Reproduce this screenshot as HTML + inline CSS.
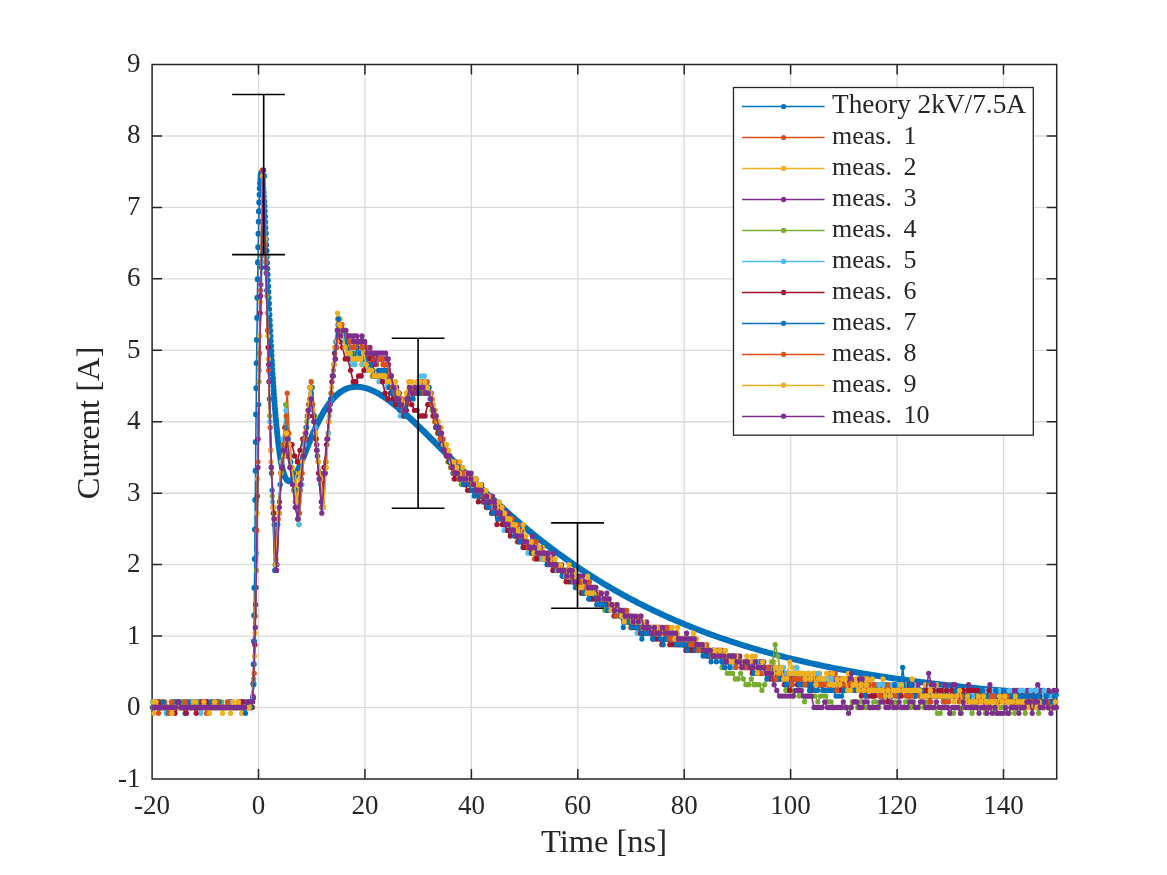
<!DOCTYPE html>
<html><head><meta charset="utf-8"><style>
html,body{margin:0;padding:0;background:#fff;}
svg{display:block;will-change:transform;}
text{font-family:"Liberation Serif",serif;fill:#262626;}
.tk{font-size:27px;}
.lg{font-size:26px;}
.al{font-size:32.5px;}
</style></head><body>
<svg width="1167" height="875" viewBox="0 0 1167 875">
<rect width="1167" height="875" fill="#fff"/>
<path d="M258.50 64.5V779.0M364.93 64.5V779.0M471.36 64.5V779.0M577.78 64.5V779.0M684.21 64.5V779.0M790.64 64.5V779.0M897.07 64.5V779.0M1003.50 64.5V779.0M152.1 707.55H1056.7M152.1 636.10H1056.7M152.1 564.65H1056.7M152.1 493.20H1056.7M152.1 421.75H1056.7M152.1 350.30H1056.7M152.1 278.85H1056.7M152.1 207.40H1056.7M152.1 135.95H1056.7" stroke="#dadada" stroke-width="1.35" fill="none"/>
<path d="M152.1 64.5H1056.7V779.0H152.1ZM152.1 779.0v-10.0M152.1 64.5v10.0M258.5 779.0v-10.0M258.5 64.5v10.0M364.9 779.0v-10.0M364.9 64.5v10.0M471.4 779.0v-10.0M471.4 64.5v10.0M577.8 779.0v-10.0M577.8 64.5v10.0M684.2 779.0v-10.0M684.2 64.5v10.0M790.6 779.0v-10.0M790.6 64.5v10.0M897.1 779.0v-10.0M897.1 64.5v10.0M1003.5 779.0v-10.0M1003.5 64.5v10.0M152.1 779.0h10.0M1056.7 779.0h-10.0M152.1 707.5h10.0M1056.7 707.5h-10.0M152.1 636.1h10.0M1056.7 636.1h-10.0M152.1 564.6h10.0M1056.7 564.6h-10.0M152.1 493.2h10.0M1056.7 493.2h-10.0M152.1 421.7h10.0M1056.7 421.7h-10.0M152.1 350.3h10.0M1056.7 350.3h-10.0M152.1 278.8h10.0M1056.7 278.8h-10.0M152.1 207.4h10.0M1056.7 207.4h-10.0M152.1 135.9h10.0M1056.7 135.9h-10.0M152.1 64.5h10.0M1056.7 64.5h-10.0" stroke="#262626" stroke-width="1.5" fill="none"/>
<path d="M253.2 698.1L253.4 683.5L253.7 664.2L254.0 641.2L254.2 615.5L254.5 587.9L254.8 559.1L255.0 529.6L255.3 500.0L255.6 470.7L255.8 442.1L256.1 414.5L256.4 388.2L256.6 363.2L256.9 339.7L257.2 317.9L257.4 297.7L257.7 279.2L258.0 262.4L258.2 247.3L258.5 233.8L258.8 221.8L259.0 211.4L259.3 202.4L259.6 194.8L259.8 188.4L260.1 183.3L260.4 179.2L260.6 176.2L260.9 174.2L261.2 173.1L261.4 172.8L261.7 173.2L262.0 174.3L262.2 176.1L262.5 178.4L262.8 181.2L263.0 184.5L263.3 188.2L263.6 192.2L263.8 196.6L264.1 201.3L264.4 206.2L264.6 211.3L264.9 216.6L265.2 222.1L265.4 227.7L265.7 233.4L265.9 239.2L266.2 245.0L266.5 250.9L266.7 256.8L267.0 262.7L267.3 268.7L267.5 274.6L267.8 280.5L268.1 286.3L268.3 292.1L268.6 297.8L268.9 303.5L269.1 309.2L269.4 314.7L269.7 320.2L269.9 325.5L270.2 330.8L270.5 336.0L270.7 341.1L271.0 346.1L271.3 351.0L271.5 355.8L271.8 360.5L272.1 365.1L272.3 369.6L272.6 374.0L272.9 378.3L273.1 382.4L273.4 386.5L273.7 390.5L273.9 394.3L274.2 398.1L274.5 401.7L274.7 405.2L275.0 408.7L275.3 412.0L275.5 415.2L275.8 418.4L276.1 421.4L276.3 424.4L276.6 427.2L276.9 429.9L277.1 432.6L277.4 435.2L277.7 437.6L277.9 440.0L278.2 442.3L278.5 444.6L278.7 446.7L279.0 448.7L279.3 450.7L279.5 452.6L279.8 454.4L280.1 456.2L280.3 457.8L280.6 459.4L280.8 461.0L281.1 462.4L281.4 463.8L281.6 465.1L281.9 466.4L282.2 467.6L282.4 468.7L282.7 469.8L283.0 470.8L283.2 471.8L283.5 472.7L283.8 473.6L284.0 474.4L284.3 475.1L284.6 475.8L284.8 476.4L285.1 477.1L285.4 477.6L285.6 478.1L285.9 478.6L286.2 479.0L286.4 479.4L286.7 479.7L287.0 480.0L287.5 480.5L288.0 480.9L288.6 481.1L289.1 481.2L289.6 481.2L290.2 481.1L290.7 480.8L291.2 480.5L291.8 480.0L292.3 479.5L292.8 478.9L293.1 478.6L293.4 478.3L293.6 477.9L293.9 477.5L294.2 477.1L294.4 476.7L294.7 476.3L295.0 475.8L295.2 475.4L295.5 474.9L295.7 474.4L296.0 474.0L296.3 473.5L296.5 472.9L296.8 472.4L297.1 471.9L297.3 471.3L297.6 470.8L297.9 470.2L298.1 469.7L298.4 469.1L298.7 468.5L298.9 467.9L299.2 467.3L299.5 466.7L299.7 466.1L300.0 465.5L300.3 464.8L300.5 464.2L300.8 463.6L301.1 462.9L301.3 462.3L301.6 461.7L301.9 461.0L302.1 460.4L302.4 459.7L302.7 459.0L302.9 458.4L303.2 457.7L303.5 457.1L303.7 456.4L304.0 455.7L304.3 455.1L304.5 454.4L304.8 453.7L305.1 453.0L305.3 452.4L305.6 451.7L305.9 451.0L306.1 450.4L306.4 449.7L306.7 449.0L306.9 448.4L307.2 447.7L307.5 447.0L307.7 446.3L308.0 445.7L308.3 445.0L308.5 444.4L308.8 443.7L309.1 443.0L309.3 442.4L309.6 441.7L309.9 441.1L310.1 440.4L310.4 439.8L310.6 439.1L310.9 438.5L311.2 437.8L311.4 437.2L311.7 436.6L312.0 435.9L312.2 435.3L312.5 434.7L312.8 434.1L313.0 433.4L313.3 432.8L313.6 432.2L313.8 431.6L314.1 431.0L314.4 430.4L314.6 429.8L314.9 429.2L315.2 428.6L315.4 428.0L315.7 427.4L316.0 426.9L316.2 426.3L316.5 425.7L316.8 425.1L317.0 424.6L317.3 424.0L317.6 423.5L317.8 422.9L318.1 422.4L318.4 421.8L318.6 421.3L318.9 420.8L319.2 420.2L319.4 419.7L319.7 419.2L320.0 418.7L320.2 418.2L320.5 417.6L320.8 417.1L321.0 416.6L321.3 416.1L321.6 415.7L321.8 415.2L322.1 414.7L322.4 414.2L322.6 413.7L322.9 413.3L323.2 412.8L323.4 412.4L323.7 411.9L324.0 411.4L324.2 411.0L324.5 410.6L324.8 410.1L325.0 409.7L325.3 409.3L325.5 408.8L325.8 408.4L326.1 408.0L326.3 407.6L326.6 407.2L326.9 406.8L327.1 406.4L327.4 406.0L327.7 405.6L327.9 405.2L328.2 404.9L328.5 404.5L328.7 404.1L329.0 403.8L329.3 403.4L329.5 403.0L329.8 402.7L330.1 402.3L330.3 402.0L330.6 401.7L330.9 401.3L331.1 401.0L331.4 400.7L331.7 400.4L331.9 400.0L332.2 399.7L332.5 399.4L332.7 399.1L333.3 398.5L333.8 397.9L334.3 397.4L334.9 396.8L335.4 396.3L335.9 395.8L336.5 395.3L337.0 394.8L337.5 394.4L338.1 393.9L338.6 393.5L339.1 393.1L339.7 392.7L340.2 392.3L340.7 391.9L341.2 391.5L341.8 391.2L342.3 390.9L342.8 390.6L343.4 390.3L343.9 390.0L344.4 389.7L345.0 389.4L345.5 389.2L346.0 388.9L346.6 388.7L347.1 388.5L347.6 388.3L348.2 388.1L348.7 388.0L349.2 387.8L349.8 387.7L350.3 387.5L350.8 387.4L351.4 387.3L351.9 387.2L352.4 387.1L353.0 387.0L353.5 387.0L354.0 386.9L354.6 386.9L355.1 386.8L355.6 386.8L356.1 386.8L356.7 386.8L357.2 386.8L357.7 386.8L358.3 386.8L358.8 386.9L359.3 386.9L359.9 387.0L360.4 387.0L360.9 387.1L361.5 387.2L362.0 387.3L362.5 387.4L363.1 387.5L363.6 387.6L364.1 387.7L364.7 387.8L365.2 388.0L365.7 388.1L366.3 388.3L366.8 388.4L367.3 388.6L367.9 388.8L368.4 389.0L368.9 389.2L369.5 389.4L370.0 389.6L370.5 389.8L371.0 390.0L371.6 390.2L372.1 390.4L372.6 390.7L373.2 390.9L373.7 391.2L374.2 391.4L374.8 391.7L375.3 392.0L375.8 392.2L376.4 392.5L376.9 392.8L377.4 393.1L378.0 393.4L378.5 393.7L379.0 394.0L379.6 394.3L380.1 394.6L380.6 394.9L381.2 395.3L381.7 395.6L382.2 395.9L382.8 396.3L383.3 396.6L383.8 397.0L384.4 397.3L384.9 397.7L385.4 398.0L385.9 398.4L386.5 398.8L387.0 399.1L387.5 399.5L388.1 399.9L388.6 400.3L389.1 400.7L389.7 401.1L390.2 401.5L390.7 401.9L391.3 402.3L391.8 402.7L392.3 403.1L392.9 403.5L393.4 403.9L393.9 404.3L394.5 404.8L395.0 405.2L395.5 405.6L396.1 406.0L396.6 406.5L397.1 406.9L397.7 407.4L398.2 407.8L398.7 408.2L399.3 408.7L399.8 409.1L400.3 409.6L400.8 410.1L401.4 410.5L401.9 411.0L402.4 411.4L403.0 411.9L403.5 412.4L404.0 412.8L404.6 413.3L405.1 413.8L405.6 414.3L406.2 414.7L406.7 415.2L407.2 415.7L407.8 416.2L408.3 416.7L408.8 417.1L409.4 417.6L409.9 418.1L410.4 418.6L411.0 419.1L411.5 419.6L412.0 420.1L412.6 420.6L413.1 421.1L413.6 421.6L414.2 422.1L414.7 422.6L415.2 423.1L415.7 423.6L416.3 424.1L416.8 424.6L417.3 425.1L417.9 425.7L418.4 426.2L418.9 426.7L419.5 427.2L420.0 427.7L420.5 428.2L421.1 428.7L421.6 429.3L422.1 429.8L422.7 430.3L423.2 430.8L423.7 431.3L424.3 431.9L424.8 432.4L425.3 432.9L425.9 433.4L426.4 434.0L426.9 434.5L427.5 435.0L428.0 435.5L428.5 436.1L429.1 436.6L429.6 437.1L430.1 437.6L430.6 438.2L431.2 438.7L431.7 439.2L432.2 439.8L432.8 440.3L433.3 440.8L433.8 441.4L434.4 441.9L434.9 442.4L435.4 443.0L436.0 443.5L436.5 444.0L437.0 444.6L437.6 445.1L438.1 445.6L438.6 446.2L439.2 446.7L439.7 447.2L440.2 447.8L440.8 448.3L441.3 448.8L441.8 449.4L442.4 449.9L442.9 450.4L443.4 451.0L444.0 451.5L444.5 452.1L445.0 452.6L445.5 453.1L446.1 453.7L446.6 454.2L447.1 454.7L447.7 455.3L448.2 455.8L448.7 456.3L449.3 456.9L449.8 457.4L450.3 457.9L450.9 458.5L451.4 459.0L451.9 459.5L452.5 460.1L453.0 460.6L453.5 461.1L454.1 461.7L454.6 462.2L455.1 462.7L455.7 463.3L456.2 463.8L456.7 464.3L457.3 464.9L457.8 465.4L458.3 465.9L458.9 466.5L459.4 467.0L459.9 467.5L460.4 468.0L461.0 468.6L461.5 469.1L462.0 469.6L462.6 470.2L463.1 470.7L463.6 471.2L464.2 471.7L464.7 472.3L465.2 472.8L465.8 473.3L466.3 473.8L466.8 474.4L467.4 474.9L467.9 475.4L468.4 475.9L469.0 476.5L469.5 477.0L470.0 477.5L470.6 478.0L471.1 478.5L471.6 479.1L472.2 479.6L472.7 480.1L473.2 480.6L473.8 481.1L474.3 481.7L474.8 482.2L475.3 482.7L475.9 483.2L476.4 483.7L476.9 484.2L477.5 484.7L478.0 485.3L478.5 485.8L479.1 486.3L479.6 486.8L480.1 487.3L480.7 487.8L481.2 488.3L481.7 488.8L482.3 489.3L482.8 489.8L483.3 490.3L483.9 490.8L484.4 491.4L484.9 491.9L485.5 492.4L486.0 492.9L486.5 493.4L487.1 493.9L487.6 494.4L488.1 494.9L488.7 495.4L489.2 495.9L489.7 496.4L490.2 496.9L490.8 497.4L491.3 497.8L491.8 498.3L492.4 498.8L492.9 499.3L493.4 499.8L494.0 500.3L494.5 500.8L495.0 501.3L495.6 501.8L496.1 502.3L496.6 502.8L497.2 503.2L497.7 503.7L498.2 504.2L498.8 504.7L499.3 505.2L499.8 505.7L500.4 506.1L500.9 506.6L501.4 507.1L502.0 507.6L502.5 508.1L503.0 508.5L503.6 509.0L504.1 509.5L504.6 510.0L505.1 510.5L505.7 510.9L506.2 511.4L506.7 511.9L507.3 512.3L507.8 512.8L508.3 513.3L508.9 513.8L509.4 514.2L509.9 514.7L510.5 515.2L511.0 515.6L511.5 516.1L512.1 516.6L512.6 517.0L513.1 517.5L513.7 517.9L514.2 518.4L514.7 518.9L515.3 519.3L515.8 519.8L516.3 520.2L516.9 520.7L517.4 521.1L517.9 521.6L518.5 522.1L519.0 522.5L519.5 523.0L520.0 523.4L520.6 523.9L521.1 524.3L521.6 524.8L522.2 525.2L522.7 525.7L523.2 526.1L523.8 526.6L524.3 527.0L524.8 527.4L525.4 527.9L525.9 528.3L526.4 528.8L527.0 529.2L527.5 529.6L528.0 530.1L528.6 530.5L529.1 531.0L529.6 531.4L530.2 531.8L530.7 532.3L531.2 532.7L531.8 533.1L532.3 533.6L532.8 534.0L533.4 534.4L533.9 534.8L534.4 535.3L534.9 535.7L535.5 536.1L536.0 536.6L536.5 537.0L537.1 537.4L537.6 537.8L538.1 538.2L538.7 538.7L539.2 539.1L539.7 539.5L540.3 539.9L540.8 540.3L541.3 540.8L541.9 541.2L542.4 541.6L542.9 542.0L543.5 542.4L544.0 542.8L544.5 543.2L545.1 543.7L545.6 544.1L546.1 544.5L546.7 544.9L547.2 545.3L547.7 545.7L548.3 546.1L548.8 546.5L549.3 546.9L549.8 547.3L550.4 547.7L550.9 548.1L551.4 548.5L552.0 548.9L552.5 549.3L553.0 549.7L553.6 550.1L554.1 550.5L554.6 550.9L555.2 551.3L555.7 551.7L556.2 552.1L556.8 552.5L557.3 552.9L557.8 553.3L558.4 553.6L558.9 554.0L559.4 554.4L560.0 554.8L560.5 555.2L561.0 555.6L561.6 556.0L562.1 556.3L562.6 556.7L563.2 557.1L563.7 557.5L564.2 557.9L564.7 558.2L565.3 558.6L565.8 559.0L566.3 559.4L566.9 559.8L567.4 560.1L567.9 560.5L568.5 560.9L569.0 561.3L569.5 561.6L570.1 562.0L570.6 562.4L571.1 562.7L571.7 563.1L572.2 563.5L572.7 563.8L573.3 564.2L573.8 564.6L574.3 564.9L574.9 565.3L575.4 565.7L575.9 566.0L576.5 566.4L577.0 566.7L577.5 567.1L578.1 567.5L578.6 567.8L579.1 568.2L579.6 568.5L580.2 568.9L580.7 569.2L581.2 569.6L581.8 569.9L582.3 570.3L582.8 570.6L583.4 571.0L583.9 571.3L584.4 571.7L585.0 572.0L585.5 572.4L586.0 572.7L586.6 573.1L587.1 573.4L587.6 573.8L588.2 574.1L588.7 574.4L589.2 574.8L589.8 575.1L590.3 575.5L590.8 575.8L591.4 576.1L591.9 576.5L592.4 576.8L592.9 577.2L593.5 577.5L594.0 577.8L594.5 578.2L595.1 578.5L595.6 578.8L596.1 579.1L596.7 579.5L597.2 579.8L597.7 580.1L598.3 580.5L598.8 580.8L599.3 581.1L599.9 581.4L600.4 581.8L600.9 582.1L601.5 582.4L602.0 582.7L602.5 583.1L603.1 583.4L603.6 583.7L604.1 584.0L604.7 584.3L605.2 584.7L605.7 585.0L606.3 585.3L606.8 585.6L607.3 585.9L607.8 586.2L608.4 586.5L608.9 586.9L609.4 587.2L610.0 587.5L610.5 587.8L611.0 588.1L611.6 588.4L612.1 588.7L612.6 589.0L613.2 589.3L613.7 589.6L614.2 589.9L614.8 590.2L615.3 590.5L615.8 590.9L616.4 591.2L616.9 591.5L617.4 591.8L618.0 592.1L618.5 592.4L619.0 592.7L619.6 593.0L620.1 593.2L620.6 593.5L621.2 593.8L621.7 594.1L622.2 594.4L622.7 594.7L623.3 595.0L623.8 595.3L624.3 595.6L624.9 595.9L625.4 596.2L625.9 596.5L626.5 596.8L627.0 597.0L627.5 597.3L628.1 597.6L628.6 597.9L629.1 598.2L629.7 598.5L630.2 598.8L630.7 599.0L631.3 599.3L631.8 599.6L632.3 599.9L632.9 600.2L633.4 600.4L633.9 600.7L634.5 601.0L635.0 601.3L635.5 601.6L636.1 601.8L636.6 602.1L637.1 602.4L637.6 602.7L638.2 602.9L638.7 603.2L639.2 603.5L639.8 603.7L640.3 604.0L640.8 604.3L641.4 604.6L641.9 604.8L642.4 605.1L643.0 605.4L643.5 605.6L644.0 605.9L644.6 606.2L645.1 606.4L645.6 606.7L646.2 606.9L646.7 607.2L647.2 607.5L647.8 607.7L648.3 608.0L648.8 608.3L649.4 608.5L649.9 608.8L650.4 609.0L651.0 609.3L651.5 609.5L652.0 609.8L652.5 610.1L653.1 610.3L653.6 610.6L654.1 610.8L654.7 611.1L655.2 611.3L655.7 611.6L656.3 611.8L656.8 612.1L657.3 612.3L657.9 612.6L658.4 612.8L658.9 613.1L659.5 613.3L660.0 613.6L660.5 613.8L661.1 614.1L661.6 614.3L662.1 614.5L662.7 614.8L663.2 615.0L663.7 615.3L664.3 615.5L664.8 615.8L665.3 616.0L665.9 616.2L666.4 616.5L666.9 616.7L667.4 617.0L668.0 617.2L668.5 617.4L669.0 617.7L669.6 617.9L670.1 618.1L670.6 618.4L671.2 618.6L671.7 618.8L672.2 619.1L672.8 619.3L673.3 619.5L673.8 619.8L674.4 620.0L674.9 620.2L675.4 620.5L676.0 620.7L676.5 620.9L677.0 621.1L677.6 621.4L678.1 621.6L678.6 621.8L679.2 622.0L679.7 622.3L680.2 622.5L680.8 622.7L681.3 622.9L681.8 623.2L682.3 623.4L682.9 623.6L683.4 623.8L683.9 624.0L684.5 624.3L685.0 624.5L685.5 624.7L686.1 624.9L686.6 625.1L687.1 625.4L687.7 625.6L688.2 625.8L688.7 626.0L689.3 626.2L689.8 626.4L690.3 626.6L690.9 626.9L691.4 627.1L691.9 627.3L692.5 627.5L693.0 627.7L693.5 627.9L694.1 628.1L694.6 628.3L695.1 628.5L695.7 628.8L696.2 629.0L696.7 629.2L697.2 629.4L697.8 629.6L698.3 629.8L698.8 630.0L699.4 630.2L699.9 630.4L700.4 630.6L701.0 630.8L701.5 631.0L702.0 631.2L702.6 631.4L703.1 631.6L703.6 631.8L704.2 632.0L704.7 632.2L705.2 632.4L705.8 632.6L706.3 632.8L706.8 633.0L707.4 633.2L707.9 633.4L708.4 633.6L709.0 633.8L709.5 634.0L710.0 634.2L710.6 634.4L711.1 634.6L711.6 634.8L712.1 634.9L712.7 635.1L713.2 635.3L713.7 635.5L714.3 635.7L714.8 635.9L715.3 636.1L715.9 636.3L716.4 636.5L716.9 636.7L717.5 636.8L718.0 637.0L718.5 637.2L719.1 637.4L719.6 637.6L720.1 637.8L720.7 638.0L721.2 638.1L721.7 638.3L722.3 638.5L722.8 638.7L723.3 638.9L723.9 639.1L724.4 639.2L724.9 639.4L725.5 639.6L726.0 639.8L726.5 640.0L727.0 640.1L727.6 640.3L728.1 640.5L728.6 640.7L729.2 640.8L729.7 641.0L730.2 641.2L730.8 641.4L731.3 641.5L731.8 641.7L732.4 641.9L732.9 642.1L733.4 642.2L734.0 642.4L734.5 642.6L735.0 642.8L735.6 642.9L736.1 643.1L736.6 643.3L737.2 643.4L737.7 643.6L738.2 643.8L738.8 644.0L739.3 644.1L739.8 644.3L740.4 644.5L740.9 644.6L741.4 644.8L741.9 645.0L742.5 645.1L743.0 645.3L743.5 645.5L744.1 645.6L744.6 645.8L745.1 645.9L745.7 646.1L746.2 646.3L746.7 646.4L747.3 646.6L747.8 646.8L748.3 646.9L748.9 647.1L749.4 647.2L749.9 647.4L750.5 647.6L751.0 647.7L751.5 647.9L752.1 648.0L752.6 648.2L753.1 648.4L753.7 648.5L754.2 648.7L754.7 648.8L755.3 649.0L755.8 649.1L756.3 649.3L756.8 649.4L757.4 649.6L757.9 649.8L758.4 649.9L759.0 650.1L759.5 650.2L760.0 650.4L760.6 650.5L761.1 650.7L761.6 650.8L762.2 651.0L762.7 651.1L763.2 651.3L763.8 651.4L764.3 651.6L764.8 651.7L765.4 651.9L765.9 652.0L766.4 652.2L767.0 652.3L767.5 652.5L768.0 652.6L768.6 652.7L769.1 652.9L769.6 653.0L770.2 653.2L770.7 653.3L771.2 653.5L771.7 653.6L772.3 653.8L772.8 653.9L773.3 654.0L773.9 654.2L774.4 654.3L774.9 654.5L775.5 654.6L776.0 654.7L776.5 654.9L777.1 655.0L777.6 655.2L778.1 655.3L778.7 655.4L779.2 655.6L779.7 655.7L780.3 655.9L780.8 656.0L781.3 656.1L781.9 656.3L782.4 656.4L782.9 656.5L783.5 656.7L784.0 656.8L784.5 657.0L785.1 657.1L785.6 657.2L786.1 657.4L786.6 657.5L787.2 657.6L787.7 657.8L788.2 657.9L788.8 658.0L789.3 658.2L789.8 658.3L790.4 658.4L790.9 658.5L791.4 658.7L792.0 658.8L792.5 658.9L793.0 659.1L793.6 659.2L794.1 659.3L794.6 659.5L795.2 659.6L795.7 659.7L796.2 659.8L796.8 660.0L797.3 660.1L797.8 660.2L798.4 660.3L798.9 660.5L799.4 660.6L800.0 660.7L800.5 660.8L801.0 661.0L801.5 661.1L802.1 661.2L802.6 661.3L803.1 661.5L803.7 661.6L804.2 661.7L804.7 661.8L805.3 661.9L805.8 662.1L806.3 662.2L806.9 662.3L807.4 662.4L807.9 662.6L808.5 662.7L809.0 662.8L809.5 662.9L810.1 663.0L810.6 663.1L811.1 663.3L811.7 663.4L812.2 663.5L812.7 663.6L813.3 663.7L813.8 663.9L814.3 664.0L814.9 664.1L815.4 664.2L815.9 664.3L816.4 664.4L817.0 664.5L817.5 664.7L818.0 664.8L818.6 664.9L819.1 665.0L819.6 665.1L820.2 665.2L820.7 665.3L821.2 665.5L821.8 665.6L822.3 665.7L822.8 665.8L823.4 665.9L823.9 666.0L824.4 666.1L825.0 666.2L825.5 666.3L826.0 666.5L826.6 666.6L827.1 666.7L827.6 666.8L828.2 666.9L828.7 667.0L829.2 667.1L829.8 667.2L830.3 667.3L830.8 667.4L831.3 667.5L831.9 667.6L832.4 667.8L832.9 667.9L833.5 668.0L834.0 668.1L834.5 668.2L835.1 668.3L835.6 668.4L836.1 668.5L836.7 668.6L837.2 668.7L837.7 668.8L838.3 668.9L838.8 669.0L839.3 669.1L839.9 669.2L840.4 669.3L840.9 669.4L841.5 669.5L842.0 669.6L842.5 669.7L843.1 669.8L843.6 669.9L844.1 670.0L844.7 670.1L845.2 670.2L845.7 670.3L846.2 670.4L846.8 670.5L847.3 670.6L847.8 670.7L848.4 670.8L848.9 670.9L849.4 671.0L850.0 671.1L850.5 671.2L851.0 671.3L851.6 671.4L852.1 671.5L852.6 671.6L853.2 671.7L853.7 671.8L854.2 671.9L854.8 672.0L855.3 672.1L855.8 672.2L856.4 672.3L856.9 672.4L857.4 672.5L858.0 672.5L858.5 672.6L859.0 672.7L859.6 672.8L860.1 672.9L860.6 673.0L861.1 673.1L861.7 673.2L862.2 673.3L862.7 673.4L863.3 673.5L863.8 673.6L864.3 673.7L864.9 673.7L865.4 673.8L865.9 673.9L866.5 674.0L867.0 674.1L867.5 674.2L868.1 674.3L868.6 674.4L869.1 674.5L869.7 674.5L870.2 674.6L870.7 674.7L871.3 674.8L871.8 674.9L872.3 675.0L872.9 675.1L873.4 675.2L873.9 675.2L874.5 675.3L875.0 675.4L875.5 675.5L876.0 675.6L876.6 675.7L877.1 675.8L877.6 675.8L878.2 675.9L878.7 676.0L879.2 676.1L879.8 676.2L880.3 676.3L880.8 676.4L881.4 676.4L881.9 676.5L882.4 676.6L883.0 676.7L883.5 676.8L884.0 676.9L884.6 676.9L885.1 677.0L885.6 677.1L886.2 677.2L886.7 677.3L887.2 677.3L887.8 677.4L888.3 677.5L888.8 677.6L889.4 677.7L889.9 677.7L890.4 677.8L890.9 677.9L891.5 678.0L892.0 678.1L892.5 678.1L893.1 678.2L893.6 678.3L894.1 678.4L894.7 678.5L895.2 678.5L895.7 678.6L896.3 678.7L896.8 678.8L897.3 678.8L897.9 678.9L898.4 679.0L898.9 679.1L899.5 679.1L900.0 679.2L900.5 679.3L901.1 679.4L901.6 679.4L902.1 679.5L902.7 679.6L903.2 679.7L903.7 679.7L904.3 679.8L904.8 679.9L905.3 680.0L905.8 680.0L906.4 680.1L906.9 680.2L907.4 680.3L908.0 680.3L908.5 680.4L909.0 680.5L909.6 680.6L910.1 680.6L910.6 680.7L911.2 680.8L911.7 680.8L912.2 680.9L912.8 681.0L913.3 681.1L913.8 681.1L914.4 681.2L914.9 681.3L915.4 681.3L916.0 681.4L916.5 681.5L917.0 681.6L917.6 681.6L918.1 681.7L918.6 681.8L919.2 681.8L919.7 681.9L920.2 682.0L920.7 682.0L921.3 682.1L921.8 682.2L922.3 682.2L922.9 682.3L923.4 682.4L923.9 682.4L924.5 682.5L925.0 682.6L925.5 682.6L926.1 682.7L926.6 682.8L927.1 682.8L927.7 682.9L928.2 683.0L928.7 683.0L929.3 683.1L929.8 683.2L930.3 683.2L930.9 683.3L931.4 683.4L931.9 683.4L932.5 683.5L933.0 683.6L933.5 683.6L934.1 683.7L934.6 683.8L935.1 683.8L935.6 683.9L936.2 683.9L936.7 684.0L937.2 684.1L937.8 684.1L938.3 684.2L938.8 684.3L939.4 684.3L939.9 684.4L940.4 684.4L941.0 684.5L941.5 684.6L942.0 684.6L942.6 684.7L943.1 684.8L943.6 684.8L944.2 684.9L944.7 684.9L945.2 685.0L945.8 685.1L946.3 685.1L946.8 685.2L947.4 685.2L947.9 685.3L948.4 685.4L949.0 685.4L949.5 685.5L950.0 685.5L950.5 685.6L951.1 685.7L951.6 685.7L952.1 685.8L952.7 685.8L953.2 685.9L953.7 685.9L954.3 686.0L954.8 686.1L955.3 686.1L955.9 686.2L956.4 686.2L956.9 686.3L957.5 686.3L958.0 686.4L958.5 686.5L959.1 686.5L959.6 686.6L960.1 686.6L960.7 686.7L961.2 686.7L961.7 686.8L962.3 686.9L962.8 686.9L963.3 687.0L963.9 687.0L964.4 687.1L964.9 687.1L965.4 687.2L966.0 687.2L966.5 687.3L967.0 687.3L967.6 687.4L968.1 687.5L968.6 687.5L969.2 687.6L969.7 687.6L970.2 687.7L970.8 687.7L971.3 687.8L971.8 687.8L972.4 687.9L972.9 687.9L973.4 688.0L974.0 688.0L974.5 688.1L975.0 688.1L975.6 688.2L976.1 688.2L976.6 688.3L977.2 688.4L977.7 688.4L978.2 688.5L978.8 688.5L979.3 688.6L979.8 688.6L980.3 688.7L980.9 688.7L981.4 688.8L981.9 688.8L982.5 688.9L983.0 688.9L983.5 689.0L984.1 689.0L984.6 689.1L985.1 689.1L985.7 689.2L986.2 689.2L986.7 689.3L987.3 689.3L987.8 689.4L988.3 689.4L988.9 689.5L989.4 689.5L989.9 689.6L990.5 689.6L991.0 689.6L991.5 689.7L992.1 689.7L992.6 689.8L993.1 689.8L993.7 689.9L994.2 689.9L994.7 690.0L995.2 690.0L995.8 690.1L996.3 690.1L996.8 690.2L997.4 690.2L997.9 690.3L998.4 690.3L999.0 690.4L999.5 690.4L1000.0 690.4L1000.6 690.5L1001.1 690.5L1001.6 690.6L1002.2 690.6L1002.7 690.7L1003.2 690.7L1003.8 690.8L1004.3 690.8L1004.8 690.9L1005.4 690.9L1005.9 690.9L1006.4 691.0L1007.0 691.0L1007.5 691.1L1008.0 691.1L1008.6 691.2L1009.1 691.2L1009.6 691.3L1010.1 691.3L1010.7 691.3L1011.2 691.4L1011.7 691.4L1012.3 691.5L1012.8 691.5L1013.3 691.6L1013.9 691.6L1014.4 691.6L1014.9 691.7L1015.5 691.7L1016.0 691.8L1016.5 691.8L1017.1 691.9L1017.6 691.9L1018.1 691.9L1018.7 692.0L1019.2 692.0L1019.7 692.1L1020.3 692.1L1020.8 692.1L1021.3 692.2L1021.9 692.2L1022.4 692.3L1022.9 692.3L1023.5 692.4L1024.0 692.4L1024.5 692.4L1025.0 692.5L1025.6 692.5L1026.1 692.6L1026.6 692.6L1027.2 692.6L1027.7 692.7L1028.2 692.7L1028.8 692.8L1029.3 692.8L1029.8 692.8L1030.4 692.9L1030.9 692.9L1031.4 693.0L1032.0 693.0L1032.5 693.0L1033.0 693.1L1033.6 693.1L1034.1 693.2L1034.6 693.2L1035.2 693.2L1035.7 693.3L1036.2 693.3L1036.8 693.3L1037.3 693.4L1037.8 693.4L1038.4 693.5L1038.9 693.5L1039.4 693.5L1039.9 693.6L1040.5 693.6L1041.0 693.6L1041.5 693.7L1042.1 693.7L1042.6 693.8L1043.1 693.8L1043.7 693.8L1044.2 693.9L1044.7 693.9L1045.3 693.9L1045.8 694.0L1046.3 694.0L1046.9 694.1L1047.4 694.1L1047.9 694.1L1048.5 694.2L1049.0 694.2L1049.5 694.2L1050.1 694.3L1050.6 694.3L1051.1 694.3L1051.7 694.4L1052.2 694.4L1052.7 694.4L1053.3 694.5L1053.8 694.5L1054.3 694.5L1054.8 694.6L1055.4 694.6L1055.9 694.7L1056.4 694.7" stroke="#0072BD" stroke-width="1.6" fill="none" stroke-linejoin="round"/>
<path d="M253.2 698.1h0M253.4 683.5h0M253.7 664.2h0M254.0 641.2h0M254.2 615.5h0M254.5 587.9h0M254.8 559.1h0M255.0 529.6h0M255.3 500.0h0M255.6 470.7h0M255.8 442.1h0M256.1 414.5h0M256.4 388.2h0M256.6 363.2h0M256.9 339.7h0M257.2 317.9h0M257.4 297.7h0M257.7 279.2h0M258.0 262.4h0M258.2 247.3h0M258.5 233.8h0M258.8 221.8h0M259.0 211.4h0M259.3 202.4h0M259.6 194.8h0M259.8 188.4h0M260.1 183.3h0M260.4 179.2h0M260.6 176.2h0M260.9 174.2h0M261.2 173.1h0M262.0 174.3h0M262.2 176.1h0M262.5 178.4h0M262.8 181.2h0M263.0 184.5h0M263.3 188.2h0M263.6 192.2h0M263.8 196.6h0M264.1 201.3h0M264.4 206.2h0M264.6 211.3h0M264.9 216.6h0M265.2 222.1h0M265.4 227.7h0M265.7 233.4h0M265.9 239.2h0M266.2 245.0h0M266.5 250.9h0M266.7 256.8h0M267.0 262.7h0M267.3 268.7h0M267.5 274.6h0M267.8 280.5h0M268.1 286.3h0M268.3 292.1h0M268.6 297.8h0M268.9 303.5h0M269.1 309.2h0M269.4 314.7h0M269.7 320.2h0M269.9 325.5h0M270.2 330.8h0M270.5 336.0h0M270.7 341.1h0M271.0 346.1h0M271.3 351.0h0M271.5 355.8h0M271.8 360.5h0M272.1 365.1h0M272.3 369.6h0M272.6 374.0h0M272.9 378.3h0M273.1 382.4h0M273.4 386.5h0M273.7 390.5h0M273.9 394.3h0M274.2 398.1h0M274.5 401.7h0M274.7 405.2h0M275.0 408.7h0M275.3 412.0h0M275.5 415.2h0M275.8 418.4h0M276.1 421.4h0M276.3 424.4h0M276.6 427.2h0M276.9 429.9h0M277.1 432.6h0M277.4 435.2h0M277.7 437.6h0M277.9 440.0h0M278.2 442.3h0M278.5 444.6h0M278.7 446.7h0M279.0 448.7h0M279.3 450.7h0M279.5 452.6h0M279.8 454.4h0M280.1 456.2h0M280.3 457.8h0M280.6 459.4h0M280.8 461.0h0M281.1 462.4h0M281.4 463.8h0M281.6 465.1h0M281.9 466.4h0M282.2 467.6h0M282.4 468.7h0M282.7 469.8h0M283.0 470.8h0M283.5 472.7h0M284.0 474.4h0M284.6 475.8h0M285.1 477.1h0M285.6 478.1h0M286.2 479.0h0M287.0 480.0h0M287.8 480.7h0M288.8 481.2h0M289.9 481.1h0M291.0 480.7h0M291.8 480.0h0M292.6 479.2h0M293.4 478.3h0M294.2 477.1h0M295.0 475.8h0M295.5 474.9h0M296.0 474.0h0M296.5 472.9h0M297.1 471.9h0M297.6 470.8h0M298.1 469.7h0M298.7 468.5h0M299.2 467.3h0M299.7 466.1h0M300.3 464.8h0M300.8 463.6h0M301.3 462.3h0M301.9 461.0h0M302.4 459.7h0M302.9 458.4h0M303.5 457.1h0M304.0 455.7h0M304.5 454.4h0M305.1 453.0h0M305.6 451.7h0M306.1 450.4h0M306.7 449.0h0M307.2 447.7h0M307.7 446.3h0M308.3 445.0h0M308.8 443.7h0M309.3 442.4h0M309.9 441.1h0M310.4 439.8h0M310.9 438.5h0M311.4 437.2h0M312.0 435.9h0M312.5 434.7h0M313.0 433.4h0M313.6 432.2h0M314.1 431.0h0M314.6 429.8h0M315.2 428.6h0M315.7 427.4h0M316.2 426.3h0M316.8 425.1h0M317.3 424.0h0M317.8 422.9h0M318.4 421.8h0M318.9 420.8h0M319.4 419.7h0M320.0 418.7h0M320.5 417.6h0M321.0 416.6h0M321.6 415.7h0M322.1 414.7h0M322.6 413.7h0M323.2 412.8h0M323.7 411.9h0M324.2 411.0h0M324.8 410.1h0M325.3 409.3h0M326.1 408.0h0M326.9 406.8h0M327.7 405.6h0M328.5 404.5h0M329.3 403.4h0M330.1 402.3h0M330.9 401.3h0M331.7 400.4h0M332.5 399.4h0M333.3 398.5h0M334.1 397.7h0M334.9 396.8h0M335.7 396.1h0M336.5 395.3h0M337.3 394.6h0M338.1 393.9h0M338.9 393.3h0M339.7 392.7h0M340.7 391.9h0M341.8 391.2h0M342.8 390.6h0M343.9 390.0h0M345.0 389.4h0M346.0 388.9h0M347.1 388.5h0M348.2 388.1h0M349.2 387.8h0M350.3 387.5h0M351.4 387.3h0M352.4 387.1h0M353.5 387.0h0M354.6 386.9h0M355.6 386.8h0M356.7 386.8h0M357.7 386.8h0M358.8 386.9h0M359.9 387.0h0M360.9 387.1h0M362.0 387.3h0M363.1 387.5h0M364.1 387.7h0M365.2 388.0h0M366.3 388.3h0M367.3 388.6h0M368.4 389.0h0M369.5 389.4h0M370.5 389.8h0M371.6 390.2h0M372.6 390.7h0M373.7 391.2h0M374.8 391.7h0M375.8 392.2h0M376.9 392.8h0M378.0 393.4h0M379.0 394.0h0M380.1 394.6h0M381.2 395.3h0M382.2 395.9h0M383.3 396.6h0M384.4 397.3h0M385.4 398.0h0M386.5 398.8h0M387.5 399.5h0M388.6 400.3h0M389.7 401.1h0M390.7 401.9h0M391.5 402.5h0M392.3 403.1h0M393.1 403.7h0M393.9 404.3h0M394.7 405.0h0M395.5 405.6h0M396.3 406.3h0M397.1 406.9h0M397.9 407.6h0M398.7 408.2h0M399.5 408.9h0M400.3 409.6h0M401.1 410.3h0M401.9 411.0h0M402.7 411.7h0M403.5 412.4h0M404.3 413.1h0M405.1 413.8h0M405.9 414.5h0M406.7 415.2h0M407.5 415.9h0M408.3 416.7h0M409.1 417.4h0M409.9 418.1h0M410.7 418.9h0M411.5 419.6h0M412.3 420.4h0M413.1 421.1h0M413.9 421.9h0M414.7 422.6h0M415.5 423.4h0M416.3 424.1h0M417.1 424.9h0M417.9 425.7h0M418.7 426.4h0M419.5 427.2h0M420.3 428.0h0M421.1 428.7h0M421.9 429.5h0M422.7 430.3h0M423.5 431.1h0M424.3 431.9h0M425.1 432.6h0M425.9 433.4h0M426.7 434.2h0M427.5 435.0h0M428.3 435.8h0M429.1 436.6h0M429.8 437.4h0M430.6 438.2h0M431.4 439.0h0M432.2 439.8h0M433.0 440.6h0M433.8 441.4h0M434.6 442.2h0M435.4 443.0h0M436.2 443.8h0M437.0 444.6h0M437.8 445.4h0M438.6 446.2h0M439.4 447.0h0M440.2 447.8h0M441.0 448.6h0M441.8 449.4h0M442.6 450.2h0M443.4 451.0h0M444.2 451.8h0M445.0 452.6h0M445.8 453.4h0M446.6 454.2h0M447.4 455.0h0M448.2 455.8h0M449.0 456.6h0M449.8 457.4h0M450.6 458.2h0M451.4 459.0h0M452.2 459.8h0M453.0 460.6h0M453.8 461.4h0M454.6 462.2h0M455.4 463.0h0M456.2 463.8h0M457.0 464.6h0M457.8 465.4h0M458.6 466.2h0M459.4 467.0h0M460.2 467.8h0M461.0 468.6h0M461.8 469.4h0M462.6 470.2h0M463.4 471.0h0M464.2 471.7h0M465.0 472.5h0M465.8 473.3h0M466.6 474.1h0M467.4 474.9h0M468.2 475.7h0M469.0 476.5h0M469.8 477.2h0M470.6 478.0h0M471.4 478.8h0M472.2 479.6h0M473.0 480.4h0M473.8 481.1h0M474.5 481.9h0M475.3 482.7h0M476.1 483.5h0M476.9 484.2h0M477.7 485.0h0M478.5 485.8h0M479.3 486.5h0M480.1 487.3h0M480.9 488.1h0M481.7 488.8h0M482.5 489.6h0M483.3 490.3h0M484.1 491.1h0M484.9 491.9h0M485.7 492.6h0M486.5 493.4h0M487.3 494.1h0M488.1 494.9h0M488.9 495.6h0M489.7 496.4h0M490.5 497.1h0M491.3 497.8h0M492.1 498.6h0M492.9 499.3h0M493.7 500.1h0M494.5 500.8h0M495.3 501.5h0M496.1 502.3h0M496.9 503.0h0M497.7 503.7h0M498.5 504.5h0M499.3 505.2h0M500.1 505.9h0M500.9 506.6h0M501.7 507.4h0M502.5 508.1h0M503.3 508.8h0M504.1 509.5h0M504.9 510.2h0M505.7 510.9h0M506.5 511.6h0M507.3 512.3h0M508.1 513.1h0M508.9 513.8h0M509.7 514.5h0M510.5 515.2h0M511.3 515.9h0M512.1 516.6h0M512.9 517.2h0M513.7 517.9h0M514.5 518.6h0M515.3 519.3h0M516.1 520.0h0M516.9 520.7h0M517.7 521.4h0M518.5 522.1h0M519.2 522.7h0M520.0 523.4h0M520.8 524.1h0M521.6 524.8h0M522.4 525.4h0M523.2 526.1h0M524.0 526.8h0M524.8 527.4h0M525.6 528.1h0M526.4 528.8h0M527.2 529.4h0M528.0 530.1h0M528.8 530.7h0M529.6 531.4h0M530.4 532.0h0M531.2 532.7h0M532.0 533.3h0M532.8 534.0h0M533.6 534.6h0M534.4 535.3h0M535.2 535.9h0M536.0 536.6h0M536.8 537.2h0M537.6 537.8h0M538.4 538.5h0M539.2 539.1h0M540.0 539.7h0M540.8 540.3h0M541.6 541.0h0M542.4 541.6h0M543.2 542.2h0M544.0 542.8h0M544.8 543.5h0M545.6 544.1h0M546.4 544.7h0M547.2 545.3h0M548.0 545.9h0M548.8 546.5h0M549.6 547.1h0M550.4 547.7h0M551.4 548.5h0M552.5 549.3h0M553.6 550.1h0M554.6 550.9h0M555.7 551.7h0M556.8 552.5h0M557.8 553.3h0M558.9 554.0h0M560.0 554.8h0M561.0 555.6h0M562.1 556.3h0M563.2 557.1h0M564.2 557.9h0M565.3 558.6h0M566.3 559.4h0M567.4 560.1h0M568.5 560.9h0M569.5 561.6h0M570.6 562.4h0M571.7 563.1h0M572.7 563.8h0M573.8 564.6h0M574.9 565.3h0M575.9 566.0h0M577.0 566.7h0M578.1 567.5h0M579.1 568.2h0M580.2 568.9h0M581.2 569.6h0M582.3 570.3h0M583.4 571.0h0M584.4 571.7h0M585.5 572.4h0M586.6 573.1h0M587.6 573.8h0M588.7 574.4h0M589.8 575.1h0M590.8 575.8h0M591.9 576.5h0M592.9 577.2h0M594.0 577.8h0M595.1 578.5h0M596.1 579.1h0M597.2 579.8h0M598.3 580.5h0M599.3 581.1h0M600.4 581.8h0M601.5 582.4h0M602.5 583.1h0M603.6 583.7h0M604.7 584.3h0M605.7 585.0h0M606.8 585.6h0M607.8 586.2h0M608.9 586.9h0M610.0 587.5h0M611.0 588.1h0M612.1 588.7h0M613.2 589.3h0M614.2 589.9h0M615.3 590.5h0M616.4 591.2h0M617.4 591.8h0M618.5 592.4h0M619.6 593.0h0M620.6 593.5h0M621.7 594.1h0M622.7 594.7h0M623.8 595.3h0M624.9 595.9h0M625.9 596.5h0M627.0 597.0h0M628.1 597.6h0M629.1 598.2h0M630.2 598.8h0M631.3 599.3h0M632.3 599.9h0M633.4 600.4h0M634.5 601.0h0M635.5 601.6h0M636.6 602.1h0M637.6 602.7h0M638.7 603.2h0M639.8 603.7h0M640.8 604.3h0M641.9 604.8h0M643.0 605.4h0M644.0 605.9h0M645.1 606.4h0M646.2 606.9h0M647.2 607.5h0M648.3 608.0h0M649.4 608.5h0M650.4 609.0h0M651.5 609.5h0M652.5 610.1h0M653.6 610.6h0M654.7 611.1h0M655.7 611.6h0M656.8 612.1h0M657.9 612.6h0M658.9 613.1h0M660.0 613.6h0M661.1 614.1h0M662.1 614.5h0M663.2 615.0h0M664.3 615.5h0M665.3 616.0h0M666.4 616.5h0M667.4 617.0h0M668.5 617.4h0M669.6 617.9h0M670.6 618.4h0M671.7 618.8h0M672.8 619.3h0M673.8 619.8h0M674.9 620.2h0M676.0 620.7h0M677.0 621.1h0M678.1 621.6h0M679.2 622.0h0M680.2 622.5h0M681.3 622.9h0M682.3 623.4h0M683.4 623.8h0M684.5 624.3h0M685.5 624.7h0M686.6 625.1h0M687.7 625.6h0M688.7 626.0h0M689.8 626.4h0M690.9 626.9h0M691.9 627.3h0M693.0 627.7h0M694.1 628.1h0M695.1 628.5h0M696.2 629.0h0M697.2 629.4h0M698.3 629.8h0M699.4 630.2h0M700.4 630.6h0M701.5 631.0h0M702.6 631.4h0M703.6 631.8h0M704.7 632.2h0M705.8 632.6h0M706.8 633.0h0M707.9 633.4h0M709.0 633.8h0M710.0 634.2h0M711.1 634.6h0M712.1 634.9h0M713.2 635.3h0M714.3 635.7h0M715.3 636.1h0M716.4 636.5h0M717.5 636.8h0M718.5 637.2h0M719.6 637.6h0M720.7 638.0h0M721.7 638.3h0M722.8 638.7h0M723.9 639.1h0M724.9 639.4h0M726.0 639.8h0M727.0 640.1h0M728.1 640.5h0M729.2 640.8h0M730.2 641.2h0M731.3 641.5h0M732.4 641.9h0M733.4 642.2h0M734.5 642.6h0M735.6 642.9h0M736.6 643.3h0M737.7 643.6h0M738.8 644.0h0M739.8 644.3h0M740.9 644.6h0M741.9 645.0h0M743.0 645.3h0M744.1 645.6h0M745.1 645.9h0M746.2 646.3h0M747.3 646.6h0M748.3 646.9h0M749.4 647.2h0M750.5 647.6h0M751.5 647.9h0M752.6 648.2h0M753.7 648.5h0M754.7 648.8h0M755.8 649.1h0M756.8 649.4h0M757.9 649.8h0M759.0 650.1h0M760.0 650.4h0M761.1 650.7h0M762.2 651.0h0M763.2 651.3h0M764.3 651.6h0M765.4 651.9h0M766.4 652.2h0M767.5 652.5h0M768.6 652.7h0M769.6 653.0h0M770.7 653.3h0M771.7 653.6h0M772.8 653.9h0M773.9 654.2h0M774.9 654.5h0M776.0 654.7h0M777.1 655.0h0M778.1 655.3h0M779.2 655.6h0M780.3 655.9h0M781.3 656.1h0M782.4 656.4h0M783.5 656.7h0M784.5 657.0h0M785.6 657.2h0M786.6 657.5h0M787.7 657.8h0M788.8 658.0h0M789.8 658.3h0M790.9 658.5h0M792.0 658.8h0M793.0 659.1h0M794.1 659.3h0M795.2 659.6h0M796.2 659.8h0M797.3 660.1h0M798.4 660.3h0M799.4 660.6h0M800.5 660.8h0M801.5 661.1h0M802.6 661.3h0M803.7 661.6h0M804.7 661.8h0M805.8 662.1h0M806.9 662.3h0M807.9 662.6h0M809.0 662.8h0M810.1 663.0h0M811.1 663.3h0M812.2 663.5h0M813.3 663.7h0M814.3 664.0h0M815.4 664.2h0M816.4 664.4h0M817.5 664.7h0M818.6 664.9h0M819.6 665.1h0M820.7 665.3h0M821.8 665.6h0M822.8 665.8h0M823.9 666.0h0M825.0 666.2h0M826.0 666.5h0M827.1 666.7h0M828.2 666.9h0M829.2 667.1h0M830.3 667.3h0M831.3 667.5h0M832.4 667.8h0M833.5 668.0h0M834.5 668.2h0M835.6 668.4h0M836.7 668.6h0M837.7 668.8h0M838.8 669.0h0M839.9 669.2h0M840.9 669.4h0M842.0 669.6h0M843.1 669.8h0M844.1 670.0h0M845.2 670.2h0M846.2 670.4h0M847.3 670.6h0M848.4 670.8h0M849.4 671.0h0M850.5 671.2h0M851.6 671.4h0M852.6 671.6h0M853.7 671.8h0M854.8 672.0h0M855.8 672.2h0M856.9 672.4h0M858.0 672.5h0M859.0 672.7h0M860.1 672.9h0M861.1 673.1h0M862.2 673.3h0M863.3 673.5h0M864.3 673.7h0M865.4 673.8h0M866.5 674.0h0M867.5 674.2h0M868.6 674.4h0M869.7 674.5h0M870.7 674.7h0M871.8 674.9h0M872.9 675.1h0M873.9 675.2h0M875.0 675.4h0M876.0 675.6h0M877.1 675.8h0M878.2 675.9h0M879.2 676.1h0M880.3 676.3h0M881.4 676.4h0M882.4 676.6h0M883.5 676.8h0M884.6 676.9h0M885.6 677.1h0M886.7 677.3h0M887.8 677.4h0M888.8 677.6h0M889.9 677.7h0M890.9 677.9h0M892.0 678.1h0M893.1 678.2h0M894.1 678.4h0M895.2 678.5h0M896.3 678.7h0M897.3 678.8h0M898.4 679.0h0M899.5 679.1h0M900.5 679.3h0M901.6 679.4h0M902.7 679.6h0M903.7 679.7h0M904.8 679.9h0M905.8 680.0h0M906.9 680.2h0M908.0 680.3h0M909.0 680.5h0M910.1 680.6h0M911.2 680.8h0M912.2 680.9h0M913.3 681.1h0M914.4 681.2h0M915.4 681.3h0M916.5 681.5h0M917.6 681.6h0M918.6 681.8h0M919.7 681.9h0M920.7 682.0h0M921.8 682.2h0M922.9 682.3h0M923.9 682.4h0M925.0 682.6h0M926.1 682.7h0M927.1 682.8h0M928.2 683.0h0M929.3 683.1h0M930.3 683.2h0M931.4 683.4h0M932.5 683.5h0M933.5 683.6h0M934.6 683.8h0M935.6 683.9h0M936.7 684.0h0M937.8 684.1h0M938.8 684.3h0M939.9 684.4h0M941.0 684.5h0M942.0 684.6h0M943.1 684.8h0M944.2 684.9h0M945.2 685.0h0M946.3 685.1h0M947.4 685.2h0M948.4 685.4h0M949.5 685.5h0M950.5 685.6h0M951.6 685.7h0M952.7 685.8h0M953.7 685.9h0M954.8 686.1h0M955.9 686.2h0M956.9 686.3h0M958.0 686.4h0M959.1 686.5h0M960.1 686.6h0M961.2 686.7h0M962.3 686.9h0M963.3 687.0h0M964.4 687.1h0M965.4 687.2h0M966.5 687.3h0M967.6 687.4h0M968.6 687.5h0M969.7 687.6h0M970.8 687.7h0M971.8 687.8h0M972.9 687.9h0M974.0 688.0h0M975.0 688.1h0M976.1 688.2h0M977.2 688.4h0M978.2 688.5h0M979.3 688.6h0M980.3 688.7h0M981.4 688.8h0M982.5 688.9h0M983.5 689.0h0M984.6 689.1h0M985.7 689.2h0M986.7 689.3h0M987.8 689.4h0M988.9 689.5h0M989.9 689.6h0M991.0 689.6h0M992.1 689.7h0M993.1 689.8h0M994.2 689.9h0M995.2 690.0h0M996.3 690.1h0M997.4 690.2h0M998.4 690.3h0M999.5 690.4h0M1000.6 690.5h0M1001.6 690.6h0M1002.7 690.7h0M1003.8 690.8h0M1004.8 690.9h0M1005.9 690.9h0M1007.0 691.0h0M1008.0 691.1h0M1009.1 691.2h0M1010.1 691.3h0M1011.2 691.4h0M1012.3 691.5h0M1013.3 691.6h0M1014.4 691.6h0M1015.5 691.7h0M1016.5 691.8h0M1017.6 691.9h0M1018.7 692.0h0M1019.7 692.1h0M1020.8 692.1h0M1021.9 692.2h0M1022.9 692.3h0M1024.0 692.4h0M1025.0 692.5h0M1026.1 692.6h0M1027.2 692.6h0M1028.2 692.7h0M1029.3 692.8h0M1030.4 692.9h0M1031.4 693.0h0M1032.5 693.0h0M1033.6 693.1h0M1034.6 693.2h0M1035.7 693.3h0M1036.8 693.3h0M1037.8 693.4h0M1038.9 693.5h0M1039.9 693.6h0M1041.0 693.6h0M1042.1 693.7h0M1043.1 693.8h0M1044.2 693.9h0M1045.3 693.9h0M1046.3 694.0h0M1047.4 694.1h0M1048.5 694.2h0M1049.5 694.2h0M1050.6 694.3h0M1051.7 694.4h0M1052.7 694.4h0M1053.8 694.5h0M1054.8 694.6h0M1055.9 694.7h0" stroke="#0072BD" stroke-width="6.1" stroke-linecap="round" fill="none"/>
<path d="M154.2 701.8L156.9 707.5L159.5 707.5L162.2 701.8L164.8 701.8L167.5 707.5L170.2 707.5L172.8 707.5L175.5 707.5L178.1 707.5L180.8 701.8L183.5 707.5L186.1 707.5L188.8 707.5L191.5 707.5L194.1 701.8L196.8 701.8L199.4 707.5L202.1 707.5L204.8 701.8L207.4 707.5L210.1 707.5L212.7 701.8L215.4 707.5L218.1 707.5L220.7 707.5L223.4 707.5L226.0 707.5L228.7 707.5L231.4 707.5L234.0 707.5L236.7 707.5L239.3 707.5L242.0 701.8L244.7 707.5L247.3 707.5L250.0 701.8L252.6 701.8L255.3 616.1L258.0 461.8L260.6 290.3L263.3 176.0L265.9 261.7L268.6 370.3L271.3 467.5L273.9 513.2L276.6 564.6L279.3 513.2L281.9 461.8L284.6 427.5L287.2 393.2L289.9 444.6L292.6 473.2L295.2 501.8L297.9 518.9L300.5 490.3L303.2 456.0L305.9 427.5L308.5 404.6L311.2 381.7L313.8 416.0L316.5 444.6L319.2 473.2L321.8 507.5L324.5 473.2L327.1 438.9L329.8 404.6L332.5 376.0L335.1 347.4L337.8 318.9L340.4 324.6L343.1 330.3L345.8 330.3L348.4 341.7L351.1 347.4L353.8 347.4L356.4 347.4L359.1 341.7L361.7 347.4L364.4 353.2L367.1 353.2L369.7 358.9L372.4 353.2L375.0 358.9L377.7 358.9L380.4 358.9L383.0 364.6L385.7 370.3L388.3 370.3L391.0 376.0L393.7 393.2L396.3 393.2L399.0 404.6L401.6 404.6L404.3 404.6L407.0 404.6L409.6 387.5L412.3 387.5L414.9 393.2L417.6 387.5L420.3 393.2L422.9 393.2L425.6 387.5L428.3 393.2L430.9 398.9L433.6 410.3L436.2 421.7L438.9 427.5L441.6 438.9L444.2 444.6L446.9 450.3L449.5 461.8L452.2 467.5L454.9 467.5L457.5 467.5L460.2 473.2L462.8 473.2L465.5 473.2L468.2 484.6L470.8 478.9L473.5 484.6L476.1 478.9L478.8 490.3L481.5 490.3L484.1 496.1L486.8 507.5L489.4 501.8L492.1 501.8L494.8 507.5L497.4 507.5L500.1 513.2L502.8 518.9L505.4 518.9L508.1 518.9L510.7 524.6L513.4 530.4L516.1 530.4L518.7 536.1L521.4 536.1L524.0 536.1L526.7 547.5L529.4 541.8L532.0 547.5L534.7 558.9L537.3 553.2L540.0 558.9L542.7 553.2L545.3 558.9L548.0 553.2L550.6 564.6L553.3 558.9L556.0 564.6L558.6 564.6L561.3 564.6L563.9 570.4L566.6 570.4L569.3 576.1L571.9 570.4L574.6 576.1L577.3 581.8L579.9 581.8L582.6 587.5L585.2 587.5L587.9 587.5L590.6 587.5L593.2 593.2L595.9 598.9L598.5 593.2L601.2 593.2L603.9 598.9L606.5 598.9L609.2 604.7L611.8 604.7L614.5 604.7L617.2 610.4L619.8 610.4L622.5 616.1L625.1 610.4L627.8 621.8L630.5 621.8L633.1 627.5L635.8 621.8L638.4 621.8L641.1 621.8L643.8 627.5L646.4 633.2L649.1 633.2L651.8 633.2L654.4 633.2L657.1 627.5L659.7 633.2L662.4 633.2L665.1 633.2L667.7 639.0L670.4 639.0L673.0 639.0L675.7 639.0L678.4 639.0L681.0 639.0L683.7 639.0L686.3 644.7L689.0 644.7L691.7 644.7L694.3 650.4L697.0 644.7L699.6 644.7L702.3 644.7L705.0 644.7L707.6 650.4L710.3 650.4L712.9 650.4L715.6 650.4L718.3 650.4L720.9 650.4L723.6 656.1L726.3 656.1L728.9 656.1L731.6 656.1L734.2 661.8L736.9 661.8L739.6 661.8L742.2 667.5L744.9 667.5L747.5 667.5L750.2 667.5L752.9 673.3L755.5 673.3L758.2 673.3L760.8 673.3L763.5 673.3L766.2 667.5L768.8 667.5L771.5 673.3L774.1 667.5L776.8 673.3L779.5 679.0L782.1 673.3L784.8 679.0L787.4 673.3L790.1 679.0L792.8 673.3L795.4 673.3L798.1 684.7L800.8 673.3L803.4 673.3L806.1 679.0L808.7 673.3L811.4 679.0L814.1 673.3L816.7 679.0L819.4 673.3L822.0 679.0L824.7 684.7L827.4 673.3L830.0 673.3L832.7 679.0L835.3 673.3L838.0 679.0L840.7 679.0L843.3 679.0L846.0 679.0L848.6 684.7L851.3 679.0L854.0 684.7L856.6 690.4L859.3 679.0L861.9 679.0L864.6 690.4L867.3 679.0L869.9 684.7L872.6 684.7L875.3 684.7L877.9 684.7L880.6 684.7L883.2 684.7L885.9 684.7L888.6 684.7L891.2 690.4L893.9 690.4L896.5 684.7L899.2 690.4L901.9 690.4L904.5 690.4L907.2 690.4L909.8 696.1L912.5 684.7L915.2 696.1L917.8 690.4L920.5 690.4L923.1 690.4L925.8 696.1L928.5 690.4L931.1 696.1L933.8 690.4L936.4 690.4L939.1 696.1L941.8 696.1L944.4 696.1L947.1 696.1L949.7 696.1L952.4 696.1L955.1 696.1L957.7 696.1L960.4 690.4L963.1 696.1L965.7 696.1L968.4 690.4L971.0 701.8L973.7 701.8L976.4 701.8L979.0 696.1L981.7 690.4L984.3 696.1L987.0 696.1L989.7 701.8L992.3 707.5L995.0 707.5L997.6 696.1L1000.3 696.1L1003.0 701.8L1005.6 696.1L1008.3 701.8L1010.9 696.1L1013.6 696.1L1016.3 701.8L1018.9 701.8L1021.6 701.8L1024.2 707.5L1026.9 701.8L1029.6 707.5L1032.2 701.8L1034.9 701.8L1037.6 701.8L1040.2 707.5L1042.9 701.8L1045.5 707.5L1048.2 707.5L1050.9 707.5L1053.5 701.8L1056.2 707.5" stroke="#D95319" stroke-width="1.6" fill="none" stroke-linejoin="round"/>
<path d="M154.2 701.8h0M156.9 707.5h0M159.5 707.5h0M162.2 701.8h0M164.8 701.8h0M167.5 707.5h0M170.2 707.5h0M172.8 707.5h0M175.5 707.5h0M178.1 707.5h0M180.8 701.8h0M183.5 707.5h0M186.1 707.5h0M188.8 707.5h0M191.5 707.5h0M194.1 701.8h0M196.8 701.8h0M199.4 707.5h0M202.1 707.5h0M204.8 701.8h0M207.4 707.5h0M210.1 707.5h0M212.7 701.8h0M215.4 707.5h0M218.1 707.5h0M220.7 707.5h0M223.4 707.5h0M226.0 707.5h0M228.7 707.5h0M231.4 707.5h0M234.0 707.5h0M236.7 707.5h0M239.3 707.5h0M242.0 701.8h0M244.7 707.5h0M247.3 707.5h0M250.0 701.8h0M252.6 701.8h0M255.3 616.1h0M258.0 461.8h0M260.6 290.3h0M263.3 176.0h0M265.9 261.7h0M268.6 370.3h0M271.3 467.5h0M273.9 513.2h0M276.6 564.6h0M279.3 513.2h0M281.9 461.8h0M284.6 427.5h0M287.2 393.2h0M289.9 444.6h0M292.6 473.2h0M295.2 501.8h0M297.9 518.9h0M300.5 490.3h0M303.2 456.0h0M305.9 427.5h0M308.5 404.6h0M311.2 381.7h0M313.8 416.0h0M316.5 444.6h0M319.2 473.2h0M321.8 507.5h0M324.5 473.2h0M327.1 438.9h0M329.8 404.6h0M332.5 376.0h0M335.1 347.4h0M337.8 318.9h0M340.4 324.6h0M343.1 330.3h0M345.8 330.3h0M348.4 341.7h0M351.1 347.4h0M353.8 347.4h0M356.4 347.4h0M359.1 341.7h0M361.7 347.4h0M364.4 353.2h0M367.1 353.2h0M369.7 358.9h0M372.4 353.2h0M375.0 358.9h0M377.7 358.9h0M380.4 358.9h0M383.0 364.6h0M385.7 370.3h0M388.3 370.3h0M391.0 376.0h0M393.7 393.2h0M396.3 393.2h0M399.0 404.6h0M401.6 404.6h0M404.3 404.6h0M407.0 404.6h0M409.6 387.5h0M412.3 387.5h0M414.9 393.2h0M417.6 387.5h0M420.3 393.2h0M422.9 393.2h0M425.6 387.5h0M428.3 393.2h0M430.9 398.9h0M433.6 410.3h0M436.2 421.7h0M438.9 427.5h0M441.6 438.9h0M444.2 444.6h0M446.9 450.3h0M449.5 461.8h0M452.2 467.5h0M454.9 467.5h0M457.5 467.5h0M460.2 473.2h0M462.8 473.2h0M465.5 473.2h0M468.2 484.6h0M470.8 478.9h0M473.5 484.6h0M476.1 478.9h0M478.8 490.3h0M481.5 490.3h0M484.1 496.1h0M486.8 507.5h0M489.4 501.8h0M492.1 501.8h0M494.8 507.5h0M497.4 507.5h0M500.1 513.2h0M502.8 518.9h0M505.4 518.9h0M508.1 518.9h0M510.7 524.6h0M513.4 530.4h0M516.1 530.4h0M518.7 536.1h0M521.4 536.1h0M524.0 536.1h0M526.7 547.5h0M529.4 541.8h0M532.0 547.5h0M534.7 558.9h0M537.3 553.2h0M540.0 558.9h0M542.7 553.2h0M545.3 558.9h0M548.0 553.2h0M550.6 564.6h0M553.3 558.9h0M556.0 564.6h0M558.6 564.6h0M561.3 564.6h0M563.9 570.4h0M566.6 570.4h0M569.3 576.1h0M571.9 570.4h0M574.6 576.1h0M577.3 581.8h0M579.9 581.8h0M582.6 587.5h0M585.2 587.5h0M587.9 587.5h0M590.6 587.5h0M593.2 593.2h0M595.9 598.9h0M598.5 593.2h0M601.2 593.2h0M603.9 598.9h0M606.5 598.9h0M609.2 604.7h0M611.8 604.7h0M614.5 604.7h0M617.2 610.4h0M619.8 610.4h0M622.5 616.1h0M625.1 610.4h0M627.8 621.8h0M630.5 621.8h0M633.1 627.5h0M635.8 621.8h0M638.4 621.8h0M641.1 621.8h0M643.8 627.5h0M646.4 633.2h0M649.1 633.2h0M651.8 633.2h0M654.4 633.2h0M657.1 627.5h0M659.7 633.2h0M662.4 633.2h0M665.1 633.2h0M667.7 639.0h0M670.4 639.0h0M673.0 639.0h0M675.7 639.0h0M678.4 639.0h0M681.0 639.0h0M683.7 639.0h0M686.3 644.7h0M689.0 644.7h0M691.7 644.7h0M694.3 650.4h0M697.0 644.7h0M699.6 644.7h0M702.3 644.7h0M705.0 644.7h0M707.6 650.4h0M710.3 650.4h0M712.9 650.4h0M715.6 650.4h0M718.3 650.4h0M720.9 650.4h0M723.6 656.1h0M726.3 656.1h0M728.9 656.1h0M731.6 656.1h0M734.2 661.8h0M736.9 661.8h0M739.6 661.8h0M742.2 667.5h0M744.9 667.5h0M747.5 667.5h0M750.2 667.5h0M752.9 673.3h0M755.5 673.3h0M758.2 673.3h0M760.8 673.3h0M763.5 673.3h0M766.2 667.5h0M768.8 667.5h0M771.5 673.3h0M774.1 667.5h0M776.8 673.3h0M779.5 679.0h0M782.1 673.3h0M784.8 679.0h0M787.4 673.3h0M790.1 679.0h0M792.8 673.3h0M795.4 673.3h0M798.1 684.7h0M800.8 673.3h0M803.4 673.3h0M806.1 679.0h0M808.7 673.3h0M811.4 679.0h0M814.1 673.3h0M816.7 679.0h0M819.4 673.3h0M822.0 679.0h0M824.7 684.7h0M827.4 673.3h0M830.0 673.3h0M832.7 679.0h0M835.3 673.3h0M838.0 679.0h0M840.7 679.0h0M843.3 679.0h0M846.0 679.0h0M848.6 684.7h0M851.3 679.0h0M854.0 684.7h0M856.6 690.4h0M859.3 679.0h0M861.9 679.0h0M864.6 690.4h0M867.3 679.0h0M869.9 684.7h0M872.6 684.7h0M875.3 684.7h0M877.9 684.7h0M880.6 684.7h0M883.2 684.7h0M885.9 684.7h0M888.6 684.7h0M891.2 690.4h0M893.9 690.4h0M896.5 684.7h0M899.2 690.4h0M901.9 690.4h0M904.5 690.4h0M907.2 690.4h0M909.8 696.1h0M912.5 684.7h0M915.2 696.1h0M917.8 690.4h0M920.5 690.4h0M923.1 690.4h0M925.8 696.1h0M928.5 690.4h0M931.1 696.1h0M933.8 690.4h0M936.4 690.4h0M939.1 696.1h0M941.8 696.1h0M944.4 696.1h0M947.1 696.1h0M949.7 696.1h0M952.4 696.1h0M955.1 696.1h0M957.7 696.1h0M960.4 690.4h0M963.1 696.1h0M965.7 696.1h0M968.4 690.4h0M971.0 701.8h0M973.7 701.8h0M976.4 701.8h0M979.0 696.1h0M981.7 690.4h0M984.3 696.1h0M987.0 696.1h0M989.7 701.8h0M992.3 707.5h0M995.0 707.5h0M997.6 696.1h0M1000.3 696.1h0M1003.0 701.8h0M1005.6 696.1h0M1008.3 701.8h0M1010.9 696.1h0M1013.6 696.1h0M1016.3 701.8h0M1018.9 701.8h0M1021.6 701.8h0M1024.2 707.5h0M1026.9 701.8h0M1029.6 707.5h0M1032.2 701.8h0M1034.9 701.8h0M1037.6 701.8h0M1040.2 707.5h0M1042.9 701.8h0M1045.5 707.5h0M1048.2 707.5h0M1050.9 707.5h0M1053.5 701.8h0M1056.2 707.5h0" stroke="#D95319" stroke-width="5.3" stroke-linecap="round" fill="none"/>
<path d="M153.9 713.3L156.6 707.5L159.3 701.8L161.9 701.8L164.6 707.5L167.2 707.5L169.9 707.5L172.6 701.8L175.2 701.8L177.9 707.5L180.5 701.8L183.2 707.5L185.9 707.5L188.5 707.5L191.2 707.5L193.8 707.5L196.5 707.5L199.2 701.8L201.8 707.5L204.5 707.5L207.1 707.5L209.8 707.5L212.5 707.5L215.1 701.8L217.8 701.8L220.5 707.5L223.1 707.5L225.8 707.5L228.4 707.5L231.1 707.5L233.8 707.5L236.4 707.5L239.1 701.8L241.7 713.3L244.4 707.5L247.1 707.5L249.7 707.5L252.4 707.5L255.0 633.2L257.7 478.9L260.4 301.7L263.0 170.2L265.7 256.0L268.3 358.9L271.0 461.8L273.7 507.5L276.3 558.9L279.0 513.2L281.6 461.8L284.3 444.6L287.0 427.5L289.6 444.6L292.3 467.5L295.0 473.2L297.6 490.3L300.3 473.2L302.9 456.0L305.6 433.2L308.3 416.0L310.9 393.2L313.6 416.0L316.2 438.9L318.9 473.2L321.6 501.8L324.2 467.5L326.9 444.6L329.5 416.0L332.2 376.0L334.9 347.4L337.5 313.1L340.2 318.9L342.8 336.0L345.5 341.7L348.2 358.9L350.8 358.9L353.5 358.9L356.1 353.2L358.8 353.2L361.5 364.6L364.1 358.9L366.8 370.3L369.5 364.6L372.1 376.0L374.8 376.0L377.4 376.0L380.1 376.0L382.8 376.0L385.4 370.3L388.1 381.7L390.7 387.5L393.4 387.5L396.1 393.2L398.7 393.2L401.4 404.6L404.0 404.6L406.7 398.9L409.4 393.2L412.0 387.5L414.7 387.5L417.3 387.5L420.0 381.7L422.7 387.5L425.3 387.5L428.0 387.5L430.6 393.2L433.3 404.6L436.0 416.0L438.6 427.5L441.3 427.5L444.0 444.6L446.6 444.6L449.3 461.8L451.9 461.8L454.6 467.5L457.3 461.8L459.9 461.8L462.6 467.5L465.2 478.9L467.9 478.9L470.6 478.9L473.2 478.9L475.9 484.6L478.5 484.6L481.2 490.3L483.9 490.3L486.5 496.1L489.2 496.1L491.8 501.8L494.5 507.5L497.2 513.2L499.8 513.2L502.5 518.9L505.1 518.9L507.8 518.9L510.5 518.9L513.1 524.6L515.8 530.4L518.5 536.1L521.1 536.1L523.8 541.8L526.4 541.8L529.1 541.8L531.8 541.8L534.4 547.5L537.1 547.5L539.7 553.2L542.4 547.5L545.1 553.2L547.7 553.2L550.4 558.9L553.0 558.9L555.7 564.6L558.4 564.6L561.0 564.6L563.7 570.4L566.3 570.4L569.0 564.6L571.7 570.4L574.3 570.4L577.0 576.1L579.6 576.1L582.3 581.8L585.0 581.8L587.6 576.1L590.3 587.5L592.9 587.5L595.6 593.2L598.3 593.2L600.9 598.9L603.6 598.9L606.3 598.9L608.9 598.9L611.6 604.7L614.2 610.4L616.9 610.4L619.6 610.4L622.2 616.1L624.9 621.8L627.5 616.1L630.2 627.5L632.9 621.8L635.5 621.8L638.2 627.5L640.8 621.8L643.5 627.5L646.2 627.5L648.8 633.2L651.5 633.2L654.1 627.5L656.8 627.5L659.5 633.2L662.1 633.2L664.8 633.2L667.4 633.2L670.1 633.2L672.8 639.0L675.4 633.2L678.1 639.0L680.8 639.0L683.4 644.7L686.1 639.0L688.7 639.0L691.4 644.7L694.1 644.7L696.7 644.7L699.4 650.4L702.0 644.7L704.7 656.1L707.4 650.4L710.0 656.1L712.7 650.4L715.3 650.4L718.0 650.4L720.7 656.1L723.3 650.4L726.0 656.1L728.6 656.1L731.3 656.1L734.0 656.1L736.6 656.1L739.3 656.1L741.9 661.8L744.6 661.8L747.3 667.5L749.9 661.8L752.6 667.5L755.3 656.1L757.9 667.5L760.6 661.8L763.2 661.8L765.9 667.5L768.6 667.5L771.2 661.8L773.9 661.8L776.5 673.3L779.2 667.5L781.9 673.3L784.5 673.3L787.2 673.3L789.8 661.8L792.5 667.5L795.2 673.3L797.8 673.3L800.5 673.3L803.1 673.3L805.8 679.0L808.5 673.3L811.1 679.0L813.8 679.0L816.4 673.3L819.1 673.3L821.8 679.0L824.4 679.0L827.1 673.3L829.8 679.0L832.4 673.3L835.1 679.0L837.7 679.0L840.4 679.0L843.1 679.0L845.7 679.0L848.4 673.3L851.0 684.7L853.7 684.7L856.4 679.0L859.0 679.0L861.7 684.7L864.3 679.0L867.0 679.0L869.7 684.7L872.3 679.0L875.0 684.7L877.6 684.7L880.3 684.7L883.0 679.0L885.6 690.4L888.3 684.7L890.9 684.7L893.6 690.4L896.3 690.4L898.9 684.7L901.6 684.7L904.3 684.7L906.9 684.7L909.6 690.4L912.2 679.0L914.9 690.4L917.6 690.4L920.2 690.4L922.9 690.4L925.5 684.7L928.2 690.4L930.9 684.7L933.5 690.4L936.2 684.7L938.8 690.4L941.5 696.1L944.2 690.4L946.8 690.4L949.5 690.4L952.1 690.4L954.8 690.4L957.5 690.4L960.1 696.1L962.8 696.1L965.4 690.4L968.1 696.1L970.8 696.1L973.4 696.1L976.1 701.8L978.8 701.8L981.4 690.4L984.1 701.8L986.7 696.1L989.4 701.8L992.1 701.8L994.7 701.8L997.4 701.8L1000.0 696.1L1002.7 701.8L1005.4 701.8L1008.0 701.8L1010.7 696.1L1013.3 701.8L1016.0 696.1L1018.7 701.8L1021.3 701.8L1024.0 701.8L1026.6 696.1L1029.3 701.8L1032.0 707.5L1034.6 701.8L1037.3 701.8L1039.9 707.5L1042.6 696.1L1045.3 701.8L1047.9 707.5L1050.6 701.8L1053.3 696.1L1055.9 707.5" stroke="#EDB120" stroke-width="1.6" fill="none" stroke-linejoin="round"/>
<path d="M153.9 713.3h0M156.6 707.5h0M159.3 701.8h0M161.9 701.8h0M164.6 707.5h0M167.2 707.5h0M169.9 707.5h0M172.6 701.8h0M175.2 701.8h0M177.9 707.5h0M180.5 701.8h0M183.2 707.5h0M185.9 707.5h0M188.5 707.5h0M191.2 707.5h0M193.8 707.5h0M196.5 707.5h0M199.2 701.8h0M201.8 707.5h0M204.5 707.5h0M207.1 707.5h0M209.8 707.5h0M212.5 707.5h0M215.1 701.8h0M217.8 701.8h0M220.5 707.5h0M223.1 707.5h0M225.8 707.5h0M228.4 707.5h0M231.1 707.5h0M233.8 707.5h0M236.4 707.5h0M239.1 701.8h0M241.7 713.3h0M244.4 707.5h0M247.1 707.5h0M249.7 707.5h0M252.4 707.5h0M255.0 633.2h0M257.7 478.9h0M260.4 301.7h0M263.0 170.2h0M265.7 256.0h0M268.3 358.9h0M271.0 461.8h0M273.7 507.5h0M276.3 558.9h0M279.0 513.2h0M281.6 461.8h0M284.3 444.6h0M287.0 427.5h0M289.6 444.6h0M292.3 467.5h0M295.0 473.2h0M297.6 490.3h0M300.3 473.2h0M302.9 456.0h0M305.6 433.2h0M308.3 416.0h0M310.9 393.2h0M313.6 416.0h0M316.2 438.9h0M318.9 473.2h0M321.6 501.8h0M324.2 467.5h0M326.9 444.6h0M329.5 416.0h0M332.2 376.0h0M334.9 347.4h0M337.5 313.1h0M340.2 318.9h0M342.8 336.0h0M345.5 341.7h0M348.2 358.9h0M350.8 358.9h0M353.5 358.9h0M356.1 353.2h0M358.8 353.2h0M361.5 364.6h0M364.1 358.9h0M366.8 370.3h0M369.5 364.6h0M372.1 376.0h0M374.8 376.0h0M377.4 376.0h0M380.1 376.0h0M382.8 376.0h0M385.4 370.3h0M388.1 381.7h0M390.7 387.5h0M393.4 387.5h0M396.1 393.2h0M398.7 393.2h0M401.4 404.6h0M404.0 404.6h0M406.7 398.9h0M409.4 393.2h0M412.0 387.5h0M414.7 387.5h0M417.3 387.5h0M420.0 381.7h0M422.7 387.5h0M425.3 387.5h0M428.0 387.5h0M430.6 393.2h0M433.3 404.6h0M436.0 416.0h0M438.6 427.5h0M441.3 427.5h0M444.0 444.6h0M446.6 444.6h0M449.3 461.8h0M451.9 461.8h0M454.6 467.5h0M457.3 461.8h0M459.9 461.8h0M462.6 467.5h0M465.2 478.9h0M467.9 478.9h0M470.6 478.9h0M473.2 478.9h0M475.9 484.6h0M478.5 484.6h0M481.2 490.3h0M483.9 490.3h0M486.5 496.1h0M489.2 496.1h0M491.8 501.8h0M494.5 507.5h0M497.2 513.2h0M499.8 513.2h0M502.5 518.9h0M505.1 518.9h0M507.8 518.9h0M510.5 518.9h0M513.1 524.6h0M515.8 530.4h0M518.5 536.1h0M521.1 536.1h0M523.8 541.8h0M526.4 541.8h0M529.1 541.8h0M531.8 541.8h0M534.4 547.5h0M537.1 547.5h0M539.7 553.2h0M542.4 547.5h0M545.1 553.2h0M547.7 553.2h0M550.4 558.9h0M553.0 558.9h0M555.7 564.6h0M558.4 564.6h0M561.0 564.6h0M563.7 570.4h0M566.3 570.4h0M569.0 564.6h0M571.7 570.4h0M574.3 570.4h0M577.0 576.1h0M579.6 576.1h0M582.3 581.8h0M585.0 581.8h0M587.6 576.1h0M590.3 587.5h0M592.9 587.5h0M595.6 593.2h0M598.3 593.2h0M600.9 598.9h0M603.6 598.9h0M606.3 598.9h0M608.9 598.9h0M611.6 604.7h0M614.2 610.4h0M616.9 610.4h0M619.6 610.4h0M622.2 616.1h0M624.9 621.8h0M627.5 616.1h0M630.2 627.5h0M632.9 621.8h0M635.5 621.8h0M638.2 627.5h0M640.8 621.8h0M643.5 627.5h0M646.2 627.5h0M648.8 633.2h0M651.5 633.2h0M654.1 627.5h0M656.8 627.5h0M659.5 633.2h0M662.1 633.2h0M664.8 633.2h0M667.4 633.2h0M670.1 633.2h0M672.8 639.0h0M675.4 633.2h0M678.1 639.0h0M680.8 639.0h0M683.4 644.7h0M686.1 639.0h0M688.7 639.0h0M691.4 644.7h0M694.1 644.7h0M696.7 644.7h0M699.4 650.4h0M702.0 644.7h0M704.7 656.1h0M707.4 650.4h0M710.0 656.1h0M712.7 650.4h0M715.3 650.4h0M718.0 650.4h0M720.7 656.1h0M723.3 650.4h0M726.0 656.1h0M728.6 656.1h0M731.3 656.1h0M734.0 656.1h0M736.6 656.1h0M739.3 656.1h0M741.9 661.8h0M744.6 661.8h0M747.3 667.5h0M749.9 661.8h0M752.6 667.5h0M755.3 656.1h0M757.9 667.5h0M760.6 661.8h0M763.2 661.8h0M765.9 667.5h0M768.6 667.5h0M771.2 661.8h0M773.9 661.8h0M776.5 673.3h0M779.2 667.5h0M781.9 673.3h0M784.5 673.3h0M787.2 673.3h0M789.8 661.8h0M792.5 667.5h0M795.2 673.3h0M797.8 673.3h0M800.5 673.3h0M803.1 673.3h0M805.8 679.0h0M808.5 673.3h0M811.1 679.0h0M813.8 679.0h0M816.4 673.3h0M819.1 673.3h0M821.8 679.0h0M824.4 679.0h0M827.1 673.3h0M829.8 679.0h0M832.4 673.3h0M835.1 679.0h0M837.7 679.0h0M840.4 679.0h0M843.1 679.0h0M845.7 679.0h0M848.4 673.3h0M851.0 684.7h0M853.7 684.7h0M856.4 679.0h0M859.0 679.0h0M861.7 684.7h0M864.3 679.0h0M867.0 679.0h0M869.7 684.7h0M872.3 679.0h0M875.0 684.7h0M877.6 684.7h0M880.3 684.7h0M883.0 679.0h0M885.6 690.4h0M888.3 684.7h0M890.9 684.7h0M893.6 690.4h0M896.3 690.4h0M898.9 684.7h0M901.6 684.7h0M904.3 684.7h0M906.9 684.7h0M909.6 690.4h0M912.2 679.0h0M914.9 690.4h0M917.6 690.4h0M920.2 690.4h0M922.9 690.4h0M925.5 684.7h0M928.2 690.4h0M930.9 684.7h0M933.5 690.4h0M936.2 684.7h0M938.8 690.4h0M941.5 696.1h0M944.2 690.4h0M946.8 690.4h0M949.5 690.4h0M952.1 690.4h0M954.8 690.4h0M957.5 690.4h0M960.1 696.1h0M962.8 696.1h0M965.4 690.4h0M968.1 696.1h0M970.8 696.1h0M973.4 696.1h0M976.1 701.8h0M978.8 701.8h0M981.4 690.4h0M984.1 701.8h0M986.7 696.1h0M989.4 701.8h0M992.1 701.8h0M994.7 701.8h0M997.4 701.8h0M1000.0 696.1h0M1002.7 701.8h0M1005.4 701.8h0M1008.0 701.8h0M1010.7 696.1h0M1013.3 701.8h0M1016.0 696.1h0M1018.7 701.8h0M1021.3 701.8h0M1024.0 701.8h0M1026.6 696.1h0M1029.3 701.8h0M1032.0 707.5h0M1034.6 701.8h0M1037.3 701.8h0M1039.9 707.5h0M1042.6 696.1h0M1045.3 701.8h0M1047.9 707.5h0M1050.6 701.8h0M1053.3 696.1h0M1055.9 707.5h0" stroke="#EDB120" stroke-width="5.3" stroke-linecap="round" fill="none"/>
<path d="M154.5 707.5L157.1 701.8L159.8 707.5L162.4 707.5L165.1 707.5L167.8 707.5L170.4 707.5L173.1 707.5L175.8 707.5L178.4 701.8L181.1 707.5L183.7 701.8L186.4 713.3L189.1 701.8L191.7 707.5L194.4 707.5L197.0 707.5L199.7 701.8L202.4 707.5L205.0 707.5L207.7 701.8L210.3 707.5L213.0 707.5L215.7 707.5L218.3 701.8L221.0 707.5L223.6 707.5L226.3 707.5L229.0 701.8L231.6 701.8L234.3 707.5L236.9 707.5L239.6 707.5L242.3 701.8L244.9 701.8L247.6 707.5L250.3 707.5L252.9 696.1L255.6 604.7L258.2 438.9L260.9 284.6L263.6 170.2L266.2 273.1L268.9 381.7L271.5 473.2L274.2 524.6L276.9 564.6L279.5 501.8L282.2 467.5L284.8 438.9L287.5 456.0L290.2 467.5L292.8 484.6L295.5 507.5L298.1 518.9L300.8 484.6L303.5 456.0L306.1 438.9L308.8 416.0L311.4 393.2L314.1 421.7L316.8 444.6L319.4 478.9L322.1 507.5L324.8 473.2L327.4 438.9L330.1 404.6L332.7 376.0L335.4 358.9L338.1 324.6L340.7 324.6L343.4 330.3L346.0 336.0L348.7 341.7L351.4 341.7L354.0 336.0L356.7 336.0L359.3 341.7L362.0 336.0L364.7 341.7L367.3 347.4L370.0 347.4L372.6 358.9L375.3 353.2L378.0 358.9L380.6 358.9L383.3 358.9L385.9 358.9L388.6 364.6L391.3 376.0L393.9 387.5L396.6 387.5L399.3 393.2L401.9 398.9L404.6 404.6L407.2 398.9L409.9 393.2L412.6 387.5L415.2 387.5L417.9 387.5L420.5 393.2L423.2 381.7L425.9 393.2L428.5 387.5L431.2 393.2L433.8 416.0L436.5 421.7L439.2 433.2L441.8 438.9L444.5 450.3L447.1 450.3L449.8 456.0L452.5 467.5L455.1 461.8L457.8 467.5L460.4 473.2L463.1 473.2L465.8 473.2L468.4 478.9L471.1 473.2L473.8 478.9L476.4 484.6L479.1 484.6L481.7 484.6L484.4 490.3L487.1 496.1L489.7 496.1L492.4 496.1L495.0 501.8L497.7 507.5L500.4 507.5L503.0 507.5L505.7 518.9L508.3 513.2L511.0 518.9L513.7 524.6L516.3 524.6L519.0 530.4L521.6 530.4L524.3 541.8L527.0 541.8L529.6 541.8L532.3 536.1L534.9 547.5L537.6 547.5L540.3 547.5L542.9 553.2L545.6 558.9L548.3 553.2L550.9 558.9L553.6 553.2L556.2 564.6L558.9 564.6L561.6 564.6L564.2 570.4L566.9 570.4L569.5 570.4L572.2 570.4L574.9 581.8L577.5 581.8L580.2 581.8L582.8 587.5L585.5 587.5L588.2 587.5L590.8 598.9L593.5 587.5L596.1 593.2L598.8 593.2L601.5 598.9L604.1 598.9L606.8 593.2L609.4 604.7L612.1 604.7L614.8 610.4L617.4 610.4L620.1 610.4L622.7 616.1L625.4 616.1L628.1 621.8L630.7 616.1L633.4 616.1L636.1 621.8L638.7 627.5L641.4 621.8L644.0 633.2L646.7 621.8L649.4 627.5L652.0 627.5L654.7 627.5L657.3 627.5L660.0 627.5L662.7 633.2L665.3 627.5L668.0 633.2L670.6 633.2L673.3 633.2L676.0 639.0L678.6 639.0L681.3 639.0L683.9 639.0L686.6 633.2L689.3 644.7L691.9 650.4L694.6 644.7L697.2 650.4L699.9 650.4L702.6 644.7L705.2 650.4L707.9 650.4L710.6 656.1L713.2 650.4L715.9 656.1L718.5 650.4L721.2 650.4L723.9 656.1L726.5 656.1L729.2 656.1L731.8 656.1L734.5 661.8L737.2 656.1L739.8 656.1L742.5 661.8L745.1 661.8L747.8 661.8L750.5 667.5L753.1 661.8L755.8 661.8L758.4 661.8L761.1 661.8L763.8 661.8L766.4 673.3L769.1 667.5L771.7 667.5L774.4 667.5L777.1 673.3L779.7 673.3L782.4 667.5L785.1 673.3L787.7 679.0L790.4 679.0L793.0 679.0L795.7 679.0L798.4 684.7L801.0 679.0L803.7 679.0L806.3 679.0L809.0 679.0L811.7 684.7L814.3 679.0L817.0 684.7L819.6 679.0L822.3 684.7L825.0 684.7L827.6 679.0L830.3 684.7L832.9 684.7L835.6 679.0L838.3 679.0L840.9 684.7L843.6 684.7L846.2 684.7L848.9 679.0L851.6 673.3L854.2 684.7L856.9 684.7L859.6 679.0L862.2 679.0L864.9 684.7L867.5 684.7L870.2 690.4L872.9 696.1L875.5 690.4L878.2 684.7L880.8 684.7L883.5 696.1L886.2 690.4L888.8 690.4L891.5 696.1L894.1 684.7L896.8 684.7L899.5 696.1L902.1 684.7L904.8 690.4L907.4 684.7L910.1 690.4L912.8 690.4L915.4 690.4L918.1 684.7L920.7 690.4L923.4 690.4L926.1 690.4L928.7 673.3L931.4 684.7L934.1 684.7L936.7 690.4L939.4 690.4L942.0 690.4L944.7 684.7L947.4 690.4L950.0 690.4L952.7 684.7L955.3 684.7L958.0 690.4L960.7 696.1L963.3 690.4L966.0 696.1L968.6 684.7L971.3 690.4L974.0 690.4L976.6 696.1L979.3 690.4L981.9 690.4L984.6 690.4L987.3 690.4L989.9 684.7L992.6 690.4L995.2 690.4L997.9 696.1L1000.6 690.4L1003.2 690.4L1005.9 696.1L1008.6 690.4L1011.2 696.1L1013.9 690.4L1016.5 690.4L1019.2 690.4L1021.9 690.4L1024.5 696.1L1027.2 690.4L1029.8 690.4L1032.5 696.1L1035.2 690.4L1037.8 684.7L1040.5 690.4L1043.1 690.4L1045.8 696.1L1048.5 690.4L1051.1 696.1L1053.8 690.4L1056.4 690.4" stroke="#7E2F8E" stroke-width="1.6" fill="none" stroke-linejoin="round"/>
<path d="M154.5 707.5h0M157.1 701.8h0M159.8 707.5h0M162.4 707.5h0M165.1 707.5h0M167.8 707.5h0M170.4 707.5h0M173.1 707.5h0M175.8 707.5h0M178.4 701.8h0M181.1 707.5h0M183.7 701.8h0M186.4 713.3h0M189.1 701.8h0M191.7 707.5h0M194.4 707.5h0M197.0 707.5h0M199.7 701.8h0M202.4 707.5h0M205.0 707.5h0M207.7 701.8h0M210.3 707.5h0M213.0 707.5h0M215.7 707.5h0M218.3 701.8h0M221.0 707.5h0M223.6 707.5h0M226.3 707.5h0M229.0 701.8h0M231.6 701.8h0M234.3 707.5h0M236.9 707.5h0M239.6 707.5h0M242.3 701.8h0M244.9 701.8h0M247.6 707.5h0M250.3 707.5h0M252.9 696.1h0M255.6 604.7h0M258.2 438.9h0M260.9 284.6h0M263.6 170.2h0M266.2 273.1h0M268.9 381.7h0M271.5 473.2h0M274.2 524.6h0M276.9 564.6h0M279.5 501.8h0M282.2 467.5h0M284.8 438.9h0M287.5 456.0h0M290.2 467.5h0M292.8 484.6h0M295.5 507.5h0M298.1 518.9h0M300.8 484.6h0M303.5 456.0h0M306.1 438.9h0M308.8 416.0h0M311.4 393.2h0M314.1 421.7h0M316.8 444.6h0M319.4 478.9h0M322.1 507.5h0M324.8 473.2h0M327.4 438.9h0M330.1 404.6h0M332.7 376.0h0M335.4 358.9h0M338.1 324.6h0M340.7 324.6h0M343.4 330.3h0M346.0 336.0h0M348.7 341.7h0M351.4 341.7h0M354.0 336.0h0M356.7 336.0h0M359.3 341.7h0M362.0 336.0h0M364.7 341.7h0M367.3 347.4h0M370.0 347.4h0M372.6 358.9h0M375.3 353.2h0M378.0 358.9h0M380.6 358.9h0M383.3 358.9h0M385.9 358.9h0M388.6 364.6h0M391.3 376.0h0M393.9 387.5h0M396.6 387.5h0M399.3 393.2h0M401.9 398.9h0M404.6 404.6h0M407.2 398.9h0M409.9 393.2h0M412.6 387.5h0M415.2 387.5h0M417.9 387.5h0M420.5 393.2h0M423.2 381.7h0M425.9 393.2h0M428.5 387.5h0M431.2 393.2h0M433.8 416.0h0M436.5 421.7h0M439.2 433.2h0M441.8 438.9h0M444.5 450.3h0M447.1 450.3h0M449.8 456.0h0M452.5 467.5h0M455.1 461.8h0M457.8 467.5h0M460.4 473.2h0M463.1 473.2h0M465.8 473.2h0M468.4 478.9h0M471.1 473.2h0M473.8 478.9h0M476.4 484.6h0M479.1 484.6h0M481.7 484.6h0M484.4 490.3h0M487.1 496.1h0M489.7 496.1h0M492.4 496.1h0M495.0 501.8h0M497.7 507.5h0M500.4 507.5h0M503.0 507.5h0M505.7 518.9h0M508.3 513.2h0M511.0 518.9h0M513.7 524.6h0M516.3 524.6h0M519.0 530.4h0M521.6 530.4h0M524.3 541.8h0M527.0 541.8h0M529.6 541.8h0M532.3 536.1h0M534.9 547.5h0M537.6 547.5h0M540.3 547.5h0M542.9 553.2h0M545.6 558.9h0M548.3 553.2h0M550.9 558.9h0M553.6 553.2h0M556.2 564.6h0M558.9 564.6h0M561.6 564.6h0M564.2 570.4h0M566.9 570.4h0M569.5 570.4h0M572.2 570.4h0M574.9 581.8h0M577.5 581.8h0M580.2 581.8h0M582.8 587.5h0M585.5 587.5h0M588.2 587.5h0M590.8 598.9h0M593.5 587.5h0M596.1 593.2h0M598.8 593.2h0M601.5 598.9h0M604.1 598.9h0M606.8 593.2h0M609.4 604.7h0M612.1 604.7h0M614.8 610.4h0M617.4 610.4h0M620.1 610.4h0M622.7 616.1h0M625.4 616.1h0M628.1 621.8h0M630.7 616.1h0M633.4 616.1h0M636.1 621.8h0M638.7 627.5h0M641.4 621.8h0M644.0 633.2h0M646.7 621.8h0M649.4 627.5h0M652.0 627.5h0M654.7 627.5h0M657.3 627.5h0M660.0 627.5h0M662.7 633.2h0M665.3 627.5h0M668.0 633.2h0M670.6 633.2h0M673.3 633.2h0M676.0 639.0h0M678.6 639.0h0M681.3 639.0h0M683.9 639.0h0M686.6 633.2h0M689.3 644.7h0M691.9 650.4h0M694.6 644.7h0M697.2 650.4h0M699.9 650.4h0M702.6 644.7h0M705.2 650.4h0M707.9 650.4h0M710.6 656.1h0M713.2 650.4h0M715.9 656.1h0M718.5 650.4h0M721.2 650.4h0M723.9 656.1h0M726.5 656.1h0M729.2 656.1h0M731.8 656.1h0M734.5 661.8h0M737.2 656.1h0M739.8 656.1h0M742.5 661.8h0M745.1 661.8h0M747.8 661.8h0M750.5 667.5h0M753.1 661.8h0M755.8 661.8h0M758.4 661.8h0M761.1 661.8h0M763.8 661.8h0M766.4 673.3h0M769.1 667.5h0M771.7 667.5h0M774.4 667.5h0M777.1 673.3h0M779.7 673.3h0M782.4 667.5h0M785.1 673.3h0M787.7 679.0h0M790.4 679.0h0M793.0 679.0h0M795.7 679.0h0M798.4 684.7h0M801.0 679.0h0M803.7 679.0h0M806.3 679.0h0M809.0 679.0h0M811.7 684.7h0M814.3 679.0h0M817.0 684.7h0M819.6 679.0h0M822.3 684.7h0M825.0 684.7h0M827.6 679.0h0M830.3 684.7h0M832.9 684.7h0M835.6 679.0h0M838.3 679.0h0M840.9 684.7h0M843.6 684.7h0M846.2 684.7h0M848.9 679.0h0M851.6 673.3h0M854.2 684.7h0M856.9 684.7h0M859.6 679.0h0M862.2 679.0h0M864.9 684.7h0M867.5 684.7h0M870.2 690.4h0M872.9 696.1h0M875.5 690.4h0M878.2 684.7h0M880.8 684.7h0M883.5 696.1h0M886.2 690.4h0M888.8 690.4h0M891.5 696.1h0M894.1 684.7h0M896.8 684.7h0M899.5 696.1h0M902.1 684.7h0M904.8 690.4h0M907.4 684.7h0M910.1 690.4h0M912.8 690.4h0M915.4 690.4h0M918.1 684.7h0M920.7 690.4h0M923.4 690.4h0M926.1 690.4h0M928.7 673.3h0M931.4 684.7h0M934.1 684.7h0M936.7 690.4h0M939.4 690.4h0M942.0 690.4h0M944.7 684.7h0M947.4 690.4h0M950.0 690.4h0M952.7 684.7h0M955.3 684.7h0M958.0 690.4h0M960.7 696.1h0M963.3 690.4h0M966.0 696.1h0M968.6 684.7h0M971.3 690.4h0M974.0 690.4h0M976.6 696.1h0M979.3 690.4h0M981.9 690.4h0M984.6 690.4h0M987.3 690.4h0M989.9 684.7h0M992.6 690.4h0M995.2 690.4h0M997.9 696.1h0M1000.6 690.4h0M1003.2 690.4h0M1005.9 696.1h0M1008.6 690.4h0M1011.2 696.1h0M1013.9 690.4h0M1016.5 690.4h0M1019.2 690.4h0M1021.9 690.4h0M1024.5 696.1h0M1027.2 690.4h0M1029.8 690.4h0M1032.5 696.1h0M1035.2 690.4h0M1037.8 684.7h0M1040.5 690.4h0M1043.1 690.4h0M1045.8 696.1h0M1048.5 690.4h0M1051.1 696.1h0M1053.8 690.4h0M1056.4 690.4h0" stroke="#7E2F8E" stroke-width="5.3" stroke-linecap="round" fill="none"/>
<path d="M152.6 701.8L155.3 707.5L157.9 707.5L160.6 707.5L163.2 707.5L165.9 707.5L168.6 707.5L171.2 701.8L173.9 701.8L176.6 707.5L179.2 707.5L181.9 707.5L184.5 701.8L187.2 701.8L189.9 707.5L192.5 707.5L195.2 701.8L197.8 701.8L200.5 707.5L203.2 707.5L205.8 707.5L208.5 713.3L211.1 707.5L213.8 701.8L216.5 707.5L219.1 707.5L221.8 701.8L224.4 707.5L227.1 707.5L229.8 707.5L232.4 707.5L235.1 707.5L237.7 707.5L240.4 707.5L243.1 707.5L245.7 707.5L248.4 707.5L251.1 707.5L253.7 679.0L256.4 570.4L259.0 381.7L261.7 256.0L264.4 176.0L267.0 296.0L269.7 416.0L272.3 496.1L275.0 564.6L277.7 524.6L280.3 484.6L283.0 444.6L285.6 404.6L288.3 433.2L291.0 467.5L293.6 490.3L296.3 507.5L298.9 524.6L301.6 484.6L304.3 444.6L306.9 421.7L309.6 398.9L312.2 387.5L314.9 416.0L317.6 450.3L320.2 473.2L322.9 507.5L325.5 461.8L328.2 433.2L330.9 393.2L333.5 370.3L336.2 347.4L338.9 324.6L341.5 324.6L344.2 336.0L346.8 341.7L349.5 353.2L352.2 358.9L354.8 353.2L357.5 353.2L360.1 353.2L362.8 353.2L365.5 358.9L368.1 364.6L370.8 364.6L373.4 370.3L376.1 376.0L378.8 376.0L381.4 370.3L384.1 376.0L386.7 376.0L389.4 387.5L392.1 393.2L394.7 398.9L397.4 404.6L400.0 404.6L402.7 410.3L405.4 410.3L408.0 398.9L410.7 387.5L413.4 387.5L416.0 387.5L418.7 387.5L421.3 393.2L424.0 393.2L426.7 393.2L429.3 393.2L432.0 410.3L434.6 421.7L437.3 433.2L440.0 438.9L442.6 444.6L445.3 450.3L447.9 461.8L450.6 467.5L453.3 473.2L455.9 478.9L458.6 478.9L461.2 484.6L463.9 478.9L466.6 478.9L469.2 484.6L471.9 484.6L474.5 484.6L477.2 496.1L479.9 490.3L482.5 501.8L485.2 501.8L487.9 507.5L490.5 507.5L493.2 507.5L495.8 507.5L498.5 518.9L501.2 518.9L503.8 518.9L506.5 518.9L509.1 524.6L511.8 530.4L514.5 530.4L517.1 541.8L519.8 536.1L522.4 536.1L525.1 541.8L527.8 547.5L530.4 547.5L533.1 547.5L535.7 547.5L538.4 558.9L541.1 558.9L543.7 558.9L546.4 558.9L549.0 558.9L551.7 564.6L554.4 564.6L557.0 564.6L559.7 564.6L562.4 576.1L565.0 576.1L567.7 576.1L570.3 576.1L573.0 576.1L575.7 587.5L578.3 581.8L581.0 593.2L583.6 587.5L586.3 593.2L589.0 593.2L591.6 593.2L594.3 598.9L596.9 598.9L599.6 598.9L602.3 604.7L604.9 610.4L607.6 604.7L610.2 604.7L612.9 604.7L615.6 604.7L618.2 616.1L620.9 616.1L623.5 616.1L626.2 616.1L628.9 621.8L631.5 627.5L634.2 627.5L636.9 627.5L639.5 633.2L642.2 633.2L644.8 627.5L647.5 633.2L650.2 627.5L652.8 633.2L655.5 627.5L658.1 633.2L660.8 633.2L663.5 633.2L666.1 639.0L668.8 627.5L671.4 633.2L674.1 639.0L676.8 633.2L679.4 639.0L682.1 644.7L684.7 639.0L687.4 639.0L690.1 639.0L692.7 639.0L695.4 639.0L698.0 644.7L700.7 650.4L703.4 650.4L706.0 650.4L708.7 650.4L711.4 656.1L714.0 650.4L716.7 656.1L719.3 656.1L722.0 667.5L724.7 667.5L727.3 673.3L730.0 673.3L732.6 673.3L735.3 679.0L738.0 679.0L740.6 673.3L743.3 679.0L745.9 684.7L748.6 684.7L751.3 679.0L753.9 684.7L756.6 684.7L759.2 684.7L761.9 690.4L764.6 684.7L767.2 673.3L769.9 679.0L772.5 661.8L775.2 644.7L777.9 656.1L780.5 673.3L783.2 679.0L785.9 690.4L788.5 690.4L791.2 690.4L793.8 696.1L796.5 690.4L799.2 696.1L801.8 690.4L804.5 701.8L807.1 696.1L809.8 696.1L812.5 696.1L815.1 696.1L817.8 701.8L820.4 696.1L823.1 696.1L825.8 696.1L828.4 701.8L831.1 701.8L833.7 707.5L836.4 707.5L839.1 707.5L841.7 707.5L844.4 707.5L847.0 707.5L849.7 707.5L852.4 701.8L855.0 701.8L857.7 707.5L860.4 701.8L863.0 701.8L865.7 707.5L868.3 707.5L871.0 707.5L873.7 701.8L876.3 701.8L879.0 707.5L881.6 701.8L884.3 701.8L887.0 701.8L889.6 701.8L892.3 707.5L894.9 701.8L897.6 707.5L900.3 707.5L902.9 707.5L905.6 701.8L908.2 701.8L910.9 707.5L913.6 701.8L916.2 707.5L918.9 707.5L921.5 701.8L924.2 707.5L926.9 701.8L929.5 707.5L932.2 707.5L934.8 707.5L937.5 713.3L940.2 713.3L942.8 707.5L945.5 707.5L948.2 707.5L950.8 713.3L953.5 713.3L956.1 707.5L958.8 707.5L961.5 713.3L964.1 707.5L966.8 707.5L969.4 707.5L972.1 713.3L974.8 707.5L977.4 707.5L980.1 707.5L982.7 707.5L985.4 713.3L988.1 707.5L990.7 707.5L993.4 707.5L996.0 713.3L998.7 707.5L1001.4 707.5L1004.0 707.5L1006.7 713.3L1009.3 713.3L1012.0 707.5L1014.7 713.3L1017.3 707.5L1020.0 707.5L1022.7 707.5L1025.3 713.3L1028.0 701.8L1030.6 701.8L1033.3 701.8L1036.0 707.5L1038.6 713.3L1041.3 701.8L1043.9 707.5L1046.6 701.8L1049.3 707.5L1051.9 707.5L1054.6 707.5" stroke="#77AC30" stroke-width="1.6" fill="none" stroke-linejoin="round"/>
<path d="M152.6 701.8h0M155.3 707.5h0M157.9 707.5h0M160.6 707.5h0M163.2 707.5h0M165.9 707.5h0M168.6 707.5h0M171.2 701.8h0M173.9 701.8h0M176.6 707.5h0M179.2 707.5h0M181.9 707.5h0M184.5 701.8h0M187.2 701.8h0M189.9 707.5h0M192.5 707.5h0M195.2 701.8h0M197.8 701.8h0M200.5 707.5h0M203.2 707.5h0M205.8 707.5h0M208.5 713.3h0M211.1 707.5h0M213.8 701.8h0M216.5 707.5h0M219.1 707.5h0M221.8 701.8h0M224.4 707.5h0M227.1 707.5h0M229.8 707.5h0M232.4 707.5h0M235.1 707.5h0M237.7 707.5h0M240.4 707.5h0M243.1 707.5h0M245.7 707.5h0M248.4 707.5h0M251.1 707.5h0M253.7 679.0h0M256.4 570.4h0M259.0 381.7h0M261.7 256.0h0M264.4 176.0h0M267.0 296.0h0M269.7 416.0h0M272.3 496.1h0M275.0 564.6h0M277.7 524.6h0M280.3 484.6h0M283.0 444.6h0M285.6 404.6h0M288.3 433.2h0M291.0 467.5h0M293.6 490.3h0M296.3 507.5h0M298.9 524.6h0M301.6 484.6h0M304.3 444.6h0M306.9 421.7h0M309.6 398.9h0M312.2 387.5h0M314.9 416.0h0M317.6 450.3h0M320.2 473.2h0M322.9 507.5h0M325.5 461.8h0M328.2 433.2h0M330.9 393.2h0M333.5 370.3h0M336.2 347.4h0M338.9 324.6h0M341.5 324.6h0M344.2 336.0h0M346.8 341.7h0M349.5 353.2h0M352.2 358.9h0M354.8 353.2h0M357.5 353.2h0M360.1 353.2h0M362.8 353.2h0M365.5 358.9h0M368.1 364.6h0M370.8 364.6h0M373.4 370.3h0M376.1 376.0h0M378.8 376.0h0M381.4 370.3h0M384.1 376.0h0M386.7 376.0h0M389.4 387.5h0M392.1 393.2h0M394.7 398.9h0M397.4 404.6h0M400.0 404.6h0M402.7 410.3h0M405.4 410.3h0M408.0 398.9h0M410.7 387.5h0M413.4 387.5h0M416.0 387.5h0M418.7 387.5h0M421.3 393.2h0M424.0 393.2h0M426.7 393.2h0M429.3 393.2h0M432.0 410.3h0M434.6 421.7h0M437.3 433.2h0M440.0 438.9h0M442.6 444.6h0M445.3 450.3h0M447.9 461.8h0M450.6 467.5h0M453.3 473.2h0M455.9 478.9h0M458.6 478.9h0M461.2 484.6h0M463.9 478.9h0M466.6 478.9h0M469.2 484.6h0M471.9 484.6h0M474.5 484.6h0M477.2 496.1h0M479.9 490.3h0M482.5 501.8h0M485.2 501.8h0M487.9 507.5h0M490.5 507.5h0M493.2 507.5h0M495.8 507.5h0M498.5 518.9h0M501.2 518.9h0M503.8 518.9h0M506.5 518.9h0M509.1 524.6h0M511.8 530.4h0M514.5 530.4h0M517.1 541.8h0M519.8 536.1h0M522.4 536.1h0M525.1 541.8h0M527.8 547.5h0M530.4 547.5h0M533.1 547.5h0M535.7 547.5h0M538.4 558.9h0M541.1 558.9h0M543.7 558.9h0M546.4 558.9h0M549.0 558.9h0M551.7 564.6h0M554.4 564.6h0M557.0 564.6h0M559.7 564.6h0M562.4 576.1h0M565.0 576.1h0M567.7 576.1h0M570.3 576.1h0M573.0 576.1h0M575.7 587.5h0M578.3 581.8h0M581.0 593.2h0M583.6 587.5h0M586.3 593.2h0M589.0 593.2h0M591.6 593.2h0M594.3 598.9h0M596.9 598.9h0M599.6 598.9h0M602.3 604.7h0M604.9 610.4h0M607.6 604.7h0M610.2 604.7h0M612.9 604.7h0M615.6 604.7h0M618.2 616.1h0M620.9 616.1h0M623.5 616.1h0M626.2 616.1h0M628.9 621.8h0M631.5 627.5h0M634.2 627.5h0M636.9 627.5h0M639.5 633.2h0M642.2 633.2h0M644.8 627.5h0M647.5 633.2h0M650.2 627.5h0M652.8 633.2h0M655.5 627.5h0M658.1 633.2h0M660.8 633.2h0M663.5 633.2h0M666.1 639.0h0M668.8 627.5h0M671.4 633.2h0M674.1 639.0h0M676.8 633.2h0M679.4 639.0h0M682.1 644.7h0M684.7 639.0h0M687.4 639.0h0M690.1 639.0h0M692.7 639.0h0M695.4 639.0h0M698.0 644.7h0M700.7 650.4h0M703.4 650.4h0M706.0 650.4h0M708.7 650.4h0M711.4 656.1h0M714.0 650.4h0M716.7 656.1h0M719.3 656.1h0M722.0 667.5h0M724.7 667.5h0M727.3 673.3h0M730.0 673.3h0M732.6 673.3h0M735.3 679.0h0M738.0 679.0h0M740.6 673.3h0M743.3 679.0h0M745.9 684.7h0M748.6 684.7h0M751.3 679.0h0M753.9 684.7h0M756.6 684.7h0M759.2 684.7h0M761.9 690.4h0M764.6 684.7h0M767.2 673.3h0M769.9 679.0h0M772.5 661.8h0M775.2 644.7h0M777.9 656.1h0M780.5 673.3h0M783.2 679.0h0M785.9 690.4h0M788.5 690.4h0M791.2 690.4h0M793.8 696.1h0M796.5 690.4h0M799.2 696.1h0M801.8 690.4h0M804.5 701.8h0M807.1 696.1h0M809.8 696.1h0M812.5 696.1h0M815.1 696.1h0M817.8 701.8h0M820.4 696.1h0M823.1 696.1h0M825.8 696.1h0M828.4 701.8h0M831.1 701.8h0M833.7 707.5h0M836.4 707.5h0M839.1 707.5h0M841.7 707.5h0M844.4 707.5h0M847.0 707.5h0M849.7 707.5h0M852.4 701.8h0M855.0 701.8h0M857.7 707.5h0M860.4 701.8h0M863.0 701.8h0M865.7 707.5h0M868.3 707.5h0M871.0 707.5h0M873.7 701.8h0M876.3 701.8h0M879.0 707.5h0M881.6 701.8h0M884.3 701.8h0M887.0 701.8h0M889.6 701.8h0M892.3 707.5h0M894.9 701.8h0M897.6 707.5h0M900.3 707.5h0M902.9 707.5h0M905.6 701.8h0M908.2 701.8h0M910.9 707.5h0M913.6 701.8h0M916.2 707.5h0M918.9 707.5h0M921.5 701.8h0M924.2 707.5h0M926.9 701.8h0M929.5 707.5h0M932.2 707.5h0M934.8 707.5h0M937.5 713.3h0M940.2 713.3h0M942.8 707.5h0M945.5 707.5h0M948.2 707.5h0M950.8 713.3h0M953.5 713.3h0M956.1 707.5h0M958.8 707.5h0M961.5 713.3h0M964.1 707.5h0M966.8 707.5h0M969.4 707.5h0M972.1 713.3h0M974.8 707.5h0M977.4 707.5h0M980.1 707.5h0M982.7 707.5h0M985.4 713.3h0M988.1 707.5h0M990.7 707.5h0M993.4 707.5h0M996.0 713.3h0M998.7 707.5h0M1001.4 707.5h0M1004.0 707.5h0M1006.7 713.3h0M1009.3 713.3h0M1012.0 707.5h0M1014.7 713.3h0M1017.3 707.5h0M1020.0 707.5h0M1022.7 707.5h0M1025.3 713.3h0M1028.0 701.8h0M1030.6 701.8h0M1033.3 701.8h0M1036.0 707.5h0M1038.6 713.3h0M1041.3 701.8h0M1043.9 707.5h0M1046.6 701.8h0M1049.3 707.5h0M1051.9 707.5h0M1054.6 707.5h0" stroke="#77AC30" stroke-width="5.3" stroke-linecap="round" fill="none"/>
<path d="M152.9 701.8L155.5 707.5L158.2 707.5L160.9 707.5L163.5 707.5L166.2 713.3L168.8 707.5L171.5 707.5L174.2 707.5L176.8 701.8L179.5 707.5L182.1 707.5L184.8 713.3L187.5 707.5L190.1 707.5L192.8 707.5L195.4 707.5L198.1 701.8L200.8 713.3L203.4 707.5L206.1 707.5L208.7 707.5L211.4 707.5L214.1 707.5L216.7 707.5L219.4 707.5L222.0 707.5L224.7 707.5L227.4 701.8L230.0 707.5L232.7 701.8L235.4 707.5L238.0 707.5L240.7 707.5L243.3 707.5L246.0 707.5L248.7 707.5L251.3 707.5L254.0 684.7L256.6 553.2L259.3 370.3L262.0 261.7L264.6 176.0L267.3 313.1L269.9 421.7L272.6 501.8L275.3 564.6L277.9 524.6L280.6 473.2L283.2 438.9L285.9 410.3L288.6 438.9L291.2 456.0L293.9 484.6L296.5 501.8L299.2 524.6L301.9 484.6L304.5 444.6L307.2 416.0L309.9 387.5L312.5 410.3L315.2 427.5L317.8 456.0L320.5 484.6L323.2 507.5L325.8 467.5L328.5 433.2L331.1 398.9L333.8 364.6L336.5 347.4L339.1 324.6L341.8 330.3L344.4 341.7L347.1 358.9L349.8 358.9L352.4 364.6L355.1 364.6L357.7 358.9L360.4 353.2L363.1 364.6L365.7 370.3L368.4 370.3L371.0 370.3L373.7 376.0L376.4 376.0L379.0 381.7L381.7 381.7L384.4 381.7L387.0 387.5L389.7 387.5L392.3 393.2L395.0 393.2L397.7 398.9L400.3 416.0L403.0 416.0L405.6 410.3L408.3 398.9L411.0 393.2L413.6 387.5L416.3 387.5L418.9 381.7L421.6 376.0L424.3 376.0L426.9 387.5L429.6 398.9L432.2 404.6L434.9 416.0L437.6 427.5L440.2 433.2L442.9 444.6L445.5 450.3L448.2 456.0L450.9 461.8L453.5 473.2L456.2 467.5L458.9 473.2L461.5 473.2L464.2 478.9L466.8 478.9L469.5 478.9L472.2 484.6L474.8 490.3L477.5 490.3L480.1 496.1L482.8 501.8L485.5 501.8L488.1 501.8L490.8 507.5L493.4 513.2L496.1 513.2L498.8 513.2L501.4 513.2L504.1 530.4L506.7 524.6L509.4 524.6L512.1 530.4L514.7 530.4L517.4 536.1L520.0 536.1L522.7 547.5L525.4 541.8L528.0 553.2L530.7 547.5L533.4 547.5L536.0 547.5L538.7 553.2L541.3 558.9L544.0 558.9L546.7 564.6L549.3 564.6L552.0 558.9L554.6 570.4L557.3 564.6L560.0 570.4L562.6 570.4L565.3 576.1L567.9 576.1L570.6 576.1L573.3 581.8L575.9 581.8L578.6 587.5L581.2 581.8L583.9 587.5L586.6 593.2L589.2 593.2L591.9 593.2L594.5 598.9L597.2 593.2L599.9 598.9L602.5 598.9L605.2 598.9L607.8 610.4L610.5 604.7L613.2 610.4L615.8 610.4L618.5 610.4L621.2 616.1L623.8 621.8L626.5 616.1L629.1 621.8L631.8 627.5L634.5 621.8L637.1 633.2L639.8 621.8L642.4 627.5L645.1 627.5L647.8 627.5L650.4 633.2L653.1 639.0L655.7 633.2L658.4 633.2L661.1 633.2L663.7 633.2L666.4 639.0L669.0 639.0L671.7 639.0L674.4 639.0L677.0 639.0L679.7 644.7L682.3 644.7L685.0 639.0L687.7 644.7L690.3 644.7L693.0 644.7L695.7 644.7L698.3 650.4L701.0 644.7L703.6 650.4L706.3 656.1L709.0 650.4L711.6 656.1L714.3 656.1L716.9 650.4L719.6 656.1L722.3 656.1L724.9 656.1L727.6 656.1L730.2 656.1L732.9 667.5L735.6 667.5L738.2 661.8L740.9 661.8L743.5 661.8L746.2 661.8L748.9 661.8L751.5 667.5L754.2 667.5L756.8 661.8L759.5 667.5L762.2 667.5L764.8 673.3L767.5 667.5L770.2 673.3L772.8 673.3L775.5 667.5L778.1 673.3L780.8 667.5L783.5 667.5L786.1 673.3L788.8 673.3L791.4 673.3L794.1 673.3L796.8 667.5L799.4 673.3L802.1 679.0L804.7 679.0L807.4 673.3L810.1 679.0L812.7 679.0L815.4 679.0L818.0 673.3L820.7 679.0L823.4 679.0L826.0 679.0L828.7 679.0L831.3 679.0L834.0 684.7L836.7 684.7L839.3 684.7L842.0 690.4L844.7 684.7L847.3 690.4L850.0 690.4L852.6 690.4L855.3 690.4L858.0 684.7L860.6 684.7L863.3 684.7L865.9 684.7L868.6 684.7L871.3 690.4L873.9 690.4L876.6 684.7L879.2 684.7L881.9 684.7L884.6 684.7L887.2 684.7L889.9 690.4L892.5 684.7L895.2 684.7L897.9 684.7L900.5 684.7L903.2 684.7L905.8 690.4L908.5 684.7L911.2 690.4L913.8 684.7L916.5 690.4L919.2 690.4L921.8 696.1L924.5 690.4L927.1 690.4L929.8 696.1L932.5 690.4L935.1 690.4L937.8 690.4L940.4 696.1L943.1 701.8L945.8 690.4L948.4 690.4L951.1 696.1L953.7 690.4L956.4 696.1L959.1 696.1L961.7 690.4L964.4 696.1L967.0 690.4L969.7 690.4L972.4 696.1L975.0 690.4L977.7 696.1L980.3 690.4L983.0 696.1L985.7 690.4L988.3 696.1L991.0 696.1L993.7 690.4L996.3 696.1L999.0 690.4L1001.6 696.1L1004.3 690.4L1007.0 696.1L1009.6 690.4L1012.3 696.1L1014.9 696.1L1017.6 701.8L1020.3 690.4L1022.9 690.4L1025.6 696.1L1028.2 696.1L1030.9 690.4L1033.6 701.8L1036.2 690.4L1038.9 696.1L1041.5 696.1L1044.2 690.4L1046.9 696.1L1049.5 701.8L1052.2 696.1L1054.8 696.1" stroke="#4DBEEE" stroke-width="1.6" fill="none" stroke-linejoin="round"/>
<path d="M152.9 701.8h0M155.5 707.5h0M158.2 707.5h0M160.9 707.5h0M163.5 707.5h0M166.2 713.3h0M168.8 707.5h0M171.5 707.5h0M174.2 707.5h0M176.8 701.8h0M179.5 707.5h0M182.1 707.5h0M184.8 713.3h0M187.5 707.5h0M190.1 707.5h0M192.8 707.5h0M195.4 707.5h0M198.1 701.8h0M200.8 713.3h0M203.4 707.5h0M206.1 707.5h0M208.7 707.5h0M211.4 707.5h0M214.1 707.5h0M216.7 707.5h0M219.4 707.5h0M222.0 707.5h0M224.7 707.5h0M227.4 701.8h0M230.0 707.5h0M232.7 701.8h0M235.4 707.5h0M238.0 707.5h0M240.7 707.5h0M243.3 707.5h0M246.0 707.5h0M248.7 707.5h0M251.3 707.5h0M254.0 684.7h0M256.6 553.2h0M259.3 370.3h0M262.0 261.7h0M264.6 176.0h0M267.3 313.1h0M269.9 421.7h0M272.6 501.8h0M275.3 564.6h0M277.9 524.6h0M280.6 473.2h0M283.2 438.9h0M285.9 410.3h0M288.6 438.9h0M291.2 456.0h0M293.9 484.6h0M296.5 501.8h0M299.2 524.6h0M301.9 484.6h0M304.5 444.6h0M307.2 416.0h0M309.9 387.5h0M312.5 410.3h0M315.2 427.5h0M317.8 456.0h0M320.5 484.6h0M323.2 507.5h0M325.8 467.5h0M328.5 433.2h0M331.1 398.9h0M333.8 364.6h0M336.5 347.4h0M339.1 324.6h0M341.8 330.3h0M344.4 341.7h0M347.1 358.9h0M349.8 358.9h0M352.4 364.6h0M355.1 364.6h0M357.7 358.9h0M360.4 353.2h0M363.1 364.6h0M365.7 370.3h0M368.4 370.3h0M371.0 370.3h0M373.7 376.0h0M376.4 376.0h0M379.0 381.7h0M381.7 381.7h0M384.4 381.7h0M387.0 387.5h0M389.7 387.5h0M392.3 393.2h0M395.0 393.2h0M397.7 398.9h0M400.3 416.0h0M403.0 416.0h0M405.6 410.3h0M408.3 398.9h0M411.0 393.2h0M413.6 387.5h0M416.3 387.5h0M418.9 381.7h0M421.6 376.0h0M424.3 376.0h0M426.9 387.5h0M429.6 398.9h0M432.2 404.6h0M434.9 416.0h0M437.6 427.5h0M440.2 433.2h0M442.9 444.6h0M445.5 450.3h0M448.2 456.0h0M450.9 461.8h0M453.5 473.2h0M456.2 467.5h0M458.9 473.2h0M461.5 473.2h0M464.2 478.9h0M466.8 478.9h0M469.5 478.9h0M472.2 484.6h0M474.8 490.3h0M477.5 490.3h0M480.1 496.1h0M482.8 501.8h0M485.5 501.8h0M488.1 501.8h0M490.8 507.5h0M493.4 513.2h0M496.1 513.2h0M498.8 513.2h0M501.4 513.2h0M504.1 530.4h0M506.7 524.6h0M509.4 524.6h0M512.1 530.4h0M514.7 530.4h0M517.4 536.1h0M520.0 536.1h0M522.7 547.5h0M525.4 541.8h0M528.0 553.2h0M530.7 547.5h0M533.4 547.5h0M536.0 547.5h0M538.7 553.2h0M541.3 558.9h0M544.0 558.9h0M546.7 564.6h0M549.3 564.6h0M552.0 558.9h0M554.6 570.4h0M557.3 564.6h0M560.0 570.4h0M562.6 570.4h0M565.3 576.1h0M567.9 576.1h0M570.6 576.1h0M573.3 581.8h0M575.9 581.8h0M578.6 587.5h0M581.2 581.8h0M583.9 587.5h0M586.6 593.2h0M589.2 593.2h0M591.9 593.2h0M594.5 598.9h0M597.2 593.2h0M599.9 598.9h0M602.5 598.9h0M605.2 598.9h0M607.8 610.4h0M610.5 604.7h0M613.2 610.4h0M615.8 610.4h0M618.5 610.4h0M621.2 616.1h0M623.8 621.8h0M626.5 616.1h0M629.1 621.8h0M631.8 627.5h0M634.5 621.8h0M637.1 633.2h0M639.8 621.8h0M642.4 627.5h0M645.1 627.5h0M647.8 627.5h0M650.4 633.2h0M653.1 639.0h0M655.7 633.2h0M658.4 633.2h0M661.1 633.2h0M663.7 633.2h0M666.4 639.0h0M669.0 639.0h0M671.7 639.0h0M674.4 639.0h0M677.0 639.0h0M679.7 644.7h0M682.3 644.7h0M685.0 639.0h0M687.7 644.7h0M690.3 644.7h0M693.0 644.7h0M695.7 644.7h0M698.3 650.4h0M701.0 644.7h0M703.6 650.4h0M706.3 656.1h0M709.0 650.4h0M711.6 656.1h0M714.3 656.1h0M716.9 650.4h0M719.6 656.1h0M722.3 656.1h0M724.9 656.1h0M727.6 656.1h0M730.2 656.1h0M732.9 667.5h0M735.6 667.5h0M738.2 661.8h0M740.9 661.8h0M743.5 661.8h0M746.2 661.8h0M748.9 661.8h0M751.5 667.5h0M754.2 667.5h0M756.8 661.8h0M759.5 667.5h0M762.2 667.5h0M764.8 673.3h0M767.5 667.5h0M770.2 673.3h0M772.8 673.3h0M775.5 667.5h0M778.1 673.3h0M780.8 667.5h0M783.5 667.5h0M786.1 673.3h0M788.8 673.3h0M791.4 673.3h0M794.1 673.3h0M796.8 667.5h0M799.4 673.3h0M802.1 679.0h0M804.7 679.0h0M807.4 673.3h0M810.1 679.0h0M812.7 679.0h0M815.4 679.0h0M818.0 673.3h0M820.7 679.0h0M823.4 679.0h0M826.0 679.0h0M828.7 679.0h0M831.3 679.0h0M834.0 684.7h0M836.7 684.7h0M839.3 684.7h0M842.0 690.4h0M844.7 684.7h0M847.3 690.4h0M850.0 690.4h0M852.6 690.4h0M855.3 690.4h0M858.0 684.7h0M860.6 684.7h0M863.3 684.7h0M865.9 684.7h0M868.6 684.7h0M871.3 690.4h0M873.9 690.4h0M876.6 684.7h0M879.2 684.7h0M881.9 684.7h0M884.6 684.7h0M887.2 684.7h0M889.9 690.4h0M892.5 684.7h0M895.2 684.7h0M897.9 684.7h0M900.5 684.7h0M903.2 684.7h0M905.8 690.4h0M908.5 684.7h0M911.2 690.4h0M913.8 684.7h0M916.5 690.4h0M919.2 690.4h0M921.8 696.1h0M924.5 690.4h0M927.1 690.4h0M929.8 696.1h0M932.5 690.4h0M935.1 690.4h0M937.8 690.4h0M940.4 696.1h0M943.1 701.8h0M945.8 690.4h0M948.4 690.4h0M951.1 696.1h0M953.7 690.4h0M956.4 696.1h0M959.1 696.1h0M961.7 690.4h0M964.4 696.1h0M967.0 690.4h0M969.7 690.4h0M972.4 696.1h0M975.0 690.4h0M977.7 696.1h0M980.3 690.4h0M983.0 696.1h0M985.7 690.4h0M988.3 696.1h0M991.0 696.1h0M993.7 690.4h0M996.3 696.1h0M999.0 690.4h0M1001.6 696.1h0M1004.3 690.4h0M1007.0 696.1h0M1009.6 690.4h0M1012.3 696.1h0M1014.9 696.1h0M1017.6 701.8h0M1020.3 690.4h0M1022.9 690.4h0M1025.6 696.1h0M1028.2 696.1h0M1030.9 690.4h0M1033.6 701.8h0M1036.2 690.4h0M1038.9 696.1h0M1041.5 696.1h0M1044.2 690.4h0M1046.9 696.1h0M1049.5 701.8h0M1052.2 696.1h0M1054.8 696.1h0" stroke="#4DBEEE" stroke-width="5.3" stroke-linecap="round" fill="none"/>
<path d="M153.7 707.5L156.3 701.8L159.0 701.8L161.7 707.5L164.3 707.5L167.0 707.5L169.6 707.5L172.3 707.5L175.0 713.3L177.6 707.5L180.3 707.5L182.9 707.5L185.6 713.3L188.3 707.5L190.9 707.5L193.6 707.5L196.2 713.3L198.9 707.5L201.6 701.8L204.2 701.8L206.9 701.8L209.5 707.5L212.2 707.5L214.9 707.5L217.5 707.5L220.2 707.5L222.8 707.5L225.5 707.5L228.2 707.5L230.8 707.5L233.5 707.5L236.2 707.5L238.8 701.8L241.5 701.8L244.1 707.5L246.8 707.5L249.5 701.8L252.1 707.5L254.8 644.7L257.4 496.1L260.1 313.1L262.8 176.0L265.4 250.3L268.1 347.4L270.7 450.3L273.4 513.2L276.1 570.4L278.7 513.2L281.4 473.2L284.0 456.0L286.7 444.6L289.4 444.6L292.0 444.6L294.7 456.0L297.3 461.8L300.0 450.3L302.7 438.9L305.3 433.2L308.0 410.3L310.6 387.5L313.3 416.0L316.0 438.9L318.6 473.2L321.3 501.8L324.0 467.5L326.6 444.6L329.3 410.3L331.9 381.7L334.6 353.2L337.3 330.3L339.9 341.7L342.6 347.4L345.2 358.9L347.9 358.9L350.6 370.3L353.2 381.7L355.9 381.7L358.5 376.0L361.2 376.0L363.9 370.3L366.5 358.9L369.2 358.9L371.8 358.9L374.5 376.0L377.2 376.0L379.8 376.0L382.5 381.7L385.1 393.2L387.8 398.9L390.5 393.2L393.1 398.9L395.8 404.6L398.5 404.6L401.1 410.3L403.8 416.0L406.4 410.3L409.1 398.9L411.8 404.6L414.4 410.3L417.1 410.3L419.7 416.0L422.4 416.0L425.1 416.0L427.7 404.6L430.4 404.6L433.0 416.0L435.7 427.5L438.4 433.2L441.0 444.6L443.7 444.6L446.3 456.0L449.0 461.8L451.7 467.5L454.3 478.9L457.0 473.2L459.6 478.9L462.3 478.9L465.0 484.6L467.6 490.3L470.3 490.3L473.0 490.3L475.6 490.3L478.3 501.8L480.9 496.1L483.6 501.8L486.3 507.5L488.9 501.8L491.6 513.2L494.2 507.5L496.9 524.6L499.6 513.2L502.2 524.6L504.9 524.6L507.5 530.4L510.2 536.1L512.9 530.4L515.5 536.1L518.2 541.8L520.8 541.8L523.5 547.5L526.2 547.5L528.8 547.5L531.5 553.2L534.1 553.2L536.8 558.9L539.5 553.2L542.1 553.2L544.8 558.9L547.5 564.6L550.1 558.9L552.8 570.4L555.4 564.6L558.1 570.4L560.8 564.6L563.4 576.1L566.1 581.8L568.7 581.8L571.4 581.8L574.1 581.8L576.7 587.5L579.4 587.5L582.0 593.2L584.7 593.2L587.4 593.2L590.0 598.9L592.7 598.9L595.3 598.9L598.0 593.2L600.7 604.7L603.3 598.9L606.0 604.7L608.6 604.7L611.3 604.7L614.0 616.1L616.6 610.4L619.3 610.4L622.0 616.1L624.6 616.1L627.3 621.8L629.9 621.8L632.6 627.5L635.3 627.5L637.9 627.5L640.6 633.2L643.2 633.2L645.9 633.2L648.6 627.5L651.2 633.2L653.9 639.0L656.5 639.0L659.2 639.0L661.9 644.7L664.5 639.0L667.2 639.0L669.8 644.7L672.5 644.7L675.2 644.7L677.8 644.7L680.5 644.7L683.1 644.7L685.8 650.4L688.5 644.7L691.1 650.4L693.8 644.7L696.5 650.4L699.1 644.7L701.8 650.4L704.4 650.4L707.1 656.1L709.8 650.4L712.4 650.4L715.1 656.1L717.7 656.1L720.4 656.1L723.1 661.8L725.7 661.8L728.4 656.1L731.0 661.8L733.7 656.1L736.4 656.1L739.0 661.8L741.7 661.8L744.3 661.8L747.0 667.5L749.7 667.5L752.3 673.3L755.0 667.5L757.6 667.5L760.3 673.3L763.0 673.3L765.6 673.3L768.3 673.3L771.0 679.0L773.6 679.0L776.3 679.0L778.9 679.0L781.6 673.3L784.3 684.7L786.9 684.7L789.6 690.4L792.2 684.7L794.9 679.0L797.6 684.7L800.2 684.7L802.9 684.7L805.5 684.7L808.2 684.7L810.9 690.4L813.5 684.7L816.2 684.7L818.8 684.7L821.5 684.7L824.2 690.4L826.8 690.4L829.5 684.7L832.1 690.4L834.8 690.4L837.5 690.4L840.1 690.4L842.8 684.7L845.5 690.4L848.1 684.7L850.8 690.4L853.4 690.4L856.1 690.4L858.8 690.4L861.4 696.1L864.1 690.4L866.7 696.1L869.4 696.1L872.1 696.1L874.7 696.1L877.4 690.4L880.0 696.1L882.7 696.1L885.4 690.4L888.0 701.8L890.7 696.1L893.3 690.4L896.0 690.4L898.7 696.1L901.3 696.1L904.0 690.4L906.6 690.4L909.3 684.7L912.0 684.7L914.6 696.1L917.3 690.4L920.0 690.4L922.6 696.1L925.3 690.4L927.9 690.4L930.6 701.8L933.3 690.4L935.9 696.1L938.6 690.4L941.2 690.4L943.9 696.1L946.6 690.4L949.2 696.1L951.9 690.4L954.5 696.1L957.2 696.1L959.9 696.1L962.5 690.4L965.2 696.1L967.8 690.4L970.5 690.4L973.2 690.4L975.8 690.4L978.5 690.4L981.1 696.1L983.8 696.1L986.5 696.1L989.1 690.4L991.8 696.1L994.4 696.1L997.1 696.1L999.8 696.1L1002.4 696.1L1005.1 696.1L1007.8 701.8L1010.4 696.1L1013.1 701.8L1015.7 696.1L1018.4 696.1L1021.1 696.1L1023.7 696.1L1026.4 696.1L1029.0 696.1L1031.7 696.1L1034.4 701.8L1037.0 696.1L1039.7 696.1L1042.3 701.8L1045.0 701.8L1047.7 707.5L1050.3 701.8L1053.0 701.8L1055.6 701.8" stroke="#A2142F" stroke-width="1.6" fill="none" stroke-linejoin="round"/>
<path d="M153.7 707.5h0M156.3 701.8h0M159.0 701.8h0M161.7 707.5h0M164.3 707.5h0M167.0 707.5h0M169.6 707.5h0M172.3 707.5h0M175.0 713.3h0M177.6 707.5h0M180.3 707.5h0M182.9 707.5h0M185.6 713.3h0M188.3 707.5h0M190.9 707.5h0M193.6 707.5h0M196.2 713.3h0M198.9 707.5h0M201.6 701.8h0M204.2 701.8h0M206.9 701.8h0M209.5 707.5h0M212.2 707.5h0M214.9 707.5h0M217.5 707.5h0M220.2 707.5h0M222.8 707.5h0M225.5 707.5h0M228.2 707.5h0M230.8 707.5h0M233.5 707.5h0M236.2 707.5h0M238.8 701.8h0M241.5 701.8h0M244.1 707.5h0M246.8 707.5h0M249.5 701.8h0M252.1 707.5h0M254.8 644.7h0M257.4 496.1h0M260.1 313.1h0M262.8 176.0h0M265.4 250.3h0M268.1 347.4h0M270.7 450.3h0M273.4 513.2h0M276.1 570.4h0M278.7 513.2h0M281.4 473.2h0M284.0 456.0h0M286.7 444.6h0M289.4 444.6h0M292.0 444.6h0M294.7 456.0h0M297.3 461.8h0M300.0 450.3h0M302.7 438.9h0M305.3 433.2h0M308.0 410.3h0M310.6 387.5h0M313.3 416.0h0M316.0 438.9h0M318.6 473.2h0M321.3 501.8h0M324.0 467.5h0M326.6 444.6h0M329.3 410.3h0M331.9 381.7h0M334.6 353.2h0M337.3 330.3h0M339.9 341.7h0M342.6 347.4h0M345.2 358.9h0M347.9 358.9h0M350.6 370.3h0M353.2 381.7h0M355.9 381.7h0M358.5 376.0h0M361.2 376.0h0M363.9 370.3h0M366.5 358.9h0M369.2 358.9h0M371.8 358.9h0M374.5 376.0h0M377.2 376.0h0M379.8 376.0h0M382.5 381.7h0M385.1 393.2h0M387.8 398.9h0M390.5 393.2h0M393.1 398.9h0M395.8 404.6h0M398.5 404.6h0M401.1 410.3h0M403.8 416.0h0M406.4 410.3h0M409.1 398.9h0M411.8 404.6h0M414.4 410.3h0M417.1 410.3h0M419.7 416.0h0M422.4 416.0h0M425.1 416.0h0M427.7 404.6h0M430.4 404.6h0M433.0 416.0h0M435.7 427.5h0M438.4 433.2h0M441.0 444.6h0M443.7 444.6h0M446.3 456.0h0M449.0 461.8h0M451.7 467.5h0M454.3 478.9h0M457.0 473.2h0M459.6 478.9h0M462.3 478.9h0M465.0 484.6h0M467.6 490.3h0M470.3 490.3h0M473.0 490.3h0M475.6 490.3h0M478.3 501.8h0M480.9 496.1h0M483.6 501.8h0M486.3 507.5h0M488.9 501.8h0M491.6 513.2h0M494.2 507.5h0M496.9 524.6h0M499.6 513.2h0M502.2 524.6h0M504.9 524.6h0M507.5 530.4h0M510.2 536.1h0M512.9 530.4h0M515.5 536.1h0M518.2 541.8h0M520.8 541.8h0M523.5 547.5h0M526.2 547.5h0M528.8 547.5h0M531.5 553.2h0M534.1 553.2h0M536.8 558.9h0M539.5 553.2h0M542.1 553.2h0M544.8 558.9h0M547.5 564.6h0M550.1 558.9h0M552.8 570.4h0M555.4 564.6h0M558.1 570.4h0M560.8 564.6h0M563.4 576.1h0M566.1 581.8h0M568.7 581.8h0M571.4 581.8h0M574.1 581.8h0M576.7 587.5h0M579.4 587.5h0M582.0 593.2h0M584.7 593.2h0M587.4 593.2h0M590.0 598.9h0M592.7 598.9h0M595.3 598.9h0M598.0 593.2h0M600.7 604.7h0M603.3 598.9h0M606.0 604.7h0M608.6 604.7h0M611.3 604.7h0M614.0 616.1h0M616.6 610.4h0M619.3 610.4h0M622.0 616.1h0M624.6 616.1h0M627.3 621.8h0M629.9 621.8h0M632.6 627.5h0M635.3 627.5h0M637.9 627.5h0M640.6 633.2h0M643.2 633.2h0M645.9 633.2h0M648.6 627.5h0M651.2 633.2h0M653.9 639.0h0M656.5 639.0h0M659.2 639.0h0M661.9 644.7h0M664.5 639.0h0M667.2 639.0h0M669.8 644.7h0M672.5 644.7h0M675.2 644.7h0M677.8 644.7h0M680.5 644.7h0M683.1 644.7h0M685.8 650.4h0M688.5 644.7h0M691.1 650.4h0M693.8 644.7h0M696.5 650.4h0M699.1 644.7h0M701.8 650.4h0M704.4 650.4h0M707.1 656.1h0M709.8 650.4h0M712.4 650.4h0M715.1 656.1h0M717.7 656.1h0M720.4 656.1h0M723.1 661.8h0M725.7 661.8h0M728.4 656.1h0M731.0 661.8h0M733.7 656.1h0M736.4 656.1h0M739.0 661.8h0M741.7 661.8h0M744.3 661.8h0M747.0 667.5h0M749.7 667.5h0M752.3 673.3h0M755.0 667.5h0M757.6 667.5h0M760.3 673.3h0M763.0 673.3h0M765.6 673.3h0M768.3 673.3h0M771.0 679.0h0M773.6 679.0h0M776.3 679.0h0M778.9 679.0h0M781.6 673.3h0M784.3 684.7h0M786.9 684.7h0M789.6 690.4h0M792.2 684.7h0M794.9 679.0h0M797.6 684.7h0M800.2 684.7h0M802.9 684.7h0M805.5 684.7h0M808.2 684.7h0M810.9 690.4h0M813.5 684.7h0M816.2 684.7h0M818.8 684.7h0M821.5 684.7h0M824.2 690.4h0M826.8 690.4h0M829.5 684.7h0M832.1 690.4h0M834.8 690.4h0M837.5 690.4h0M840.1 690.4h0M842.8 684.7h0M845.5 690.4h0M848.1 684.7h0M850.8 690.4h0M853.4 690.4h0M856.1 690.4h0M858.8 690.4h0M861.4 696.1h0M864.1 690.4h0M866.7 696.1h0M869.4 696.1h0M872.1 696.1h0M874.7 696.1h0M877.4 690.4h0M880.0 696.1h0M882.7 696.1h0M885.4 690.4h0M888.0 701.8h0M890.7 696.1h0M893.3 690.4h0M896.0 690.4h0M898.7 696.1h0M901.3 696.1h0M904.0 690.4h0M906.6 690.4h0M909.3 684.7h0M912.0 684.7h0M914.6 696.1h0M917.3 690.4h0M920.0 690.4h0M922.6 696.1h0M925.3 690.4h0M927.9 690.4h0M930.6 701.8h0M933.3 690.4h0M935.9 696.1h0M938.6 690.4h0M941.2 690.4h0M943.9 696.1h0M946.6 690.4h0M949.2 696.1h0M951.9 690.4h0M954.5 696.1h0M957.2 696.1h0M959.9 696.1h0M962.5 690.4h0M965.2 696.1h0M967.8 690.4h0M970.5 690.4h0M973.2 690.4h0M975.8 690.4h0M978.5 690.4h0M981.1 696.1h0M983.8 696.1h0M986.5 696.1h0M989.1 690.4h0M991.8 696.1h0M994.4 696.1h0M997.1 696.1h0M999.8 696.1h0M1002.4 696.1h0M1005.1 696.1h0M1007.8 701.8h0M1010.4 696.1h0M1013.1 701.8h0M1015.7 696.1h0M1018.4 696.1h0M1021.1 696.1h0M1023.7 696.1h0M1026.4 696.1h0M1029.0 696.1h0M1031.7 696.1h0M1034.4 701.8h0M1037.0 696.1h0M1039.7 696.1h0M1042.3 701.8h0M1045.0 701.8h0M1047.7 707.5h0M1050.3 701.8h0M1053.0 701.8h0M1055.6 701.8h0" stroke="#A2142F" stroke-width="5.3" stroke-linecap="round" fill="none"/>
<path d="M152.3 707.5L155.0 707.5L157.7 707.5L160.3 707.5L163.0 701.8L165.6 707.5L168.3 713.3L171.0 707.5L173.6 701.8L176.3 701.8L178.9 701.8L181.6 707.5L184.3 707.5L186.9 701.8L189.6 707.5L192.2 701.8L194.9 701.8L197.6 701.8L200.2 707.5L202.9 707.5L205.6 707.5L208.2 707.5L210.9 701.8L213.5 701.8L216.2 707.5L218.9 701.8L221.5 707.5L224.2 707.5L226.8 707.5L229.5 707.5L232.2 707.5L234.8 707.5L237.5 707.5L240.1 707.5L242.8 707.5L245.5 713.3L248.1 701.8L250.8 707.5L253.4 684.7L256.1 587.5L258.8 404.6L261.4 267.4L264.1 176.0L266.7 290.3L269.4 398.9L272.1 490.3L274.7 570.4L277.4 524.6L280.1 484.6L282.7 450.3L285.4 427.5L288.0 438.9L290.7 461.8L293.4 473.2L296.0 490.3L298.7 501.8L301.3 478.9L304.0 438.9L306.7 427.5L309.3 404.6L312.0 387.5L314.6 421.7L317.3 456.0L320.0 473.2L322.6 501.8L325.3 473.2L327.9 438.9L330.6 398.9L333.3 376.0L335.9 341.7L338.6 318.9L341.2 330.3L343.9 336.0L346.6 341.7L349.2 353.2L351.9 353.2L354.6 358.9L357.2 347.4L359.9 353.2L362.5 358.9L365.2 358.9L367.9 364.6L370.5 364.6L373.2 376.0L375.8 376.0L378.5 370.3L381.2 370.3L383.8 370.3L386.5 370.3L389.1 387.5L391.8 393.2L394.5 393.2L397.1 398.9L399.8 410.3L402.4 410.3L405.1 416.0L407.8 398.9L410.4 393.2L413.1 398.9L415.7 393.2L418.4 393.2L421.1 393.2L423.7 393.2L426.4 387.5L429.1 387.5L431.7 404.6L434.4 410.3L437.0 427.5L439.7 433.2L442.4 444.6L445.0 450.3L447.7 456.0L450.3 461.8L453.0 473.2L455.7 473.2L458.3 473.2L461.0 478.9L463.6 484.6L466.3 478.9L469.0 484.6L471.6 490.3L474.3 496.1L476.9 490.3L479.6 496.1L482.3 496.1L484.9 501.8L487.6 507.5L490.2 507.5L492.9 513.2L495.6 507.5L498.2 518.9L500.9 513.2L503.6 518.9L506.2 518.9L508.9 524.6L511.5 524.6L514.2 536.1L516.9 536.1L519.5 541.8L522.2 536.1L524.8 541.8L527.5 541.8L530.2 547.5L532.8 553.2L535.5 553.2L538.1 547.5L540.8 553.2L543.5 553.2L546.1 558.9L548.8 564.6L551.4 564.6L554.1 564.6L556.8 570.4L559.4 570.4L562.1 576.1L564.7 576.1L567.4 570.4L570.1 576.1L572.7 581.8L575.4 587.5L578.1 587.5L580.7 587.5L583.4 593.2L586.0 587.5L588.7 598.9L591.4 593.2L594.0 593.2L596.7 604.7L599.3 598.9L602.0 604.7L604.7 604.7L607.3 610.4L610.0 610.4L612.6 610.4L615.3 616.1L618.0 610.4L620.6 616.1L623.3 627.5L625.9 621.8L628.6 621.8L631.3 627.5L633.9 621.8L636.6 627.5L639.2 627.5L641.9 639.0L644.6 633.2L647.2 633.2L649.9 633.2L652.5 639.0L655.2 633.2L657.9 633.2L660.5 639.0L663.2 644.7L665.9 639.0L668.5 639.0L671.2 639.0L673.8 639.0L676.5 644.7L679.2 644.7L681.8 644.7L684.5 644.7L687.1 650.4L689.8 644.7L692.5 644.7L695.1 650.4L697.8 650.4L700.4 650.4L703.1 656.1L705.8 650.4L708.4 656.1L711.1 661.8L713.7 656.1L716.4 661.8L719.1 656.1L721.7 661.8L724.4 667.5L727.0 661.8L729.7 667.5L732.4 656.1L735.0 661.8L737.7 661.8L740.4 661.8L743.0 661.8L745.7 667.5L748.3 661.8L751.0 667.5L753.7 673.3L756.3 673.3L759.0 667.5L761.6 673.3L764.3 673.3L767.0 679.0L769.6 673.3L772.3 673.3L774.9 673.3L777.6 679.0L780.3 679.0L782.9 679.0L785.6 684.7L788.2 684.7L790.9 684.7L793.6 679.0L796.2 679.0L798.9 684.7L801.5 684.7L804.2 684.7L806.9 684.7L809.5 690.4L812.2 684.7L814.9 690.4L817.5 690.4L820.2 684.7L822.8 690.4L825.5 690.4L828.2 690.4L830.8 690.4L833.5 690.4L836.1 696.1L838.8 696.1L841.5 696.1L844.1 690.4L846.8 690.4L849.4 690.4L852.1 690.4L854.8 690.4L857.4 690.4L860.1 690.4L862.7 690.4L865.4 696.1L868.1 690.4L870.7 690.4L873.4 690.4L876.0 690.4L878.7 690.4L881.4 690.4L884.0 690.4L886.7 696.1L889.4 690.4L892.0 696.1L894.7 684.7L897.3 696.1L900.0 690.4L902.7 667.5L905.3 690.4L908.0 696.1L910.6 684.7L913.3 690.4L916.0 696.1L918.6 690.4L921.3 690.4L923.9 696.1L926.6 696.1L929.3 696.1L931.9 696.1L934.6 696.1L937.2 696.1L939.9 696.1L942.6 696.1L945.2 701.8L947.9 696.1L950.5 696.1L953.2 696.1L955.9 690.4L958.5 690.4L961.2 696.1L963.9 696.1L966.5 696.1L969.2 696.1L971.8 701.8L974.5 701.8L977.2 696.1L979.8 696.1L982.5 690.4L985.1 696.1L987.8 696.1L990.5 696.1L993.1 696.1L995.8 690.4L998.4 696.1L1001.1 696.1L1003.8 690.4L1006.4 696.1L1009.1 696.1L1011.7 696.1L1014.4 696.1L1017.1 696.1L1019.7 701.8L1022.4 696.1L1025.0 696.1L1027.7 696.1L1030.4 701.8L1033.0 696.1L1035.7 701.8L1038.4 696.1L1041.0 701.8L1043.7 701.8L1046.3 696.1L1049.0 701.8L1051.7 707.5L1054.3 696.1" stroke="#0072BD" stroke-width="1.6" fill="none" stroke-linejoin="round"/>
<path d="M152.3 707.5h0M155.0 707.5h0M157.7 707.5h0M160.3 707.5h0M163.0 701.8h0M165.6 707.5h0M168.3 713.3h0M171.0 707.5h0M173.6 701.8h0M176.3 701.8h0M178.9 701.8h0M181.6 707.5h0M184.3 707.5h0M186.9 701.8h0M189.6 707.5h0M192.2 701.8h0M194.9 701.8h0M197.6 701.8h0M200.2 707.5h0M202.9 707.5h0M205.6 707.5h0M208.2 707.5h0M210.9 701.8h0M213.5 701.8h0M216.2 707.5h0M218.9 701.8h0M221.5 707.5h0M224.2 707.5h0M226.8 707.5h0M229.5 707.5h0M232.2 707.5h0M234.8 707.5h0M237.5 707.5h0M240.1 707.5h0M242.8 707.5h0M245.5 713.3h0M248.1 701.8h0M250.8 707.5h0M253.4 684.7h0M256.1 587.5h0M258.8 404.6h0M261.4 267.4h0M264.1 176.0h0M266.7 290.3h0M269.4 398.9h0M272.1 490.3h0M274.7 570.4h0M277.4 524.6h0M280.1 484.6h0M282.7 450.3h0M285.4 427.5h0M288.0 438.9h0M290.7 461.8h0M293.4 473.2h0M296.0 490.3h0M298.7 501.8h0M301.3 478.9h0M304.0 438.9h0M306.7 427.5h0M309.3 404.6h0M312.0 387.5h0M314.6 421.7h0M317.3 456.0h0M320.0 473.2h0M322.6 501.8h0M325.3 473.2h0M327.9 438.9h0M330.6 398.9h0M333.3 376.0h0M335.9 341.7h0M338.6 318.9h0M341.2 330.3h0M343.9 336.0h0M346.6 341.7h0M349.2 353.2h0M351.9 353.2h0M354.6 358.9h0M357.2 347.4h0M359.9 353.2h0M362.5 358.9h0M365.2 358.9h0M367.9 364.6h0M370.5 364.6h0M373.2 376.0h0M375.8 376.0h0M378.5 370.3h0M381.2 370.3h0M383.8 370.3h0M386.5 370.3h0M389.1 387.5h0M391.8 393.2h0M394.5 393.2h0M397.1 398.9h0M399.8 410.3h0M402.4 410.3h0M405.1 416.0h0M407.8 398.9h0M410.4 393.2h0M413.1 398.9h0M415.7 393.2h0M418.4 393.2h0M421.1 393.2h0M423.7 393.2h0M426.4 387.5h0M429.1 387.5h0M431.7 404.6h0M434.4 410.3h0M437.0 427.5h0M439.7 433.2h0M442.4 444.6h0M445.0 450.3h0M447.7 456.0h0M450.3 461.8h0M453.0 473.2h0M455.7 473.2h0M458.3 473.2h0M461.0 478.9h0M463.6 484.6h0M466.3 478.9h0M469.0 484.6h0M471.6 490.3h0M474.3 496.1h0M476.9 490.3h0M479.6 496.1h0M482.3 496.1h0M484.9 501.8h0M487.6 507.5h0M490.2 507.5h0M492.9 513.2h0M495.6 507.5h0M498.2 518.9h0M500.9 513.2h0M503.6 518.9h0M506.2 518.9h0M508.9 524.6h0M511.5 524.6h0M514.2 536.1h0M516.9 536.1h0M519.5 541.8h0M522.2 536.1h0M524.8 541.8h0M527.5 541.8h0M530.2 547.5h0M532.8 553.2h0M535.5 553.2h0M538.1 547.5h0M540.8 553.2h0M543.5 553.2h0M546.1 558.9h0M548.8 564.6h0M551.4 564.6h0M554.1 564.6h0M556.8 570.4h0M559.4 570.4h0M562.1 576.1h0M564.7 576.1h0M567.4 570.4h0M570.1 576.1h0M572.7 581.8h0M575.4 587.5h0M578.1 587.5h0M580.7 587.5h0M583.4 593.2h0M586.0 587.5h0M588.7 598.9h0M591.4 593.2h0M594.0 593.2h0M596.7 604.7h0M599.3 598.9h0M602.0 604.7h0M604.7 604.7h0M607.3 610.4h0M610.0 610.4h0M612.6 610.4h0M615.3 616.1h0M618.0 610.4h0M620.6 616.1h0M623.3 627.5h0M625.9 621.8h0M628.6 621.8h0M631.3 627.5h0M633.9 621.8h0M636.6 627.5h0M639.2 627.5h0M641.9 639.0h0M644.6 633.2h0M647.2 633.2h0M649.9 633.2h0M652.5 639.0h0M655.2 633.2h0M657.9 633.2h0M660.5 639.0h0M663.2 644.7h0M665.9 639.0h0M668.5 639.0h0M671.2 639.0h0M673.8 639.0h0M676.5 644.7h0M679.2 644.7h0M681.8 644.7h0M684.5 644.7h0M687.1 650.4h0M689.8 644.7h0M692.5 644.7h0M695.1 650.4h0M697.8 650.4h0M700.4 650.4h0M703.1 656.1h0M705.8 650.4h0M708.4 656.1h0M711.1 661.8h0M713.7 656.1h0M716.4 661.8h0M719.1 656.1h0M721.7 661.8h0M724.4 667.5h0M727.0 661.8h0M729.7 667.5h0M732.4 656.1h0M735.0 661.8h0M737.7 661.8h0M740.4 661.8h0M743.0 661.8h0M745.7 667.5h0M748.3 661.8h0M751.0 667.5h0M753.7 673.3h0M756.3 673.3h0M759.0 667.5h0M761.6 673.3h0M764.3 673.3h0M767.0 679.0h0M769.6 673.3h0M772.3 673.3h0M774.9 673.3h0M777.6 679.0h0M780.3 679.0h0M782.9 679.0h0M785.6 684.7h0M788.2 684.7h0M790.9 684.7h0M793.6 679.0h0M796.2 679.0h0M798.9 684.7h0M801.5 684.7h0M804.2 684.7h0M806.9 684.7h0M809.5 690.4h0M812.2 684.7h0M814.9 690.4h0M817.5 690.4h0M820.2 684.7h0M822.8 690.4h0M825.5 690.4h0M828.2 690.4h0M830.8 690.4h0M833.5 690.4h0M836.1 696.1h0M838.8 696.1h0M841.5 696.1h0M844.1 690.4h0M846.8 690.4h0M849.4 690.4h0M852.1 690.4h0M854.8 690.4h0M857.4 690.4h0M860.1 690.4h0M862.7 690.4h0M865.4 696.1h0M868.1 690.4h0M870.7 690.4h0M873.4 690.4h0M876.0 690.4h0M878.7 690.4h0M881.4 690.4h0M884.0 690.4h0M886.7 696.1h0M889.4 690.4h0M892.0 696.1h0M894.7 684.7h0M897.3 696.1h0M900.0 690.4h0M902.7 667.5h0M905.3 690.4h0M908.0 696.1h0M910.6 684.7h0M913.3 690.4h0M916.0 696.1h0M918.6 690.4h0M921.3 690.4h0M923.9 696.1h0M926.6 696.1h0M929.3 696.1h0M931.9 696.1h0M934.6 696.1h0M937.2 696.1h0M939.9 696.1h0M942.6 696.1h0M945.2 701.8h0M947.9 696.1h0M950.5 696.1h0M953.2 696.1h0M955.9 690.4h0M958.5 690.4h0M961.2 696.1h0M963.9 696.1h0M966.5 696.1h0M969.2 696.1h0M971.8 701.8h0M974.5 701.8h0M977.2 696.1h0M979.8 696.1h0M982.5 690.4h0M985.1 696.1h0M987.8 696.1h0M990.5 696.1h0M993.1 696.1h0M995.8 690.4h0M998.4 696.1h0M1001.1 696.1h0M1003.8 690.4h0M1006.4 696.1h0M1009.1 696.1h0M1011.7 696.1h0M1014.4 696.1h0M1017.1 696.1h0M1019.7 701.8h0M1022.4 696.1h0M1025.0 696.1h0M1027.7 696.1h0M1030.4 701.8h0M1033.0 696.1h0M1035.7 701.8h0M1038.4 696.1h0M1041.0 701.8h0M1043.7 701.8h0M1046.3 696.1h0M1049.0 701.8h0M1051.7 707.5h0M1054.3 696.1h0" stroke="#0072BD" stroke-width="5.3" stroke-linecap="round" fill="none"/>
<path d="M153.1 707.5L155.8 701.8L158.5 713.3L161.1 707.5L163.8 707.5L166.4 707.5L169.1 713.3L171.8 701.8L174.4 707.5L177.1 707.5L179.7 707.5L182.4 707.5L185.1 701.8L187.7 707.5L190.4 707.5L193.0 707.5L195.7 707.5L198.4 707.5L201.0 707.5L203.7 701.8L206.4 713.3L209.0 713.3L211.7 707.5L214.3 701.8L217.0 701.8L219.7 707.5L222.3 707.5L225.0 707.5L227.6 701.8L230.3 707.5L233.0 707.5L235.6 707.5L238.3 701.8L240.9 707.5L243.6 707.5L246.3 707.5L248.9 707.5L251.6 701.8L254.2 673.3L256.9 530.4L259.6 353.2L262.2 170.2L264.9 244.6L267.5 330.3L270.2 427.5L272.9 507.5L275.5 564.6L278.2 518.9L280.8 473.2L283.5 444.6L286.2 416.0L288.8 433.2L291.5 467.5L294.2 484.6L296.8 496.1L299.5 513.2L302.1 473.2L304.8 438.9L307.5 416.0L310.1 387.5L312.8 404.6L315.4 433.2L318.1 461.8L320.8 478.9L323.4 507.5L326.1 461.8L328.7 421.7L331.4 393.2L334.1 364.6L336.7 347.4L339.4 324.6L342.0 324.6L344.7 330.3L347.4 336.0L350.0 341.7L352.7 341.7L355.3 347.4L358.0 341.7L360.7 341.7L363.3 347.4L366.0 347.4L368.7 353.2L371.3 353.2L374.0 358.9L376.6 364.6L379.3 358.9L382.0 358.9L384.6 364.6L387.3 364.6L389.9 376.0L392.6 387.5L395.3 393.2L397.9 393.2L400.6 398.9L403.2 410.3L405.9 398.9L408.6 393.2L411.2 393.2L413.9 387.5L416.5 393.2L419.2 387.5L421.9 387.5L424.5 393.2L427.2 381.7L429.8 393.2L432.5 404.6L435.2 421.7L437.8 421.7L440.5 438.9L443.2 438.9L445.8 450.3L448.5 456.0L451.1 467.5L453.8 473.2L456.5 467.5L459.1 478.9L461.8 473.2L464.4 473.2L467.1 478.9L469.8 478.9L472.4 484.6L475.1 478.9L477.7 490.3L480.4 490.3L483.1 496.1L485.7 496.1L488.4 496.1L491.0 501.8L493.7 507.5L496.4 507.5L499.0 513.2L501.7 513.2L504.3 518.9L507.0 524.6L509.7 524.6L512.3 518.9L515.0 530.4L517.7 524.6L520.3 536.1L523.0 536.1L525.6 541.8L528.3 547.5L531.0 547.5L533.6 541.8L536.3 541.8L538.9 547.5L541.6 553.2L544.3 553.2L546.9 558.9L549.6 558.9L552.2 558.9L554.9 564.6L557.6 570.4L560.2 564.6L562.9 570.4L565.5 570.4L568.2 576.1L570.9 576.1L573.5 581.8L576.2 581.8L578.8 587.5L581.5 581.8L584.2 587.5L586.8 587.5L589.5 581.8L592.2 587.5L594.8 587.5L597.5 593.2L600.1 598.9L602.8 598.9L605.5 598.9L608.1 598.9L610.8 604.7L613.4 604.7L616.1 616.1L618.8 610.4L621.4 610.4L624.1 610.4L626.7 610.4L629.4 616.1L632.1 621.8L634.7 621.8L637.4 621.8L640.0 616.1L642.7 627.5L645.4 627.5L648.0 627.5L650.7 627.5L653.3 627.5L656.0 633.2L658.7 627.5L661.3 633.2L664.0 633.2L666.7 627.5L669.3 639.0L672.0 639.0L674.6 639.0L677.3 639.0L680.0 639.0L682.6 639.0L685.3 639.0L687.9 639.0L690.6 644.7L693.3 644.7L695.9 639.0L698.6 650.4L701.2 644.7L703.9 644.7L706.6 644.7L709.2 650.4L711.9 656.1L714.5 650.4L717.2 650.4L719.9 650.4L722.5 656.1L725.2 656.1L727.8 656.1L730.5 661.8L733.2 656.1L735.8 667.5L738.5 661.8L741.2 667.5L743.8 661.8L746.5 667.5L749.1 667.5L751.8 667.5L754.5 667.5L757.1 667.5L759.8 673.3L762.4 673.3L765.1 667.5L767.8 667.5L770.4 673.3L773.1 679.0L775.7 679.0L778.4 673.3L781.1 673.3L783.7 679.0L786.4 679.0L789.0 673.3L791.7 684.7L794.4 679.0L797.0 679.0L799.7 679.0L802.3 679.0L805.0 684.7L807.7 679.0L810.3 679.0L813.0 679.0L815.7 679.0L818.3 684.7L821.0 684.7L823.6 684.7L826.3 684.7L829.0 684.7L831.6 684.7L834.3 684.7L836.9 690.4L839.6 684.7L842.3 679.0L844.9 684.7L847.6 684.7L850.2 684.7L852.9 684.7L855.6 684.7L858.2 684.7L860.9 690.4L863.5 684.7L866.2 690.4L868.9 684.7L871.5 690.4L874.2 684.7L876.8 690.4L879.5 696.1L882.2 690.4L884.8 690.4L887.5 684.7L890.2 690.4L892.8 690.4L895.5 696.1L898.1 690.4L900.8 690.4L903.5 690.4L906.1 696.1L908.8 696.1L911.4 696.1L914.1 690.4L916.8 690.4L919.4 696.1L922.1 696.1L924.7 696.1L927.4 696.1L930.1 701.8L932.7 696.1L935.4 696.1L938.0 696.1L940.7 696.1L943.4 701.8L946.0 701.8L948.7 701.8L951.3 696.1L954.0 696.1L956.7 696.1L959.3 701.8L962.0 696.1L964.6 701.8L967.3 701.8L970.0 701.8L972.6 701.8L975.3 701.8L978.0 701.8L980.6 696.1L983.3 701.8L985.9 707.5L988.6 701.8L991.3 696.1L993.9 696.1L996.6 707.5L999.2 701.8L1001.9 696.1L1004.6 701.8L1007.2 696.1L1009.9 701.8L1012.5 707.5L1015.2 701.8L1017.9 701.8L1020.5 707.5L1023.2 707.5L1025.8 707.5L1028.5 701.8L1031.2 701.8L1033.8 701.8L1036.5 701.8L1039.1 701.8L1041.8 707.5L1044.5 707.5L1047.1 701.8L1049.8 707.5L1052.5 707.5L1055.1 707.5" stroke="#D95319" stroke-width="1.6" fill="none" stroke-linejoin="round"/>
<path d="M153.1 707.5h0M155.8 701.8h0M158.5 713.3h0M161.1 707.5h0M163.8 707.5h0M166.4 707.5h0M169.1 713.3h0M171.8 701.8h0M174.4 707.5h0M177.1 707.5h0M179.7 707.5h0M182.4 707.5h0M185.1 701.8h0M187.7 707.5h0M190.4 707.5h0M193.0 707.5h0M195.7 707.5h0M198.4 707.5h0M201.0 707.5h0M203.7 701.8h0M206.4 713.3h0M209.0 713.3h0M211.7 707.5h0M214.3 701.8h0M217.0 701.8h0M219.7 707.5h0M222.3 707.5h0M225.0 707.5h0M227.6 701.8h0M230.3 707.5h0M233.0 707.5h0M235.6 707.5h0M238.3 701.8h0M240.9 707.5h0M243.6 707.5h0M246.3 707.5h0M248.9 707.5h0M251.6 701.8h0M254.2 673.3h0M256.9 530.4h0M259.6 353.2h0M262.2 170.2h0M264.9 244.6h0M267.5 330.3h0M270.2 427.5h0M272.9 507.5h0M275.5 564.6h0M278.2 518.9h0M280.8 473.2h0M283.5 444.6h0M286.2 416.0h0M288.8 433.2h0M291.5 467.5h0M294.2 484.6h0M296.8 496.1h0M299.5 513.2h0M302.1 473.2h0M304.8 438.9h0M307.5 416.0h0M310.1 387.5h0M312.8 404.6h0M315.4 433.2h0M318.1 461.8h0M320.8 478.9h0M323.4 507.5h0M326.1 461.8h0M328.7 421.7h0M331.4 393.2h0M334.1 364.6h0M336.7 347.4h0M339.4 324.6h0M342.0 324.6h0M344.7 330.3h0M347.4 336.0h0M350.0 341.7h0M352.7 341.7h0M355.3 347.4h0M358.0 341.7h0M360.7 341.7h0M363.3 347.4h0M366.0 347.4h0M368.7 353.2h0M371.3 353.2h0M374.0 358.9h0M376.6 364.6h0M379.3 358.9h0M382.0 358.9h0M384.6 364.6h0M387.3 364.6h0M389.9 376.0h0M392.6 387.5h0M395.3 393.2h0M397.9 393.2h0M400.6 398.9h0M403.2 410.3h0M405.9 398.9h0M408.6 393.2h0M411.2 393.2h0M413.9 387.5h0M416.5 393.2h0M419.2 387.5h0M421.9 387.5h0M424.5 393.2h0M427.2 381.7h0M429.8 393.2h0M432.5 404.6h0M435.2 421.7h0M437.8 421.7h0M440.5 438.9h0M443.2 438.9h0M445.8 450.3h0M448.5 456.0h0M451.1 467.5h0M453.8 473.2h0M456.5 467.5h0M459.1 478.9h0M461.8 473.2h0M464.4 473.2h0M467.1 478.9h0M469.8 478.9h0M472.4 484.6h0M475.1 478.9h0M477.7 490.3h0M480.4 490.3h0M483.1 496.1h0M485.7 496.1h0M488.4 496.1h0M491.0 501.8h0M493.7 507.5h0M496.4 507.5h0M499.0 513.2h0M501.7 513.2h0M504.3 518.9h0M507.0 524.6h0M509.7 524.6h0M512.3 518.9h0M515.0 530.4h0M517.7 524.6h0M520.3 536.1h0M523.0 536.1h0M525.6 541.8h0M528.3 547.5h0M531.0 547.5h0M533.6 541.8h0M536.3 541.8h0M538.9 547.5h0M541.6 553.2h0M544.3 553.2h0M546.9 558.9h0M549.6 558.9h0M552.2 558.9h0M554.9 564.6h0M557.6 570.4h0M560.2 564.6h0M562.9 570.4h0M565.5 570.4h0M568.2 576.1h0M570.9 576.1h0M573.5 581.8h0M576.2 581.8h0M578.8 587.5h0M581.5 581.8h0M584.2 587.5h0M586.8 587.5h0M589.5 581.8h0M592.2 587.5h0M594.8 587.5h0M597.5 593.2h0M600.1 598.9h0M602.8 598.9h0M605.5 598.9h0M608.1 598.9h0M610.8 604.7h0M613.4 604.7h0M616.1 616.1h0M618.8 610.4h0M621.4 610.4h0M624.1 610.4h0M626.7 610.4h0M629.4 616.1h0M632.1 621.8h0M634.7 621.8h0M637.4 621.8h0M640.0 616.1h0M642.7 627.5h0M645.4 627.5h0M648.0 627.5h0M650.7 627.5h0M653.3 627.5h0M656.0 633.2h0M658.7 627.5h0M661.3 633.2h0M664.0 633.2h0M666.7 627.5h0M669.3 639.0h0M672.0 639.0h0M674.6 639.0h0M677.3 639.0h0M680.0 639.0h0M682.6 639.0h0M685.3 639.0h0M687.9 639.0h0M690.6 644.7h0M693.3 644.7h0M695.9 639.0h0M698.6 650.4h0M701.2 644.7h0M703.9 644.7h0M706.6 644.7h0M709.2 650.4h0M711.9 656.1h0M714.5 650.4h0M717.2 650.4h0M719.9 650.4h0M722.5 656.1h0M725.2 656.1h0M727.8 656.1h0M730.5 661.8h0M733.2 656.1h0M735.8 667.5h0M738.5 661.8h0M741.2 667.5h0M743.8 661.8h0M746.5 667.5h0M749.1 667.5h0M751.8 667.5h0M754.5 667.5h0M757.1 667.5h0M759.8 673.3h0M762.4 673.3h0M765.1 667.5h0M767.8 667.5h0M770.4 673.3h0M773.1 679.0h0M775.7 679.0h0M778.4 673.3h0M781.1 673.3h0M783.7 679.0h0M786.4 679.0h0M789.0 673.3h0M791.7 684.7h0M794.4 679.0h0M797.0 679.0h0M799.7 679.0h0M802.3 679.0h0M805.0 684.7h0M807.7 679.0h0M810.3 679.0h0M813.0 679.0h0M815.7 679.0h0M818.3 684.7h0M821.0 684.7h0M823.6 684.7h0M826.3 684.7h0M829.0 684.7h0M831.6 684.7h0M834.3 684.7h0M836.9 690.4h0M839.6 684.7h0M842.3 679.0h0M844.9 684.7h0M847.6 684.7h0M850.2 684.7h0M852.9 684.7h0M855.6 684.7h0M858.2 684.7h0M860.9 690.4h0M863.5 684.7h0M866.2 690.4h0M868.9 684.7h0M871.5 690.4h0M874.2 684.7h0M876.8 690.4h0M879.5 696.1h0M882.2 690.4h0M884.8 690.4h0M887.5 684.7h0M890.2 690.4h0M892.8 690.4h0M895.5 696.1h0M898.1 690.4h0M900.8 690.4h0M903.5 690.4h0M906.1 696.1h0M908.8 696.1h0M911.4 696.1h0M914.1 690.4h0M916.8 690.4h0M919.4 696.1h0M922.1 696.1h0M924.7 696.1h0M927.4 696.1h0M930.1 701.8h0M932.7 696.1h0M935.4 696.1h0M938.0 696.1h0M940.7 696.1h0M943.4 701.8h0M946.0 701.8h0M948.7 701.8h0M951.3 696.1h0M954.0 696.1h0M956.7 696.1h0M959.3 701.8h0M962.0 696.1h0M964.6 701.8h0M967.3 701.8h0M970.0 701.8h0M972.6 701.8h0M975.3 701.8h0M978.0 701.8h0M980.6 696.1h0M983.3 701.8h0M985.9 707.5h0M988.6 701.8h0M991.3 696.1h0M993.9 696.1h0M996.6 707.5h0M999.2 701.8h0M1001.9 696.1h0M1004.6 701.8h0M1007.2 696.1h0M1009.9 701.8h0M1012.5 707.5h0M1015.2 701.8h0M1017.9 701.8h0M1020.5 707.5h0M1023.2 707.5h0M1025.8 707.5h0M1028.5 701.8h0M1031.2 701.8h0M1033.8 701.8h0M1036.5 701.8h0M1039.1 701.8h0M1041.8 707.5h0M1044.5 707.5h0M1047.1 701.8h0M1049.8 707.5h0M1052.5 707.5h0M1055.1 707.5h0" stroke="#D95319" stroke-width="5.3" stroke-linecap="round" fill="none"/>
<path d="M153.4 701.8L156.1 701.8L158.7 707.5L161.4 707.5L164.0 707.5L166.7 707.5L169.4 707.5L172.0 713.3L174.7 707.5L177.3 707.5L180.0 707.5L182.7 707.5L185.3 707.5L188.0 707.5L190.7 707.5L193.3 701.8L196.0 701.8L198.6 707.5L201.3 707.5L204.0 701.8L206.6 707.5L209.3 713.3L211.9 707.5L214.6 701.8L217.3 707.5L219.9 707.5L222.6 713.3L225.2 707.5L227.9 707.5L230.6 713.3L233.2 701.8L235.9 707.5L238.5 701.8L241.2 707.5L243.9 707.5L246.5 707.5L249.2 707.5L251.8 701.8L254.5 656.1L257.2 513.2L259.8 336.0L262.5 176.0L265.2 238.8L267.8 336.0L270.5 450.3L273.1 507.5L275.8 564.6L278.5 513.2L281.1 473.2L283.8 456.0L286.4 433.2L289.1 444.6L291.8 467.5L294.4 484.6L297.1 501.8L299.7 478.9L302.4 461.8L305.1 433.2L307.7 410.3L310.4 387.5L313.0 410.3L315.7 433.2L318.4 461.8L321.0 478.9L323.7 507.5L326.3 467.5L329.0 421.7L331.7 387.5L334.3 364.6L337.0 341.7L339.7 324.6L342.3 330.3L345.0 347.4L347.6 353.2L350.3 353.2L353.0 358.9L355.6 358.9L358.3 358.9L360.9 358.9L363.6 353.2L366.3 364.6L368.9 370.3L371.6 370.3L374.2 376.0L376.9 376.0L379.6 376.0L382.2 376.0L384.9 376.0L387.5 381.7L390.2 381.7L392.9 381.7L395.5 381.7L398.2 393.2L400.8 398.9L403.5 404.6L406.2 393.2L408.8 381.7L411.5 381.7L414.2 387.5L416.8 381.7L419.5 381.7L422.1 387.5L424.8 381.7L427.5 387.5L430.1 393.2L432.8 398.9L435.4 410.3L438.1 421.7L440.8 427.5L443.4 444.6L446.1 444.6L448.7 450.3L451.4 461.8L454.1 461.8L456.7 467.5L459.4 473.2L462.0 478.9L464.7 478.9L467.4 473.2L470.0 478.9L472.7 478.9L475.3 478.9L478.0 484.6L480.7 484.6L483.3 490.3L486.0 490.3L488.7 496.1L491.3 501.8L494.0 507.5L496.6 507.5L499.3 501.8L502.0 507.5L504.6 513.2L507.3 518.9L509.9 518.9L512.6 524.6L515.3 524.6L517.9 530.4L520.6 536.1L523.2 524.6L525.9 536.1L528.6 541.8L531.2 541.8L533.9 553.2L536.5 553.2L539.2 547.5L541.9 553.2L544.5 558.9L547.2 558.9L549.8 558.9L552.5 564.6L555.2 558.9L557.8 570.4L560.5 564.6L563.2 570.4L565.8 576.1L568.5 570.4L571.1 576.1L573.8 576.1L576.5 581.8L579.1 587.5L581.8 587.5L584.4 581.8L587.1 593.2L589.8 593.2L592.4 593.2L595.1 587.5L597.7 593.2L600.4 593.2L603.1 598.9L605.7 598.9L608.4 598.9L611.0 610.4L613.7 604.7L616.4 610.4L619.0 610.4L621.7 616.1L624.3 621.8L627.0 616.1L629.7 616.1L632.3 621.8L635.0 621.8L637.6 621.8L640.3 621.8L643.0 621.8L645.6 627.5L648.3 627.5L651.0 627.5L653.6 627.5L656.3 627.5L658.9 633.2L661.6 627.5L664.3 633.2L666.9 633.2L669.6 633.2L672.2 627.5L674.9 639.0L677.6 627.5L680.2 639.0L682.9 639.0L685.5 639.0L688.2 639.0L690.9 639.0L693.5 633.2L696.2 639.0L698.8 644.7L701.5 644.7L704.2 644.7L706.8 650.4L709.5 650.4L712.1 650.4L714.8 650.4L717.5 656.1L720.1 650.4L722.8 656.1L725.5 650.4L728.1 656.1L730.8 661.8L733.4 661.8L736.1 656.1L738.8 661.8L741.4 661.8L744.1 661.8L746.7 656.1L749.4 661.8L752.1 656.1L754.7 661.8L757.4 673.3L760.0 667.5L762.7 661.8L765.4 673.3L768.0 673.3L770.7 673.3L773.3 673.3L776.0 667.5L778.7 673.3L781.3 667.5L784.0 679.0L786.6 679.0L789.3 673.3L792.0 673.3L794.6 673.3L797.3 673.3L800.0 673.3L802.6 673.3L805.3 679.0L807.9 673.3L810.6 679.0L813.3 673.3L815.9 684.7L818.6 679.0L821.2 679.0L823.9 679.0L826.6 673.3L829.2 684.7L831.9 684.7L834.5 684.7L837.2 679.0L839.9 684.7L842.5 679.0L845.2 679.0L847.8 690.4L850.5 690.4L853.2 684.7L855.8 684.7L858.5 690.4L861.1 684.7L863.8 690.4L866.5 684.7L869.1 690.4L871.8 690.4L874.5 690.4L877.1 690.4L879.8 690.4L882.4 690.4L885.1 696.1L887.8 690.4L890.4 696.1L893.1 690.4L895.7 690.4L898.4 690.4L901.1 684.7L903.7 690.4L906.4 690.4L909.0 690.4L911.7 690.4L914.4 690.4L917.0 690.4L919.7 690.4L922.3 696.1L925.0 696.1L927.7 696.1L930.3 690.4L933.0 696.1L935.6 696.1L938.3 696.1L941.0 696.1L943.6 696.1L946.3 696.1L949.0 696.1L951.6 696.1L954.3 701.8L956.9 696.1L959.6 690.4L962.3 701.8L964.9 701.8L967.6 696.1L970.2 701.8L972.9 701.8L975.6 701.8L978.2 696.1L980.9 701.8L983.5 696.1L986.2 701.8L988.9 701.8L991.5 701.8L994.2 701.8L996.8 707.5L999.5 696.1L1002.2 701.8L1004.8 696.1L1007.5 701.8L1010.1 701.8L1012.8 701.8L1015.5 696.1L1018.1 701.8L1020.8 701.8L1023.5 701.8L1026.1 707.5L1028.8 707.5L1031.4 707.5L1034.1 707.5L1036.8 707.5L1039.4 701.8L1042.1 707.5L1044.7 707.5L1047.4 707.5L1050.1 707.5L1052.7 707.5L1055.4 701.8" stroke="#EDB120" stroke-width="1.6" fill="none" stroke-linejoin="round"/>
<path d="M153.4 701.8h0M156.1 701.8h0M158.7 707.5h0M161.4 707.5h0M164.0 707.5h0M166.7 707.5h0M169.4 707.5h0M172.0 713.3h0M174.7 707.5h0M177.3 707.5h0M180.0 707.5h0M182.7 707.5h0M185.3 707.5h0M188.0 707.5h0M190.7 707.5h0M193.3 701.8h0M196.0 701.8h0M198.6 707.5h0M201.3 707.5h0M204.0 701.8h0M206.6 707.5h0M209.3 713.3h0M211.9 707.5h0M214.6 701.8h0M217.3 707.5h0M219.9 707.5h0M222.6 713.3h0M225.2 707.5h0M227.9 707.5h0M230.6 713.3h0M233.2 701.8h0M235.9 707.5h0M238.5 701.8h0M241.2 707.5h0M243.9 707.5h0M246.5 707.5h0M249.2 707.5h0M251.8 701.8h0M254.5 656.1h0M257.2 513.2h0M259.8 336.0h0M262.5 176.0h0M265.2 238.8h0M267.8 336.0h0M270.5 450.3h0M273.1 507.5h0M275.8 564.6h0M278.5 513.2h0M281.1 473.2h0M283.8 456.0h0M286.4 433.2h0M289.1 444.6h0M291.8 467.5h0M294.4 484.6h0M297.1 501.8h0M299.7 478.9h0M302.4 461.8h0M305.1 433.2h0M307.7 410.3h0M310.4 387.5h0M313.0 410.3h0M315.7 433.2h0M318.4 461.8h0M321.0 478.9h0M323.7 507.5h0M326.3 467.5h0M329.0 421.7h0M331.7 387.5h0M334.3 364.6h0M337.0 341.7h0M339.7 324.6h0M342.3 330.3h0M345.0 347.4h0M347.6 353.2h0M350.3 353.2h0M353.0 358.9h0M355.6 358.9h0M358.3 358.9h0M360.9 358.9h0M363.6 353.2h0M366.3 364.6h0M368.9 370.3h0M371.6 370.3h0M374.2 376.0h0M376.9 376.0h0M379.6 376.0h0M382.2 376.0h0M384.9 376.0h0M387.5 381.7h0M390.2 381.7h0M392.9 381.7h0M395.5 381.7h0M398.2 393.2h0M400.8 398.9h0M403.5 404.6h0M406.2 393.2h0M408.8 381.7h0M411.5 381.7h0M414.2 387.5h0M416.8 381.7h0M419.5 381.7h0M422.1 387.5h0M424.8 381.7h0M427.5 387.5h0M430.1 393.2h0M432.8 398.9h0M435.4 410.3h0M438.1 421.7h0M440.8 427.5h0M443.4 444.6h0M446.1 444.6h0M448.7 450.3h0M451.4 461.8h0M454.1 461.8h0M456.7 467.5h0M459.4 473.2h0M462.0 478.9h0M464.7 478.9h0M467.4 473.2h0M470.0 478.9h0M472.7 478.9h0M475.3 478.9h0M478.0 484.6h0M480.7 484.6h0M483.3 490.3h0M486.0 490.3h0M488.7 496.1h0M491.3 501.8h0M494.0 507.5h0M496.6 507.5h0M499.3 501.8h0M502.0 507.5h0M504.6 513.2h0M507.3 518.9h0M509.9 518.9h0M512.6 524.6h0M515.3 524.6h0M517.9 530.4h0M520.6 536.1h0M523.2 524.6h0M525.9 536.1h0M528.6 541.8h0M531.2 541.8h0M533.9 553.2h0M536.5 553.2h0M539.2 547.5h0M541.9 553.2h0M544.5 558.9h0M547.2 558.9h0M549.8 558.9h0M552.5 564.6h0M555.2 558.9h0M557.8 570.4h0M560.5 564.6h0M563.2 570.4h0M565.8 576.1h0M568.5 570.4h0M571.1 576.1h0M573.8 576.1h0M576.5 581.8h0M579.1 587.5h0M581.8 587.5h0M584.4 581.8h0M587.1 593.2h0M589.8 593.2h0M592.4 593.2h0M595.1 587.5h0M597.7 593.2h0M600.4 593.2h0M603.1 598.9h0M605.7 598.9h0M608.4 598.9h0M611.0 610.4h0M613.7 604.7h0M616.4 610.4h0M619.0 610.4h0M621.7 616.1h0M624.3 621.8h0M627.0 616.1h0M629.7 616.1h0M632.3 621.8h0M635.0 621.8h0M637.6 621.8h0M640.3 621.8h0M643.0 621.8h0M645.6 627.5h0M648.3 627.5h0M651.0 627.5h0M653.6 627.5h0M656.3 627.5h0M658.9 633.2h0M661.6 627.5h0M664.3 633.2h0M666.9 633.2h0M669.6 633.2h0M672.2 627.5h0M674.9 639.0h0M677.6 627.5h0M680.2 639.0h0M682.9 639.0h0M685.5 639.0h0M688.2 639.0h0M690.9 639.0h0M693.5 633.2h0M696.2 639.0h0M698.8 644.7h0M701.5 644.7h0M704.2 644.7h0M706.8 650.4h0M709.5 650.4h0M712.1 650.4h0M714.8 650.4h0M717.5 656.1h0M720.1 650.4h0M722.8 656.1h0M725.5 650.4h0M728.1 656.1h0M730.8 661.8h0M733.4 661.8h0M736.1 656.1h0M738.8 661.8h0M741.4 661.8h0M744.1 661.8h0M746.7 656.1h0M749.4 661.8h0M752.1 656.1h0M754.7 661.8h0M757.4 673.3h0M760.0 667.5h0M762.7 661.8h0M765.4 673.3h0M768.0 673.3h0M770.7 673.3h0M773.3 673.3h0M776.0 667.5h0M778.7 673.3h0M781.3 667.5h0M784.0 679.0h0M786.6 679.0h0M789.3 673.3h0M792.0 673.3h0M794.6 673.3h0M797.3 673.3h0M800.0 673.3h0M802.6 673.3h0M805.3 679.0h0M807.9 673.3h0M810.6 679.0h0M813.3 673.3h0M815.9 684.7h0M818.6 679.0h0M821.2 679.0h0M823.9 679.0h0M826.6 673.3h0M829.2 684.7h0M831.9 684.7h0M834.5 684.7h0M837.2 679.0h0M839.9 684.7h0M842.5 679.0h0M845.2 679.0h0M847.8 690.4h0M850.5 690.4h0M853.2 684.7h0M855.8 684.7h0M858.5 690.4h0M861.1 684.7h0M863.8 690.4h0M866.5 684.7h0M869.1 690.4h0M871.8 690.4h0M874.5 690.4h0M877.1 690.4h0M879.8 690.4h0M882.4 690.4h0M885.1 696.1h0M887.8 690.4h0M890.4 696.1h0M893.1 690.4h0M895.7 690.4h0M898.4 690.4h0M901.1 684.7h0M903.7 690.4h0M906.4 690.4h0M909.0 690.4h0M911.7 690.4h0M914.4 690.4h0M917.0 690.4h0M919.7 690.4h0M922.3 696.1h0M925.0 696.1h0M927.7 696.1h0M930.3 690.4h0M933.0 696.1h0M935.6 696.1h0M938.3 696.1h0M941.0 696.1h0M943.6 696.1h0M946.3 696.1h0M949.0 696.1h0M951.6 696.1h0M954.3 701.8h0M956.9 696.1h0M959.6 690.4h0M962.3 701.8h0M964.9 701.8h0M967.6 696.1h0M970.2 701.8h0M972.9 701.8h0M975.6 701.8h0M978.2 696.1h0M980.9 701.8h0M983.5 696.1h0M986.2 701.8h0M988.9 701.8h0M991.5 701.8h0M994.2 701.8h0M996.8 707.5h0M999.5 696.1h0M1002.2 701.8h0M1004.8 696.1h0M1007.5 701.8h0M1010.1 701.8h0M1012.8 701.8h0M1015.5 696.1h0M1018.1 701.8h0M1020.8 701.8h0M1023.5 701.8h0M1026.1 707.5h0M1028.8 707.5h0M1031.4 707.5h0M1034.1 707.5h0M1036.8 707.5h0M1039.4 701.8h0M1042.1 707.5h0M1044.7 707.5h0M1047.4 707.5h0M1050.1 707.5h0M1052.7 707.5h0M1055.4 701.8h0" stroke="#EDB120" stroke-width="5.3" stroke-linecap="round" fill="none"/>
<path d="M154.2 707.5L156.9 707.5L159.5 707.5L162.2 707.5L164.8 707.5L167.5 707.5L170.2 707.5L172.8 707.5L175.5 707.5L178.1 701.8L180.8 707.5L183.5 707.5L186.1 707.5L188.8 707.5L191.5 707.5L194.1 707.5L196.8 707.5L199.4 707.5L202.1 707.5L204.8 707.5L207.4 707.5L210.1 707.5L212.7 707.5L215.4 707.5L218.1 707.5L220.7 707.5L223.4 707.5L226.0 707.5L228.7 707.5L231.4 707.5L234.0 707.5L236.7 707.5L239.3 707.5L242.0 707.5L244.7 707.5L247.3 701.8L250.0 701.8L252.6 701.8L255.3 627.5L258.0 467.5L260.6 296.0L263.3 170.2L265.9 267.4L268.6 364.6L271.3 467.5L273.9 518.9L276.6 570.4L279.3 507.5L281.9 467.5L284.6 450.3L287.2 438.9L289.9 467.5L292.6 484.6L295.2 507.5L297.9 518.9L300.5 484.6L303.2 456.0L305.9 433.2L308.5 410.3L311.2 398.9L313.8 421.7L316.5 450.3L319.2 478.9L321.8 513.2L324.5 473.2L327.1 438.9L329.8 410.3L332.5 376.0L335.1 358.9L337.8 330.3L340.4 336.0L343.1 330.3L345.8 330.3L348.4 336.0L351.1 336.0L353.8 341.7L356.4 341.7L359.1 341.7L361.7 341.7L364.4 341.7L367.1 353.2L369.7 353.2L372.4 353.2L375.0 364.6L377.7 353.2L380.4 353.2L383.0 353.2L385.7 353.2L388.3 358.9L391.0 376.0L393.7 387.5L396.3 398.9L399.0 398.9L401.6 404.6L404.3 410.3L407.0 398.9L409.6 387.5L412.3 393.2L414.9 387.5L417.6 393.2L420.3 387.5L422.9 387.5L425.6 393.2L428.3 393.2L430.9 398.9L433.6 410.3L436.2 416.0L438.9 427.5L441.6 433.2L444.2 450.3L446.9 456.0L449.5 456.0L452.2 467.5L454.9 473.2L457.5 473.2L460.2 478.9L462.8 478.9L465.5 478.9L468.2 473.2L470.8 478.9L473.5 484.6L476.1 490.3L478.8 490.3L481.5 490.3L484.1 501.8L486.8 496.1L489.4 501.8L492.1 501.8L494.8 507.5L497.4 513.2L500.1 513.2L502.8 518.9L505.4 524.6L508.1 524.6L510.7 530.4L513.4 530.4L516.1 536.1L518.7 536.1L521.4 536.1L524.0 541.8L526.7 541.8L529.4 547.5L532.0 547.5L534.7 547.5L537.3 553.2L540.0 553.2L542.7 553.2L545.3 553.2L548.0 558.9L550.6 564.6L553.3 564.6L556.0 564.6L558.6 570.4L561.3 570.4L563.9 570.4L566.6 576.1L569.3 570.4L571.9 576.1L574.6 581.8L577.3 581.8L579.9 576.1L582.6 576.1L585.2 581.8L587.9 587.5L590.6 587.5L593.2 587.5L595.9 587.5L598.5 598.9L601.2 593.2L603.9 598.9L606.5 598.9L609.2 598.9L611.8 604.7L614.5 610.4L617.2 604.7L619.8 610.4L622.5 610.4L625.1 616.1L627.8 616.1L630.5 616.1L633.1 621.8L635.8 616.1L638.4 621.8L641.1 616.1L643.8 627.5L646.4 627.5L649.1 627.5L651.8 633.2L654.4 627.5L657.1 633.2L659.7 633.2L662.4 627.5L665.1 633.2L667.7 633.2L670.4 633.2L673.0 633.2L675.7 633.2L678.4 639.0L681.0 639.0L683.7 639.0L686.3 639.0L689.0 639.0L691.7 639.0L694.3 639.0L697.0 644.7L699.6 644.7L702.3 644.7L705.0 650.4L707.6 650.4L710.3 650.4L712.9 656.1L715.6 656.1L718.3 656.1L720.9 656.1L723.6 656.1L726.3 661.8L728.9 656.1L731.6 656.1L734.2 656.1L736.9 661.8L739.6 661.8L742.2 667.5L744.9 661.8L747.5 661.8L750.2 667.5L752.9 667.5L755.5 661.8L758.2 667.5L760.8 667.5L763.5 667.5L766.2 673.3L768.8 673.3L771.5 673.3L774.1 684.7L776.8 690.4L779.5 696.1L782.1 696.1L784.8 696.1L787.4 696.1L790.1 696.1L792.8 696.1L795.4 690.4L798.1 690.4L800.8 690.4L803.4 696.1L806.1 696.1L808.7 696.1L811.4 696.1L814.1 707.5L816.7 707.5L819.4 707.5L822.0 707.5L824.7 701.8L827.4 707.5L830.0 707.5L832.7 707.5L835.3 707.5L838.0 707.5L840.7 707.5L843.3 701.8L846.0 707.5L848.6 713.3L851.3 707.5L854.0 701.8L856.6 701.8L859.3 707.5L861.9 707.5L864.6 701.8L867.3 701.8L869.9 707.5L872.6 707.5L875.3 707.5L877.9 707.5L880.6 701.8L883.2 701.8L885.9 707.5L888.6 707.5L891.2 701.8L893.9 707.5L896.5 707.5L899.2 701.8L901.9 707.5L904.5 707.5L907.2 707.5L909.8 701.8L912.5 701.8L915.2 707.5L917.8 707.5L920.5 701.8L923.1 701.8L925.8 707.5L928.5 707.5L931.1 707.5L933.8 707.5L936.4 701.8L939.1 707.5L941.8 707.5L944.4 707.5L947.1 707.5L949.7 713.3L952.4 707.5L955.1 707.5L957.7 707.5L960.4 713.3L963.1 701.8L965.7 707.5L968.4 707.5L971.0 707.5L973.7 707.5L976.4 707.5L979.0 713.3L981.7 707.5L984.3 707.5L987.0 713.3L989.7 707.5L992.3 713.3L995.0 707.5L997.6 713.3L1000.3 713.3L1003.0 713.3L1005.6 707.5L1008.3 713.3L1010.9 707.5L1013.6 707.5L1016.3 707.5L1018.9 713.3L1021.6 707.5L1024.2 707.5L1026.9 701.8L1029.6 701.8L1032.2 713.3L1034.9 701.8L1037.6 701.8L1040.2 707.5L1042.9 707.5L1045.5 701.8L1048.2 707.5L1050.9 713.3L1053.5 707.5L1056.2 707.5" stroke="#7E2F8E" stroke-width="1.6" fill="none" stroke-linejoin="round"/>
<path d="M154.2 707.5h0M156.9 707.5h0M159.5 707.5h0M162.2 707.5h0M164.8 707.5h0M167.5 707.5h0M170.2 707.5h0M172.8 707.5h0M175.5 707.5h0M178.1 701.8h0M180.8 707.5h0M183.5 707.5h0M186.1 707.5h0M188.8 707.5h0M191.5 707.5h0M194.1 707.5h0M196.8 707.5h0M199.4 707.5h0M202.1 707.5h0M204.8 707.5h0M207.4 707.5h0M210.1 707.5h0M212.7 707.5h0M215.4 707.5h0M218.1 707.5h0M220.7 707.5h0M223.4 707.5h0M226.0 707.5h0M228.7 707.5h0M231.4 707.5h0M234.0 707.5h0M236.7 707.5h0M239.3 707.5h0M242.0 707.5h0M244.7 707.5h0M247.3 701.8h0M250.0 701.8h0M252.6 701.8h0M255.3 627.5h0M258.0 467.5h0M260.6 296.0h0M263.3 170.2h0M265.9 267.4h0M268.6 364.6h0M271.3 467.5h0M273.9 518.9h0M276.6 570.4h0M279.3 507.5h0M281.9 467.5h0M284.6 450.3h0M287.2 438.9h0M289.9 467.5h0M292.6 484.6h0M295.2 507.5h0M297.9 518.9h0M300.5 484.6h0M303.2 456.0h0M305.9 433.2h0M308.5 410.3h0M311.2 398.9h0M313.8 421.7h0M316.5 450.3h0M319.2 478.9h0M321.8 513.2h0M324.5 473.2h0M327.1 438.9h0M329.8 410.3h0M332.5 376.0h0M335.1 358.9h0M337.8 330.3h0M340.4 336.0h0M343.1 330.3h0M345.8 330.3h0M348.4 336.0h0M351.1 336.0h0M353.8 341.7h0M356.4 341.7h0M359.1 341.7h0M361.7 341.7h0M364.4 341.7h0M367.1 353.2h0M369.7 353.2h0M372.4 353.2h0M375.0 364.6h0M377.7 353.2h0M380.4 353.2h0M383.0 353.2h0M385.7 353.2h0M388.3 358.9h0M391.0 376.0h0M393.7 387.5h0M396.3 398.9h0M399.0 398.9h0M401.6 404.6h0M404.3 410.3h0M407.0 398.9h0M409.6 387.5h0M412.3 393.2h0M414.9 387.5h0M417.6 393.2h0M420.3 387.5h0M422.9 387.5h0M425.6 393.2h0M428.3 393.2h0M430.9 398.9h0M433.6 410.3h0M436.2 416.0h0M438.9 427.5h0M441.6 433.2h0M444.2 450.3h0M446.9 456.0h0M449.5 456.0h0M452.2 467.5h0M454.9 473.2h0M457.5 473.2h0M460.2 478.9h0M462.8 478.9h0M465.5 478.9h0M468.2 473.2h0M470.8 478.9h0M473.5 484.6h0M476.1 490.3h0M478.8 490.3h0M481.5 490.3h0M484.1 501.8h0M486.8 496.1h0M489.4 501.8h0M492.1 501.8h0M494.8 507.5h0M497.4 513.2h0M500.1 513.2h0M502.8 518.9h0M505.4 524.6h0M508.1 524.6h0M510.7 530.4h0M513.4 530.4h0M516.1 536.1h0M518.7 536.1h0M521.4 536.1h0M524.0 541.8h0M526.7 541.8h0M529.4 547.5h0M532.0 547.5h0M534.7 547.5h0M537.3 553.2h0M540.0 553.2h0M542.7 553.2h0M545.3 553.2h0M548.0 558.9h0M550.6 564.6h0M553.3 564.6h0M556.0 564.6h0M558.6 570.4h0M561.3 570.4h0M563.9 570.4h0M566.6 576.1h0M569.3 570.4h0M571.9 576.1h0M574.6 581.8h0M577.3 581.8h0M579.9 576.1h0M582.6 576.1h0M585.2 581.8h0M587.9 587.5h0M590.6 587.5h0M593.2 587.5h0M595.9 587.5h0M598.5 598.9h0M601.2 593.2h0M603.9 598.9h0M606.5 598.9h0M609.2 598.9h0M611.8 604.7h0M614.5 610.4h0M617.2 604.7h0M619.8 610.4h0M622.5 610.4h0M625.1 616.1h0M627.8 616.1h0M630.5 616.1h0M633.1 621.8h0M635.8 616.1h0M638.4 621.8h0M641.1 616.1h0M643.8 627.5h0M646.4 627.5h0M649.1 627.5h0M651.8 633.2h0M654.4 627.5h0M657.1 633.2h0M659.7 633.2h0M662.4 627.5h0M665.1 633.2h0M667.7 633.2h0M670.4 633.2h0M673.0 633.2h0M675.7 633.2h0M678.4 639.0h0M681.0 639.0h0M683.7 639.0h0M686.3 639.0h0M689.0 639.0h0M691.7 639.0h0M694.3 639.0h0M697.0 644.7h0M699.6 644.7h0M702.3 644.7h0M705.0 650.4h0M707.6 650.4h0M710.3 650.4h0M712.9 656.1h0M715.6 656.1h0M718.3 656.1h0M720.9 656.1h0M723.6 656.1h0M726.3 661.8h0M728.9 656.1h0M731.6 656.1h0M734.2 656.1h0M736.9 661.8h0M739.6 661.8h0M742.2 667.5h0M744.9 661.8h0M747.5 661.8h0M750.2 667.5h0M752.9 667.5h0M755.5 661.8h0M758.2 667.5h0M760.8 667.5h0M763.5 667.5h0M766.2 673.3h0M768.8 673.3h0M771.5 673.3h0M774.1 684.7h0M776.8 690.4h0M779.5 696.1h0M782.1 696.1h0M784.8 696.1h0M787.4 696.1h0M790.1 696.1h0M792.8 696.1h0M795.4 690.4h0M798.1 690.4h0M800.8 690.4h0M803.4 696.1h0M806.1 696.1h0M808.7 696.1h0M811.4 696.1h0M814.1 707.5h0M816.7 707.5h0M819.4 707.5h0M822.0 707.5h0M824.7 701.8h0M827.4 707.5h0M830.0 707.5h0M832.7 707.5h0M835.3 707.5h0M838.0 707.5h0M840.7 707.5h0M843.3 701.8h0M846.0 707.5h0M848.6 713.3h0M851.3 707.5h0M854.0 701.8h0M856.6 701.8h0M859.3 707.5h0M861.9 707.5h0M864.6 701.8h0M867.3 701.8h0M869.9 707.5h0M872.6 707.5h0M875.3 707.5h0M877.9 707.5h0M880.6 701.8h0M883.2 701.8h0M885.9 707.5h0M888.6 707.5h0M891.2 701.8h0M893.9 707.5h0M896.5 707.5h0M899.2 701.8h0M901.9 707.5h0M904.5 707.5h0M907.2 707.5h0M909.8 701.8h0M912.5 701.8h0M915.2 707.5h0M917.8 707.5h0M920.5 701.8h0M923.1 701.8h0M925.8 707.5h0M928.5 707.5h0M931.1 707.5h0M933.8 707.5h0M936.4 701.8h0M939.1 707.5h0M941.8 707.5h0M944.4 707.5h0M947.1 707.5h0M949.7 713.3h0M952.4 707.5h0M955.1 707.5h0M957.7 707.5h0M960.4 713.3h0M963.1 701.8h0M965.7 707.5h0M968.4 707.5h0M971.0 707.5h0M973.7 707.5h0M976.4 707.5h0M979.0 713.3h0M981.7 707.5h0M984.3 707.5h0M987.0 713.3h0M989.7 707.5h0M992.3 713.3h0M995.0 707.5h0M997.6 713.3h0M1000.3 713.3h0M1003.0 713.3h0M1005.6 707.5h0M1008.3 713.3h0M1010.9 707.5h0M1013.6 707.5h0M1016.3 707.5h0M1018.9 713.3h0M1021.6 707.5h0M1024.2 707.5h0M1026.9 701.8h0M1029.6 701.8h0M1032.2 713.3h0M1034.9 701.8h0M1037.6 701.8h0M1040.2 707.5h0M1042.9 707.5h0M1045.5 701.8h0M1048.2 707.5h0M1050.9 713.3h0M1053.5 707.5h0M1056.2 707.5h0" stroke="#7E2F8E" stroke-width="5.3" stroke-linecap="round" fill="none"/>
<path d="M263.7 254.6V94.5M232.1 94.5H284.9M232.1 254.6H284.9M418.1 508.2V338.2M391.7 338.2H444.5M391.7 508.2H444.5M577.5 608.2V522.9M551.1 522.9H603.9M551.1 608.2H603.9" stroke="#000" stroke-width="1.6" fill="none"/>
<rect x="733.5" y="87.5" width="299.8" height="347.7" fill="#fff" stroke="#262626" stroke-width="1.3"/>
<path d="M742 106.5H824.6" stroke="#0072BD" stroke-width="1.4"/><path d="M783.6 106.6h0" stroke="#0072BD" stroke-width="5.3" stroke-linecap="round"/>
<text transform="translate(832 113.0) scale(1.03 1)" class="lg" style="font-size:26.5px">Theory 2kV/7.5A</text>
<path d="M742 137.5H824.6" stroke="#D95319" stroke-width="1.4"/><path d="M783.6 137.6h0" stroke="#D95319" stroke-width="5.3" stroke-linecap="round"/>
<text x="832" y="143.9" class="lg">meas.<tspan dx="5">&#160;1</tspan></text>
<path d="M742 168.5H824.6" stroke="#EDB120" stroke-width="1.4"/><path d="M783.6 168.5h0" stroke="#EDB120" stroke-width="5.3" stroke-linecap="round"/>
<text x="832" y="174.8" class="lg">meas.<tspan dx="5">&#160;2</tspan></text>
<path d="M742 199.5H824.6" stroke="#7E2F8E" stroke-width="1.4"/><path d="M783.6 199.5h0" stroke="#7E2F8E" stroke-width="5.3" stroke-linecap="round"/>
<text x="832" y="205.8" class="lg">meas.<tspan dx="5">&#160;3</tspan></text>
<path d="M742 230.5H824.6" stroke="#77AC30" stroke-width="1.4"/><path d="M783.6 230.4h0" stroke="#77AC30" stroke-width="5.3" stroke-linecap="round"/>
<text x="832" y="236.7" class="lg">meas.<tspan dx="5">&#160;4</tspan></text>
<path d="M742 261.5H824.6" stroke="#4DBEEE" stroke-width="1.4"/><path d="M783.6 261.4h0" stroke="#4DBEEE" stroke-width="5.3" stroke-linecap="round"/>
<text x="832" y="267.7" class="lg">meas.<tspan dx="5">&#160;5</tspan></text>
<path d="M742 292.5H824.6" stroke="#A2142F" stroke-width="1.4"/><path d="M783.6 292.4h0" stroke="#A2142F" stroke-width="5.3" stroke-linecap="round"/>
<text x="832" y="298.7" class="lg">meas.<tspan dx="5">&#160;6</tspan></text>
<path d="M742 323.5H824.6" stroke="#0072BD" stroke-width="1.4"/><path d="M783.6 323.3h0" stroke="#0072BD" stroke-width="5.3" stroke-linecap="round"/>
<text x="832" y="329.6" class="lg">meas.<tspan dx="5">&#160;7</tspan></text>
<path d="M742 354.5H824.6" stroke="#D95319" stroke-width="1.4"/><path d="M783.6 354.3h0" stroke="#D95319" stroke-width="5.3" stroke-linecap="round"/>
<text x="832" y="360.6" class="lg">meas.<tspan dx="5">&#160;8</tspan></text>
<path d="M742 385.5H824.6" stroke="#EDB120" stroke-width="1.4"/><path d="M783.6 385.2h0" stroke="#EDB120" stroke-width="5.3" stroke-linecap="round"/>
<text x="832" y="391.5" class="lg">meas.<tspan dx="5">&#160;9</tspan></text>
<path d="M742 416.5H824.6" stroke="#7E2F8E" stroke-width="1.4"/><path d="M783.6 416.2h0" stroke="#7E2F8E" stroke-width="5.3" stroke-linecap="round"/>
<text x="832" y="422.5" class="lg">meas.<tspan dx="5">&#160;10</tspan></text>
<text x="152.1" y="814" class="tk" text-anchor="middle">-20</text>
<text x="258.5" y="814" class="tk" text-anchor="middle">0</text>
<text x="364.9" y="814" class="tk" text-anchor="middle">20</text>
<text x="471.4" y="814" class="tk" text-anchor="middle">40</text>
<text x="577.8" y="814" class="tk" text-anchor="middle">60</text>
<text x="684.2" y="814" class="tk" text-anchor="middle">80</text>
<text x="790.6" y="814" class="tk" text-anchor="middle">100</text>
<text x="897.1" y="814" class="tk" text-anchor="middle">120</text>
<text x="1003.5" y="814" class="tk" text-anchor="middle">140</text>
<text x="140.5" y="786.5" class="tk" text-anchor="end">-1</text>
<text x="140.5" y="715.0" class="tk" text-anchor="end">0</text>
<text x="140.5" y="643.6" class="tk" text-anchor="end">1</text>
<text x="140.5" y="572.1" class="tk" text-anchor="end">2</text>
<text x="140.5" y="500.7" class="tk" text-anchor="end">3</text>
<text x="140.5" y="429.2" class="tk" text-anchor="end">4</text>
<text x="140.5" y="357.8" class="tk" text-anchor="end">5</text>
<text x="140.5" y="286.3" class="tk" text-anchor="end">6</text>
<text x="140.5" y="214.9" class="tk" text-anchor="end">7</text>
<text x="140.5" y="143.4" class="tk" text-anchor="end">8</text>
<text x="140.5" y="72.0" class="tk" text-anchor="end">9</text>
<text x="604" y="852" class="al" text-anchor="middle">Time [ns]</text>
<text transform="translate(99 423) rotate(-90)" class="al" text-anchor="middle">Current [A]</text>
</svg></body></html>
